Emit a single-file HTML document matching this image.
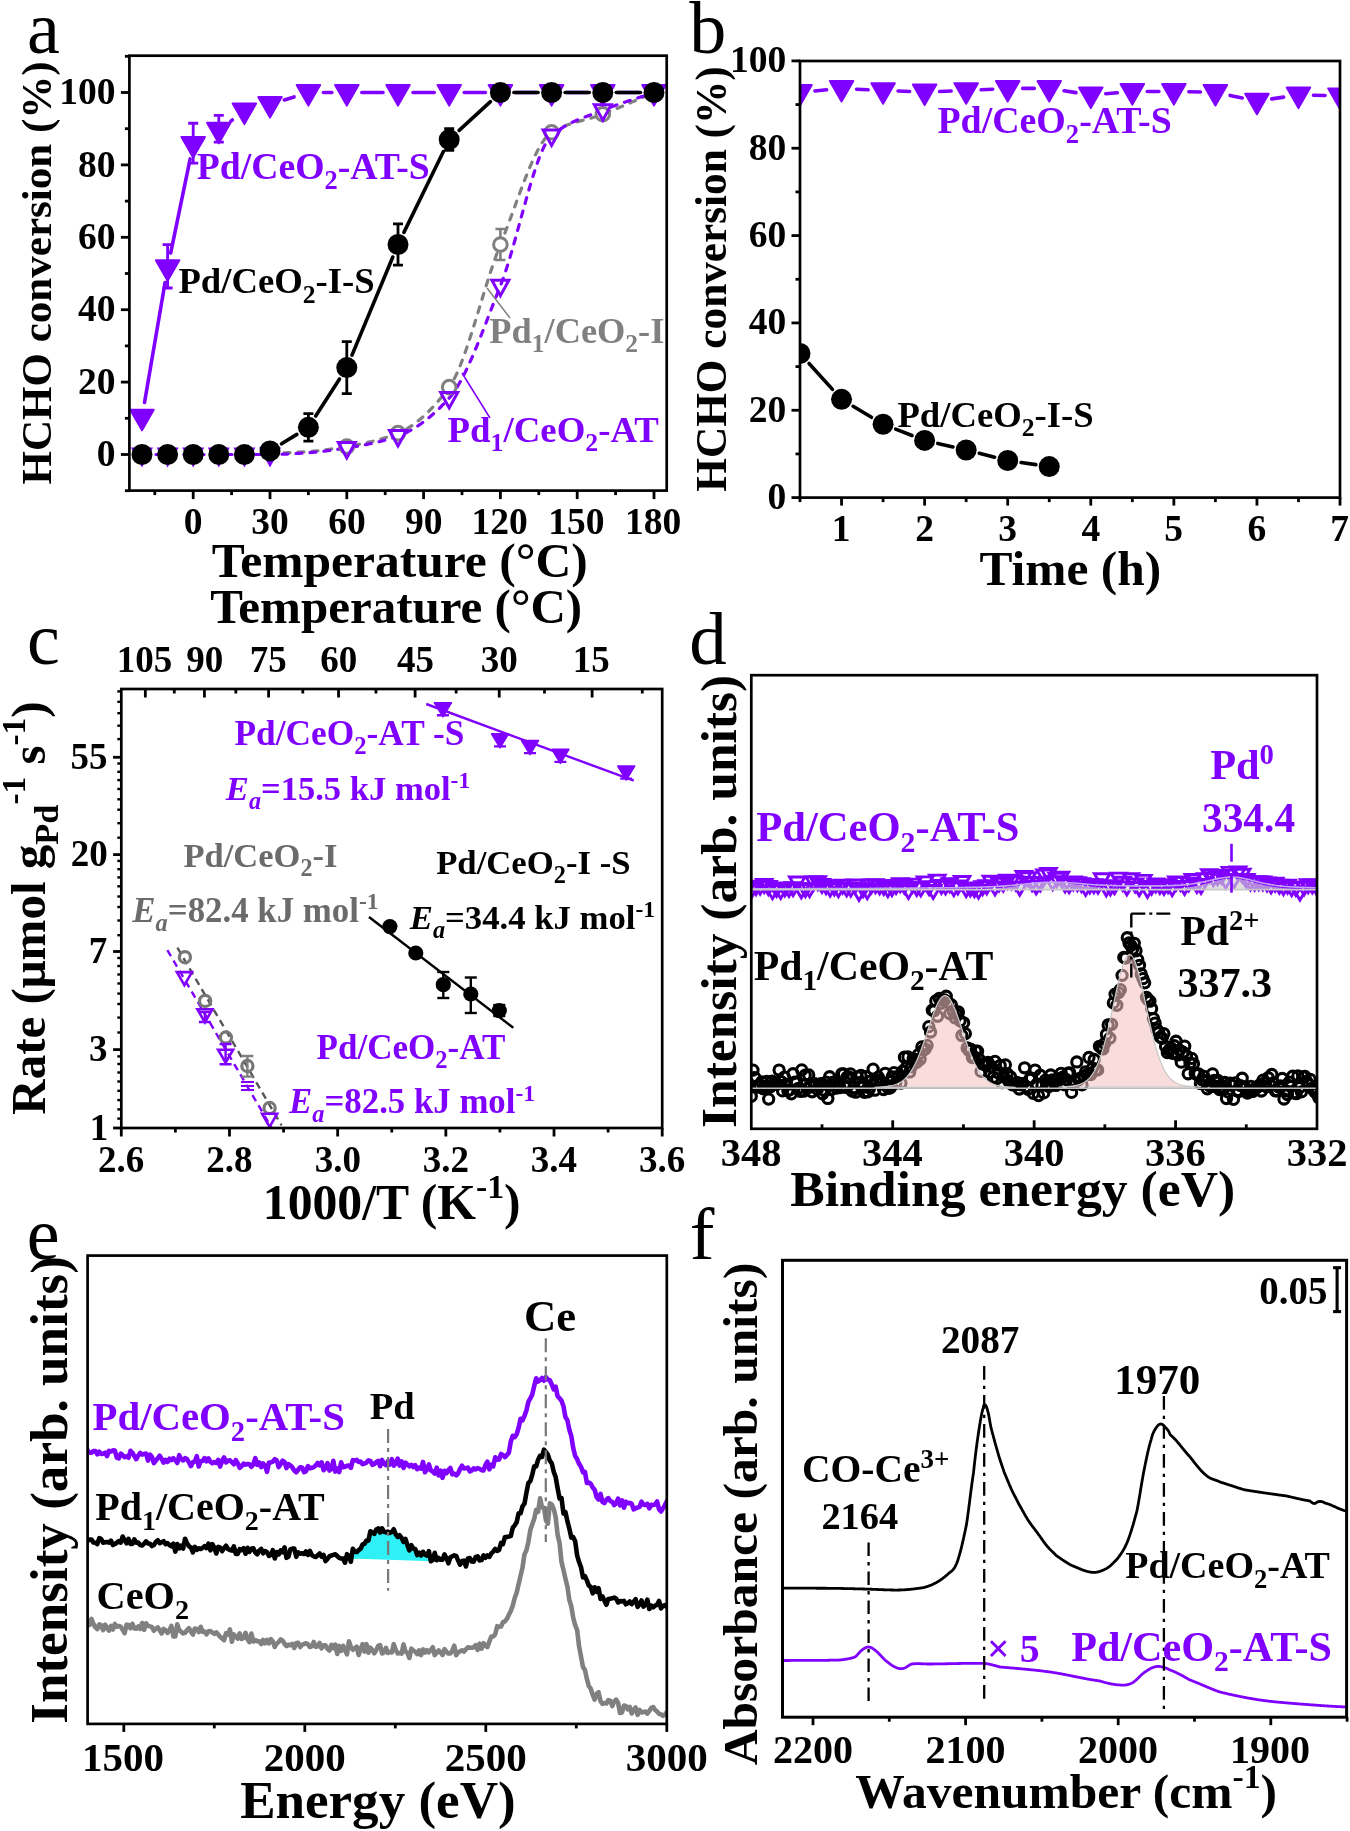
<!DOCTYPE html>
<html><head><meta charset="utf-8"><style>
html,body{margin:0;padding:0;background:#fff;overflow:hidden;}
svg{display:block;will-change:transform;}
text{font-family:"Liberation Serif",serif;}
</style></head><body>
<svg width="1350" height="1831" viewBox="0 0 1350 1831">
<rect width="1350" height="1831" fill="#fff"/>
<clipPath id="ca"><rect x="129.4" y="55.7" width="537.3000000000001" height="434.90000000000003"/></clipPath>
<g clip-path="url(#ca)">
<path d="M270,453.41 L271.01,453.37 L272.02,453.32 L273.03,453.28 L274.04,453.23 L275.05,453.19 L276.06,453.15 L277.07,453.1 L278.08,453.06 L279.09,453.02 L280.11,452.98 L281.12,452.94 L282.13,452.9 L283.14,452.86 L284.15,452.82 L285.16,452.78 L286.17,452.74 L287.18,452.7 L288.19,452.66 L289.2,452.62 L290.21,452.57 L291.22,452.53 L292.23,452.49 L293.24,452.44 L294.25,452.4 L295.26,452.35 L296.27,452.3 L297.28,452.25 L298.29,452.2 L299.31,452.15 L300.32,452.1 L301.33,452.04 L302.34,451.99 L303.35,451.93 L304.36,451.87 L305.37,451.8 L306.38,451.74 L307.39,451.67 L308.4,451.6 L309.41,451.53 L310.42,451.45 L311.43,451.37 L312.44,451.29 L313.45,451.2 L314.46,451.11 L315.47,451.01 L316.48,450.91 L317.49,450.8 L318.51,450.69 L319.52,450.58 L320.53,450.47 L321.54,450.35 L322.55,450.22 L323.56,450.1 L324.57,449.97 L325.58,449.84 L326.59,449.7 L327.6,449.57 L328.61,449.43 L329.62,449.28 L330.63,449.14 L331.64,448.99 L332.65,448.84 L333.66,448.69 L334.67,448.53 L335.68,448.37 L336.69,448.22 L337.71,448.05 L338.72,447.89 L339.73,447.73 L340.74,447.56 L341.75,447.39 L342.76,447.23 L343.77,447.05 L344.78,446.88 L345.79,446.71 L346.8,446.54 L347.8,446.36 L348.81,446.19 L349.81,446.01 L350.82,445.83 L351.82,445.65 L352.82,445.47 L353.83,445.28 L354.83,445.09 L355.84,444.91 L356.84,444.71 L357.84,444.52 L358.85,444.32 L359.85,444.12 L360.85,443.92 L361.86,443.71 L362.86,443.5 L363.87,443.29 L364.87,443.07 L365.87,442.85 L366.88,442.63 L367.88,442.4 L368.89,442.17 L369.89,441.93 L370.89,441.69 L371.9,441.45 L372.9,441.2 L373.91,440.95 L374.91,440.69 L375.91,440.43 L376.92,440.16 L377.92,439.88 L378.93,439.61 L379.93,439.32 L380.93,439.03 L381.94,438.74 L382.94,438.44 L383.95,438.13 L384.95,437.82 L385.95,437.5 L386.96,437.17 L387.96,436.84 L388.96,436.5 L389.97,436.16 L390.97,435.81 L391.98,435.45 L392.98,435.08 L393.98,434.71 L394.99,434.33 L395.99,433.94 L397,433.54 L398,433.14 L399,432.72 L400.01,432.29 L401.01,431.83 L402.02,431.35 L403.02,430.85 L404.02,430.33 L405.03,429.79 L406.03,429.23 L407.04,428.65 L408.04,428.05 L409.04,427.43 L410.05,426.79 L411.05,426.13 L412.05,425.46 L413.06,424.76 L414.06,424.04 L415.07,423.3 L416.07,422.54 L417.07,421.77 L418.08,420.97 L419.08,420.16 L420.09,419.32 L421.09,418.47 L422.09,417.6 L423.1,416.71 L424.1,415.8 L425.11,414.87 L426.11,413.92 L427.11,412.96 L428.12,411.97 L429.12,410.97 L430.13,409.95 L431.13,408.91 L432.13,407.85 L433.14,406.78 L434.14,405.68 L435.15,404.57 L436.15,403.44 L437.15,402.3 L438.16,401.13 L439.16,399.95 L440.16,398.75 L441.17,397.53 L442.17,396.3 L443.18,395.04 L444.18,393.77 L445.18,392.49 L446.19,391.18 L447.19,389.86 L448.2,388.52 L449.2,387.17 L450.2,385.74 L451.21,384.2 L452.21,382.53 L453.22,380.75 L454.22,378.87 L455.22,376.88 L456.23,374.78 L457.23,372.59 L458.24,370.31 L459.24,367.94 L460.24,365.48 L461.25,362.95 L462.25,360.33 L463.25,357.65 L464.26,354.89 L465.26,352.07 L466.27,349.19 L467.27,346.26 L468.27,343.27 L469.28,340.24 L470.28,337.16 L471.29,334.04 L472.29,330.88 L473.29,327.69 L474.3,324.48 L475.3,321.24 L476.31,317.98 L477.31,314.71 L478.31,311.43 L479.32,308.13 L480.32,304.84 L481.33,301.55 L482.33,298.26 L483.33,294.98 L484.34,291.71 L485.34,288.46 L486.35,285.23 L487.35,282.03 L488.35,278.85 L489.36,275.71 L490.36,272.61 L491.36,269.55 L492.37,266.53 L493.37,263.57 L494.38,260.65 L495.38,257.8 L496.38,255.01 L497.39,252.28 L498.39,249.63 L499.4,247.04 L500.4,244.54 L501.4,242.06 L502.41,239.53 L503.41,236.98 L504.42,234.39 L505.42,231.77 L506.42,229.12 L507.43,226.45 L508.43,223.76 L509.44,221.06 L510.44,218.33 L511.44,215.6 L512.45,212.86 L513.45,210.12 L514.45,207.37 L515.46,204.62 L516.46,201.88 L517.47,199.15 L518.47,196.42 L519.47,193.71 L520.48,191.02 L521.48,188.34 L522.49,185.69 L523.49,183.06 L524.49,180.46 L525.5,177.9 L526.5,175.36 L527.51,172.87 L528.51,170.42 L529.51,168.01 L530.52,165.65 L531.52,163.33 L532.53,161.07 L533.53,158.87 L534.53,156.73 L535.54,154.65 L536.54,152.63 L537.55,150.68 L538.55,148.81 L539.55,147.01 L540.56,145.28 L541.56,143.64 L542.56,142.08 L543.57,140.61 L544.57,139.23 L545.58,137.94 L546.58,136.74 L547.58,135.65 L548.59,134.65 L549.59,133.77 L550.6,132.99 L551.6,132.32 L552.6,131.72 L553.61,131.14 L554.61,130.58 L555.62,130.04 L556.62,129.52 L557.62,129.01 L558.63,128.53 L559.63,128.06 L560.64,127.6 L561.64,127.17 L562.64,126.74 L563.65,126.33 L564.65,125.94 L565.65,125.55 L566.66,125.18 L567.66,124.82 L568.67,124.47 L569.67,124.13 L570.67,123.8 L571.68,123.48 L572.68,123.17 L573.69,122.86 L574.69,122.56 L575.69,122.27 L576.7,121.98 L577.7,121.7 L578.71,121.42 L579.71,121.15 L580.71,120.87 L581.72,120.6 L582.72,120.33 L583.73,120.07 L584.73,119.8 L585.73,119.53 L586.74,119.26 L587.74,118.99 L588.75,118.71 L589.75,118.43 L590.75,118.15 L591.76,117.87 L592.76,117.57 L593.76,117.28 L594.77,116.97 L595.77,116.66 L596.78,116.34 L597.78,116.01 L598.78,115.68 L599.79,115.33 L600.79,114.97 L601.8,114.6 L602.8,114.22 L603.8,113.83 L604.81,113.44 L605.81,113.05 L606.82,112.65 L607.82,112.25 L608.82,111.85 L609.83,111.44 L610.83,111.03 L611.84,110.62 L612.84,110.21 L613.84,109.8 L614.85,109.38 L615.85,108.96 L616.85,108.54 L617.86,108.12 L618.86,107.7 L619.87,107.27 L620.87,106.85 L621.87,106.42 L622.88,105.99 L623.88,105.56 L624.89,105.13 L625.89,104.69 L626.89,104.26 L627.9,103.82 L628.9,103.39 L629.91,102.95 L630.91,102.52 L631.91,102.08 L632.92,101.64 L633.92,101.2 L634.93,100.76 L635.93,100.33 L636.93,99.89 L637.94,99.45 L638.94,99.01 L639.95,98.57 L640.95,98.13 L641.95,97.69 L642.96,97.26 L643.96,96.82 L644.96,96.38 L645.97,95.95 L646.97,95.51 L647.98,95.08 L648.98,94.65 L649.98,94.21 L650.99,93.78 L651.99,93.35 L653,92.93 L654,92.5" fill="none" stroke="#808080" stroke-width="3.2" stroke-dasharray="6 8" stroke-linecap="round"/>
<path d="M142,454.5 L143.02,454.5 L144.05,454.5 L145.07,454.5 L146.1,454.5 L147.12,454.5 L148.14,454.5 L149.17,454.5 L150.19,454.5 L151.22,454.5 L152.24,454.5 L153.26,454.5 L154.29,454.5 L155.31,454.5 L156.34,454.5 L157.36,454.5 L158.38,454.5 L159.41,454.5 L160.43,454.5 L161.46,454.5 L162.48,454.5 L163.5,454.5 L164.53,454.5 L165.55,454.5 L166.58,454.5 L167.6,454.5 L168.62,454.5 L169.65,454.5 L170.67,454.5 L171.7,454.5 L172.72,454.5 L173.74,454.5 L174.77,454.5 L175.79,454.5 L176.82,454.5 L177.84,454.5 L178.86,454.5 L179.89,454.5 L180.91,454.5 L181.94,454.5 L182.96,454.5 L183.98,454.5 L185.01,454.5 L186.03,454.5 L187.06,454.5 L188.08,454.5 L189.1,454.5 L190.13,454.5 L191.15,454.5 L192.18,454.5 L193.2,454.5 L194.22,454.5 L195.25,454.5 L196.27,454.5 L197.3,454.5 L198.32,454.5 L199.34,454.5 L200.37,454.5 L201.39,454.5 L202.42,454.5 L203.44,454.5 L204.46,454.5 L205.49,454.5 L206.51,454.5 L207.54,454.5 L208.56,454.5 L209.58,454.5 L210.61,454.5 L211.63,454.5 L212.66,454.5 L213.68,454.5 L214.7,454.5 L215.73,454.5 L216.75,454.5 L217.78,454.5 L218.8,454.5 L219.82,454.5 L220.85,454.5 L221.87,454.5 L222.9,454.5 L223.92,454.5 L224.94,454.5 L225.97,454.5 L226.99,454.5 L228.02,454.5 L229.04,454.5 L230.06,454.5 L231.09,454.5 L232.11,454.5 L233.14,454.5 L234.16,454.5 L235.18,454.5 L236.21,454.5 L237.23,454.5 L238.26,454.5 L239.28,454.5 L240.3,454.5 L241.33,454.5 L242.35,454.5 L243.38,454.5 L244.4,454.5 L245.42,454.5 L246.45,454.5 L247.47,454.5 L248.5,454.5 L249.52,454.5 L250.54,454.5 L251.57,454.5 L252.59,454.5 L253.62,454.5 L254.64,454.5 L255.66,454.5 L256.69,454.5 L257.71,454.5 L258.74,454.5 L259.76,454.5 L260.78,454.5 L261.81,454.5 L262.83,454.5 L263.86,454.5 L264.88,454.5 L265.9,454.5 L266.93,454.5 L267.95,454.5 L268.98,454.5 L270,454.5 L271.01,454.5 L272.02,454.49 L273.03,454.48 L274.04,454.47 L275.05,454.45 L276.06,454.43 L277.07,454.41 L278.08,454.38 L279.09,454.36 L280.11,454.32 L281.12,454.29 L282.13,454.25 L283.14,454.21 L284.15,454.17 L285.16,454.12 L286.17,454.08 L287.18,454.03 L288.19,453.98 L289.2,453.92 L290.21,453.87 L291.22,453.81 L292.23,453.75 L293.24,453.69 L294.25,453.63 L295.26,453.57 L296.27,453.5 L297.28,453.44 L298.29,453.37 L299.31,453.31 L300.32,453.24 L301.33,453.17 L302.34,453.1 L303.35,453.04 L304.36,452.97 L305.37,452.9 L306.38,452.83 L307.39,452.76 L308.4,452.69 L309.41,452.62 L310.42,452.54 L311.43,452.47 L312.44,452.38 L313.45,452.3 L314.46,452.21 L315.47,452.12 L316.48,452.02 L317.49,451.92 L318.51,451.82 L319.52,451.72 L320.53,451.61 L321.54,451.5 L322.55,451.38 L323.56,451.26 L324.57,451.14 L325.58,451.02 L326.59,450.9 L327.6,450.77 L328.61,450.64 L329.62,450.51 L330.63,450.37 L331.64,450.24 L332.65,450.1 L333.66,449.96 L334.67,449.82 L335.68,449.67 L336.69,449.53 L337.71,449.38 L338.72,449.23 L339.73,449.08 L340.74,448.92 L341.75,448.77 L342.76,448.62 L343.77,448.46 L344.78,448.3 L345.79,448.14 L346.8,447.98 L347.8,447.82 L348.81,447.66 L349.81,447.5 L350.82,447.34 L351.82,447.17 L352.82,447.01 L353.83,446.84 L354.83,446.67 L355.84,446.5 L356.84,446.32 L357.84,446.14 L358.85,445.97 L359.85,445.78 L360.85,445.6 L361.86,445.41 L362.86,445.22 L363.87,445.03 L364.87,444.84 L365.87,444.64 L366.88,444.44 L367.88,444.23 L368.89,444.03 L369.89,443.81 L370.89,443.6 L371.9,443.38 L372.9,443.16 L373.91,442.93 L374.91,442.7 L375.91,442.47 L376.92,442.23 L377.92,441.98 L378.93,441.74 L379.93,441.48 L380.93,441.23 L381.94,440.97 L382.94,440.7 L383.95,440.43 L384.95,440.15 L385.95,439.87 L386.96,439.58 L387.96,439.29 L388.96,438.99 L389.97,438.69 L390.97,438.38 L391.98,438.06 L392.98,437.74 L393.98,437.41 L394.99,437.08 L395.99,436.74 L397,436.39 L398,436.04 L399,435.67 L400.01,435.29 L401.01,434.9 L402.02,434.48 L403.02,434.06 L404.02,433.61 L405.03,433.15 L406.03,432.68 L407.04,432.19 L408.04,431.68 L409.04,431.16 L410.05,430.62 L411.05,430.06 L412.05,429.5 L413.06,428.91 L414.06,428.31 L415.07,427.7 L416.07,427.07 L417.07,426.42 L418.08,425.76 L419.08,425.09 L420.09,424.39 L421.09,423.69 L422.09,422.97 L423.1,422.23 L424.1,421.48 L425.11,420.72 L426.11,419.94 L427.11,419.14 L428.12,418.33 L429.12,417.51 L430.13,416.67 L431.13,415.82 L432.13,414.95 L433.14,414.07 L434.14,413.17 L435.15,412.26 L436.15,411.33 L437.15,410.39 L438.16,409.44 L439.16,408.47 L440.16,407.49 L441.17,406.5 L442.17,405.49 L443.18,404.46 L444.18,403.42 L445.18,402.37 L446.19,401.31 L447.19,400.23 L448.2,399.13 L449.2,398.03 L450.2,396.88 L451.21,395.66 L452.21,394.37 L453.22,393.01 L454.22,391.59 L455.22,390.1 L456.23,388.55 L457.23,386.94 L458.24,385.28 L459.24,383.55 L460.24,381.77 L461.25,379.94 L462.25,378.05 L463.25,376.12 L464.26,374.14 L465.26,372.11 L466.27,370.04 L467.27,367.92 L468.27,365.77 L469.28,363.57 L470.28,361.34 L471.29,359.07 L472.29,356.77 L473.29,354.44 L474.3,352.07 L475.3,349.68 L476.31,347.26 L477.31,344.82 L478.31,342.35 L479.32,339.86 L480.32,337.35 L481.33,334.83 L482.33,332.28 L483.33,329.73 L484.34,327.16 L485.34,324.58 L486.35,321.99 L487.35,319.4 L488.35,316.8 L489.36,314.19 L490.36,311.58 L491.36,308.98 L492.37,306.37 L493.37,303.77 L494.38,301.18 L495.38,298.59 L496.38,296.01 L497.39,293.44 L498.39,290.88 L499.4,288.34 L500.4,285.81 L501.4,283.23 L502.41,280.55 L503.41,277.76 L504.42,274.87 L505.42,271.89 L506.42,268.82 L507.43,265.67 L508.43,262.45 L509.44,259.16 L510.44,255.81 L511.44,252.39 L512.45,248.93 L513.45,245.42 L514.45,241.87 L515.46,238.29 L516.46,234.67 L517.47,231.04 L518.47,227.39 L519.47,223.72 L520.48,220.06 L521.48,216.39 L522.49,212.73 L523.49,209.08 L524.49,205.45 L525.5,201.85 L526.5,198.27 L527.51,194.73 L528.51,191.23 L529.51,187.78 L530.52,184.38 L531.52,181.04 L532.53,177.77 L533.53,174.56 L534.53,171.43 L535.54,168.39 L536.54,165.43 L537.55,162.57 L538.55,159.8 L539.55,157.14 L540.56,154.6 L541.56,152.17 L542.56,149.86 L543.57,147.68 L544.57,145.63 L545.58,143.73 L546.58,141.97 L547.58,140.37 L548.59,138.92 L549.59,137.63 L550.6,136.52 L551.6,135.58 L552.6,134.74 L553.61,133.93 L554.61,133.13 L555.62,132.36 L556.62,131.62 L557.62,130.89 L558.63,130.19 L559.63,129.5 L560.64,128.83 L561.64,128.19 L562.64,127.56 L563.65,126.95 L564.65,126.35 L565.65,125.77 L566.66,125.21 L567.66,124.66 L568.67,124.13 L569.67,123.61 L570.67,123.1 L571.68,122.61 L572.68,122.13 L573.69,121.66 L574.69,121.2 L575.69,120.75 L576.7,120.31 L577.7,119.88 L578.71,119.46 L579.71,119.05 L580.71,118.64 L581.72,118.24 L582.72,117.84 L583.73,117.45 L584.73,117.07 L585.73,116.69 L586.74,116.31 L587.74,115.93 L588.75,115.56 L589.75,115.19 L590.75,114.82 L591.76,114.45 L592.76,114.08 L593.76,113.71 L594.77,113.34 L595.77,112.97 L596.78,112.59 L597.78,112.21 L598.78,111.83 L599.79,111.44 L600.79,111.04 L601.8,110.64 L602.8,110.24 L603.8,109.83 L604.81,109.43 L605.81,109.03 L606.82,108.64 L607.82,108.25 L608.82,107.86 L609.83,107.48 L610.83,107.11 L611.84,106.73 L612.84,106.36 L613.84,106 L614.85,105.63 L615.85,105.27 L616.85,104.92 L617.86,104.56 L618.86,104.21 L619.87,103.86 L620.87,103.51 L621.87,103.17 L622.88,102.83 L623.88,102.49 L624.89,102.15 L625.89,101.81 L626.89,101.48 L627.9,101.14 L628.9,100.81 L629.91,100.48 L630.91,100.15 L631.91,99.82 L632.92,99.49 L633.92,99.16 L634.93,98.84 L635.93,98.51 L636.93,98.18 L637.94,97.85 L638.94,97.53 L639.95,97.2 L640.95,96.87 L641.95,96.54 L642.96,96.21 L643.96,95.88 L644.96,95.55 L645.97,95.22 L646.97,94.88 L647.98,94.55 L648.98,94.21 L649.98,93.87 L650.99,93.53 L651.99,93.19 L653,92.85 L654,92.5" fill="none" stroke="#8000FF" stroke-width="3.2" stroke-dasharray="6 8" stroke-linecap="round"/>
<line x1="500.4" y1="229.04" x2="500.4" y2="260.04" stroke="#808080" stroke-width="2.6" />
<line x1="495.4" y1="229.04" x2="505.4" y2="229.04" stroke="#808080" stroke-width="2.6" />
<line x1="495.4" y1="260.04" x2="505.4" y2="260.04" stroke="#808080" stroke-width="2.6" />
<circle cx="346.8" cy="446.54" r="6.8" fill="white" stroke="#808080" stroke-width="3"/>
<circle cx="398" cy="433.14" r="6.8" fill="white" stroke="#808080" stroke-width="3"/>
<circle cx="449.2" cy="387.17" r="6.8" fill="white" stroke="#808080" stroke-width="3"/>
<circle cx="500.4" cy="244.54" r="6.8" fill="white" stroke="#808080" stroke-width="3"/>
<circle cx="551.6" cy="132.32" r="6.8" fill="white" stroke="#808080" stroke-width="3"/>
<circle cx="602.8" cy="114.22" r="6.8" fill="white" stroke="#808080" stroke-width="3"/>
<circle cx="654" cy="92.5" r="6.8" fill="white" stroke="#808080" stroke-width="3"/>
<polygon points="133.5,448.92 150.5,448.92 142,464.42" fill="none" stroke="#8000FF" stroke-width="3" stroke-linejoin="miter"/>
<polygon points="159.1,448.92 176.1,448.92 167.6,464.42" fill="none" stroke="#8000FF" stroke-width="3" stroke-linejoin="miter"/>
<polygon points="184.7,448.92 201.7,448.92 193.2,464.42" fill="none" stroke="#8000FF" stroke-width="3" stroke-linejoin="miter"/>
<polygon points="210.3,448.92 227.3,448.92 218.8,464.42" fill="none" stroke="#8000FF" stroke-width="3" stroke-linejoin="miter"/>
<polygon points="235.9,448.92 252.9,448.92 244.4,464.42" fill="none" stroke="#8000FF" stroke-width="3" stroke-linejoin="miter"/>
<polygon points="261.5,448.92 278.5,448.92 270,464.42" fill="none" stroke="#8000FF" stroke-width="3" stroke-linejoin="miter"/>
<polygon points="338.3,442.4 355.3,442.4 346.8,457.9" fill="none" stroke="#8000FF" stroke-width="3" stroke-linejoin="miter"/>
<polygon points="389.5,430.46 406.5,430.46 398,445.96" fill="none" stroke="#8000FF" stroke-width="3" stroke-linejoin="miter"/>
<polygon points="440.7,392.45 457.7,392.45 449.2,407.95" fill="none" stroke="#8000FF" stroke-width="3" stroke-linejoin="miter"/>
<polygon points="491.9,280.23 508.9,280.23 500.4,295.73" fill="none" stroke="#8000FF" stroke-width="3" stroke-linejoin="miter"/>
<polygon points="543.1,130 560.1,130 551.6,145.5" fill="none" stroke="#8000FF" stroke-width="3" stroke-linejoin="miter"/>
<polygon points="594.3,104.66 611.3,104.66 602.8,120.16" fill="none" stroke="#8000FF" stroke-width="3" stroke-linejoin="miter"/>
<polygon points="645.5,86.92 662.5,86.92 654,102.42" fill="none" stroke="#8000FF" stroke-width="3" stroke-linejoin="miter"/>
<line x1="144.53" y1="402.43" x2="165.07" y2="282.49" stroke="#8000FF" stroke-width="3.6" stroke-linecap="round"/>
<line x1="170.65" y1="253.02" x2="190.15" y2="158.95" stroke="#8000FF" stroke-width="3.6" stroke-linecap="round"/>
<line x1="230.8" y1="121.15" x2="232.4" y2="119.96" stroke="#8000FF" stroke-width="3.6" stroke-linecap="round"/>
<line x1="284.32" y1="99.99" x2="294.08" y2="96.96" stroke="#8000FF" stroke-width="3.6" stroke-linecap="round"/>
<line x1="323.4" y1="92.5" x2="331.8" y2="92.5" stroke="#8000FF" stroke-width="3.6" stroke-linecap="round"/>
<line x1="361.8" y1="92.5" x2="383" y2="92.5" stroke="#8000FF" stroke-width="3.6" stroke-linecap="round"/>
<line x1="413" y1="92.5" x2="434.2" y2="92.5" stroke="#8000FF" stroke-width="3.6" stroke-linecap="round"/>
<line x1="464.2" y1="92.5" x2="485.4" y2="92.5" stroke="#8000FF" stroke-width="3.6" stroke-linecap="round"/>
<line x1="515.4" y1="92.5" x2="536.6" y2="92.5" stroke="#8000FF" stroke-width="3.6" stroke-linecap="round"/>
<line x1="566.6" y1="92.5" x2="587.8" y2="92.5" stroke="#8000FF" stroke-width="3.6" stroke-linecap="round"/>
<line x1="617.8" y1="92.5" x2="639" y2="92.5" stroke="#8000FF" stroke-width="3.6" stroke-linecap="round"/>
<line x1="167.6" y1="244.54" x2="167.6" y2="287.98" stroke="#8000FF" stroke-width="2.8" />
<line x1="162.6" y1="244.54" x2="172.6" y2="244.54" stroke="#8000FF" stroke-width="2.8" />
<line x1="162.6" y1="287.98" x2="172.6" y2="287.98" stroke="#8000FF" stroke-width="2.8" />
<line x1="193.2" y1="123.27" x2="193.2" y2="163.09" stroke="#8000FF" stroke-width="2.8" />
<line x1="188.2" y1="123.27" x2="198.2" y2="123.27" stroke="#8000FF" stroke-width="2.8" />
<line x1="188.2" y1="163.09" x2="198.2" y2="163.09" stroke="#8000FF" stroke-width="2.8" />
<line x1="218.8" y1="115.31" x2="218.8" y2="142.09" stroke="#8000FF" stroke-width="2.8" />
<line x1="213.8" y1="115.31" x2="223.8" y2="115.31" stroke="#8000FF" stroke-width="2.8" />
<line x1="213.8" y1="142.09" x2="223.8" y2="142.09" stroke="#8000FF" stroke-width="2.8" />
<polygon points="130.25,409.83 153.75,409.83 142,430.33" fill="#8000FF" stroke="#8000FF" stroke-width="2" stroke-linejoin="round"/>
<polygon points="155.85,260.33 179.35,260.33 167.6,280.83" fill="#8000FF" stroke="#8000FF" stroke-width="2" stroke-linejoin="round"/>
<polygon points="181.45,136.89 204.95,136.89 193.2,157.39" fill="#8000FF" stroke="#8000FF" stroke-width="2" stroke-linejoin="round"/>
<polygon points="207.05,122.77 230.55,122.77 218.8,143.27" fill="#8000FF" stroke="#8000FF" stroke-width="2" stroke-linejoin="round"/>
<polygon points="232.65,103.58 256.15,103.58 244.4,124.08" fill="#8000FF" stroke="#8000FF" stroke-width="2" stroke-linejoin="round"/>
<polygon points="258.25,97.07 281.75,97.07 270,117.57" fill="#8000FF" stroke="#8000FF" stroke-width="2" stroke-linejoin="round"/>
<polygon points="296.65,85.12 320.15,85.12 308.4,105.62" fill="#8000FF" stroke="#8000FF" stroke-width="2" stroke-linejoin="round"/>
<polygon points="335.05,85.12 358.55,85.12 346.8,105.62" fill="#8000FF" stroke="#8000FF" stroke-width="2" stroke-linejoin="round"/>
<polygon points="386.25,85.12 409.75,85.12 398,105.62" fill="#8000FF" stroke="#8000FF" stroke-width="2" stroke-linejoin="round"/>
<polygon points="437.45,85.12 460.95,85.12 449.2,105.62" fill="#8000FF" stroke="#8000FF" stroke-width="2" stroke-linejoin="round"/>
<polygon points="488.65,85.12 512.15,85.12 500.4,105.62" fill="#8000FF" stroke="#8000FF" stroke-width="2" stroke-linejoin="round"/>
<polygon points="539.85,85.12 563.35,85.12 551.6,105.62" fill="#8000FF" stroke="#8000FF" stroke-width="2" stroke-linejoin="round"/>
<polygon points="591.05,85.12 614.55,85.12 602.8,105.62" fill="#8000FF" stroke="#8000FF" stroke-width="2" stroke-linejoin="round"/>
<polygon points="642.25,85.12 665.75,85.12 654,105.62" fill="#8000FF" stroke="#8000FF" stroke-width="2" stroke-linejoin="round"/>
<line x1="281.51" y1="443.83" x2="296.89" y2="434.4" stroke="#000" stroke-width="3.6" stroke-linecap="round"/>
<line x1="315.7" y1="415.99" x2="339.5" y2="378.98" stroke="#000" stroke-width="3.6" stroke-linecap="round"/>
<line x1="351.99" y1="355.16" x2="392.81" y2="257" stroke="#000" stroke-width="3.6" stroke-linecap="round"/>
<line x1="403.92" y1="232.41" x2="443.28" y2="151.69" stroke="#000" stroke-width="3.6" stroke-linecap="round"/>
<line x1="459.14" y1="130.42" x2="490.46" y2="101.64" stroke="#000" stroke-width="3.6" stroke-linecap="round"/>
<line x1="513.9" y1="92.5" x2="538.1" y2="92.5" stroke="#000" stroke-width="3.6" stroke-linecap="round"/>
<line x1="565.1" y1="92.5" x2="589.3" y2="92.5" stroke="#000" stroke-width="3.6" stroke-linecap="round"/>
<line x1="616.3" y1="92.5" x2="640.5" y2="92.5" stroke="#000" stroke-width="3.6" stroke-linecap="round"/>
<line x1="308.4" y1="413.59" x2="308.4" y2="441.11" stroke="#000" stroke-width="2.8" />
<line x1="303.4" y1="413.59" x2="313.4" y2="413.59" stroke="#000" stroke-width="2.8" />
<line x1="303.4" y1="441.11" x2="313.4" y2="441.11" stroke="#000" stroke-width="2.8" />
<line x1="346.8" y1="341.56" x2="346.8" y2="393.68" stroke="#000" stroke-width="2.8" />
<line x1="341.8" y1="341.56" x2="351.8" y2="341.56" stroke="#000" stroke-width="2.8" />
<line x1="341.8" y1="393.68" x2="351.8" y2="393.68" stroke="#000" stroke-width="2.8" />
<line x1="398" y1="223.91" x2="398" y2="265.17" stroke="#000" stroke-width="2.8" />
<line x1="393" y1="223.91" x2="403" y2="223.91" stroke="#000" stroke-width="2.8" />
<line x1="393" y1="265.17" x2="403" y2="265.17" stroke="#000" stroke-width="2.8" />
<line x1="449.2" y1="128.7" x2="449.2" y2="150.42" stroke="#000" stroke-width="2.8" />
<line x1="444.2" y1="128.7" x2="454.2" y2="128.7" stroke="#000" stroke-width="2.8" />
<line x1="444.2" y1="150.42" x2="454.2" y2="150.42" stroke="#000" stroke-width="2.8" />
<circle cx="142" cy="454.5" r="10.5" fill="#000" stroke="none" stroke-width="0"/>
<circle cx="167.6" cy="454.5" r="10.5" fill="#000" stroke="none" stroke-width="0"/>
<circle cx="193.2" cy="454.5" r="10.5" fill="#000" stroke="none" stroke-width="0"/>
<circle cx="218.8" cy="454.5" r="10.5" fill="#000" stroke="none" stroke-width="0"/>
<circle cx="244.4" cy="454.5" r="10.5" fill="#000" stroke="none" stroke-width="0"/>
<circle cx="270" cy="450.88" r="10.5" fill="#000" stroke="none" stroke-width="0"/>
<circle cx="308.4" cy="427.35" r="10.5" fill="#000" stroke="none" stroke-width="0"/>
<circle cx="346.8" cy="367.62" r="10.5" fill="#000" stroke="none" stroke-width="0"/>
<circle cx="398" cy="244.54" r="10.5" fill="#000" stroke="none" stroke-width="0"/>
<circle cx="449.2" cy="139.56" r="10.5" fill="#000" stroke="none" stroke-width="0"/>
<circle cx="500.4" cy="92.5" r="10.5" fill="#000" stroke="none" stroke-width="0"/>
<circle cx="551.6" cy="92.5" r="10.5" fill="#000" stroke="none" stroke-width="0"/>
<circle cx="602.8" cy="92.5" r="10.5" fill="#000" stroke="none" stroke-width="0"/>
<circle cx="654" cy="92.5" r="10.5" fill="#000" stroke="none" stroke-width="0"/>
</g>
<line x1="487" y1="288" x2="510" y2="318" stroke="#808080" stroke-width="1.5" />
<line x1="462" y1="373" x2="490" y2="418" stroke="#8000FF" stroke-width="1.5" />
<rect x="129.4" y="55.7" width="537.3" height="434.9" fill="none" stroke="#000" stroke-width="2.7"/>
<line x1="124.9" y1="490.7" x2="129.4" y2="490.7" stroke="#000" stroke-width="2.8" />
<line x1="120.9" y1="454.5" x2="129.4" y2="454.5" stroke="#000" stroke-width="2.8" />
<text x="96.85" y="466.1" font-size="37.5" fill="#000" font-weight="bold"><tspan>0</tspan></text>
<line x1="124.9" y1="418.3" x2="129.4" y2="418.3" stroke="#000" stroke-width="2.8" />
<line x1="120.9" y1="382.1" x2="129.4" y2="382.1" stroke="#000" stroke-width="2.8" />
<text x="78.1" y="393.7" font-size="37.5" fill="#000" font-weight="bold"><tspan>20</tspan></text>
<line x1="124.9" y1="345.9" x2="129.4" y2="345.9" stroke="#000" stroke-width="2.8" />
<line x1="120.9" y1="309.7" x2="129.4" y2="309.7" stroke="#000" stroke-width="2.8" />
<text x="78.1" y="321.3" font-size="37.5" fill="#000" font-weight="bold"><tspan>40</tspan></text>
<line x1="124.9" y1="273.5" x2="129.4" y2="273.5" stroke="#000" stroke-width="2.8" />
<line x1="120.9" y1="237.3" x2="129.4" y2="237.3" stroke="#000" stroke-width="2.8" />
<text x="78.1" y="248.9" font-size="37.5" fill="#000" font-weight="bold"><tspan>60</tspan></text>
<line x1="124.9" y1="201.1" x2="129.4" y2="201.1" stroke="#000" stroke-width="2.8" />
<line x1="120.9" y1="164.9" x2="129.4" y2="164.9" stroke="#000" stroke-width="2.8" />
<text x="78.1" y="176.5" font-size="37.5" fill="#000" font-weight="bold"><tspan>80</tspan></text>
<line x1="124.9" y1="128.7" x2="129.4" y2="128.7" stroke="#000" stroke-width="2.8" />
<line x1="120.9" y1="92.5" x2="129.4" y2="92.5" stroke="#000" stroke-width="2.8" />
<text x="59.35" y="104.1" font-size="37.5" fill="#000" font-weight="bold"><tspan>100</tspan></text>
<line x1="124.9" y1="56.3" x2="129.4" y2="56.3" stroke="#000" stroke-width="2.8" />
<line x1="154.8" y1="490.6" x2="154.8" y2="495.1" stroke="#000" stroke-width="2.8" />
<line x1="193.2" y1="490.6" x2="193.2" y2="499.1" stroke="#000" stroke-width="2.8" />
<text x="183.82" y="533.6" font-size="37.5" fill="#000" font-weight="bold"><tspan>0</tspan></text>
<line x1="231.6" y1="490.6" x2="231.6" y2="495.1" stroke="#000" stroke-width="2.8" />
<line x1="270" y1="490.6" x2="270" y2="499.1" stroke="#000" stroke-width="2.8" />
<text x="251.25" y="533.6" font-size="37.5" fill="#000" font-weight="bold"><tspan>30</tspan></text>
<line x1="308.4" y1="490.6" x2="308.4" y2="495.1" stroke="#000" stroke-width="2.8" />
<line x1="346.8" y1="490.6" x2="346.8" y2="499.1" stroke="#000" stroke-width="2.8" />
<text x="328.17" y="533.6" font-size="37.5" fill="#000" font-weight="bold"><tspan>60</tspan></text>
<line x1="385.2" y1="490.6" x2="385.2" y2="495.1" stroke="#000" stroke-width="2.8" />
<line x1="423.6" y1="490.6" x2="423.6" y2="499.1" stroke="#000" stroke-width="2.8" />
<text x="405.1" y="533.6" font-size="37.5" fill="#000" font-weight="bold"><tspan>90</tspan></text>
<line x1="462" y1="490.6" x2="462" y2="495.1" stroke="#000" stroke-width="2.8" />
<line x1="500.4" y1="490.6" x2="500.4" y2="499.1" stroke="#000" stroke-width="2.8" />
<text x="471.52" y="533.6" font-size="37.5" fill="#000" font-weight="bold"><tspan>120</tspan></text>
<line x1="538.8" y1="490.6" x2="538.8" y2="495.1" stroke="#000" stroke-width="2.8" />
<line x1="577.2" y1="490.6" x2="577.2" y2="499.1" stroke="#000" stroke-width="2.8" />
<text x="548.33" y="533.6" font-size="37.5" fill="#000" font-weight="bold"><tspan>150</tspan></text>
<line x1="615.6" y1="490.6" x2="615.6" y2="495.1" stroke="#000" stroke-width="2.8" />
<line x1="654" y1="490.6" x2="654" y2="499.1" stroke="#000" stroke-width="2.8" />
<text x="625.12" y="533.6" font-size="37.5" fill="#000" font-weight="bold"><tspan>180</tspan></text>
<text x="211.69" y="577.2" font-size="49.54" fill="#000" font-weight="bold"><tspan>Temperature (°C)</tspan></text>
<text x="51" y="484.6" font-size="43.05" font-weight="bold" transform="rotate(-90 51 484.6)"><tspan>HCHO conversion (%)</tspan></text>
<text x="196.84" y="178.9" font-size="37.69" fill="#8000FF" font-weight="bold"><tspan>Pd/CeO</tspan><tspan dy="9.8" font-size="26.38">2</tspan><tspan dy="-9.8">-AT-S</tspan></text>
<text x="178.44" y="293" font-size="36.69" fill="#000" font-weight="bold"><tspan>Pd/CeO</tspan><tspan dy="9.54" font-size="25.68">2</tspan><tspan dy="-9.54">-I-S</tspan></text>
<text x="489.37" y="343" font-size="36.37" fill="#808080" font-weight="bold"><tspan>Pd</tspan><tspan dy="9.46" font-size="25.46">1</tspan><tspan dy="-9.46">/CeO</tspan><tspan dy="9.46" font-size="25.46">2</tspan><tspan dy="-9.46">-I</tspan></text>
<text x="447.59" y="441.7" font-size="36.84" fill="#8000FF" font-weight="bold"><tspan>Pd</tspan><tspan dy="9.58" font-size="25.79">1</tspan><tspan dy="-9.58">/CeO</tspan><tspan dy="9.58" font-size="25.79">2</tspan><tspan dy="-9.58">-AT</tspan></text>
<text x="27" y="52.9" font-size="74" font-weight="normal">a</text>
<clipPath id="cb"><rect x="800" y="61" width="540" height="436.6"/></clipPath>
<g clip-path="url(#cb)">
<line x1="814.93" y1="90.93" x2="826.61" y2="89.83" stroke="#8000FF" stroke-width="3.6" stroke-linecap="round"/>
<line x1="856.52" y1="89.2" x2="868.1" y2="89.81" stroke="#8000FF" stroke-width="3.6" stroke-linecap="round"/>
<line x1="898.07" y1="91.07" x2="909.63" y2="91.43" stroke="#8000FF" stroke-width="3.6" stroke-linecap="round"/>
<line x1="939.61" y1="91.43" x2="951.17" y2="91.07" stroke="#8000FF" stroke-width="3.6" stroke-linecap="round"/>
<line x1="981.14" y1="89.81" x2="992.72" y2="89.2" stroke="#8000FF" stroke-width="3.6" stroke-linecap="round"/>
<line x1="1022.7" y1="88.41" x2="1034.24" y2="88.41" stroke="#8000FF" stroke-width="3.6" stroke-linecap="round"/>
<line x1="1064.06" y1="90.75" x2="1075.96" y2="92.63" stroke="#8000FF" stroke-width="3.6" stroke-linecap="round"/>
<line x1="1105.73" y1="93.71" x2="1117.37" y2="92.73" stroke="#8000FF" stroke-width="3.6" stroke-linecap="round"/>
<line x1="1147.32" y1="91.47" x2="1158.86" y2="91.47" stroke="#8000FF" stroke-width="3.6" stroke-linecap="round"/>
<line x1="1188.86" y1="91.78" x2="1200.4" y2="92.03" stroke="#8000FF" stroke-width="3.6" stroke-linecap="round"/>
<line x1="1230.08" y1="95.43" x2="1242.26" y2="97.99" stroke="#8000FF" stroke-width="3.6" stroke-linecap="round"/>
<line x1="1271.78" y1="98.89" x2="1283.64" y2="97.15" stroke="#8000FF" stroke-width="3.6" stroke-linecap="round"/>
<line x1="1313.48" y1="95.28" x2="1325.02" y2="95.52" stroke="#8000FF" stroke-width="3.6" stroke-linecap="round"/>
<polygon points="788.25,84.96 811.75,84.96 800,105.46" fill="#8000FF" stroke="#8000FF" stroke-width="2" stroke-linejoin="round"/>
<polygon points="829.79,81.03 853.29,81.03 841.54,101.53" fill="#8000FF" stroke="#8000FF" stroke-width="2" stroke-linejoin="round"/>
<polygon points="871.33,83.22 894.83,83.22 883.08,103.72" fill="#8000FF" stroke="#8000FF" stroke-width="2" stroke-linejoin="round"/>
<polygon points="912.87,84.53 936.37,84.53 924.62,105.03" fill="#8000FF" stroke="#8000FF" stroke-width="2" stroke-linejoin="round"/>
<polygon points="954.41,83.22 977.91,83.22 966.16,103.72" fill="#8000FF" stroke="#8000FF" stroke-width="2" stroke-linejoin="round"/>
<polygon points="995.95,81.03 1019.45,81.03 1007.7,101.53" fill="#8000FF" stroke="#8000FF" stroke-width="2" stroke-linejoin="round"/>
<polygon points="1037.49,81.03 1060.99,81.03 1049.24,101.53" fill="#8000FF" stroke="#8000FF" stroke-width="2" stroke-linejoin="round"/>
<polygon points="1079.03,87.58 1102.53,87.58 1090.78,108.08" fill="#8000FF" stroke="#8000FF" stroke-width="2" stroke-linejoin="round"/>
<polygon points="1120.57,84.09 1144.07,84.09 1132.32,104.59" fill="#8000FF" stroke="#8000FF" stroke-width="2" stroke-linejoin="round"/>
<polygon points="1162.11,84.09 1185.61,84.09 1173.86,104.59" fill="#8000FF" stroke="#8000FF" stroke-width="2" stroke-linejoin="round"/>
<polygon points="1203.65,84.96 1227.15,84.96 1215.4,105.46" fill="#8000FF" stroke="#8000FF" stroke-width="2" stroke-linejoin="round"/>
<polygon points="1245.19,93.7 1268.69,93.7 1256.94,114.2" fill="#8000FF" stroke="#8000FF" stroke-width="2" stroke-linejoin="round"/>
<polygon points="1286.73,87.58 1310.23,87.58 1298.48,108.08" fill="#8000FF" stroke="#8000FF" stroke-width="2" stroke-linejoin="round"/>
<polygon points="1328.27,88.46 1351.77,88.46 1340.02,108.96" fill="#8000FF" stroke="#8000FF" stroke-width="2" stroke-linejoin="round"/>
<line x1="809.06" y1="363.49" x2="832.48" y2="389.34" stroke="#000" stroke-width="3.6" stroke-linecap="round"/>
<line x1="853.12" y1="406.28" x2="871.5" y2="417.3" stroke="#000" stroke-width="3.6" stroke-linecap="round"/>
<line x1="895.66" y1="429.13" x2="912.04" y2="435.5" stroke="#000" stroke-width="3.6" stroke-linecap="round"/>
<line x1="937.77" y1="443.43" x2="953.01" y2="446.96" stroke="#000" stroke-width="3.6" stroke-linecap="round"/>
<line x1="979.25" y1="453.3" x2="994.61" y2="457.18" stroke="#000" stroke-width="3.6" stroke-linecap="round"/>
<line x1="1021.06" y1="462.45" x2="1035.88" y2="464.63" stroke="#000" stroke-width="3.6" stroke-linecap="round"/>
<circle cx="800" cy="353.49" r="10.5" fill="#000" stroke="none" stroke-width="0"/>
<circle cx="841.54" cy="399.34" r="10.5" fill="#000" stroke="none" stroke-width="0"/>
<circle cx="883.08" cy="424.23" r="10.5" fill="#000" stroke="none" stroke-width="0"/>
<circle cx="924.62" cy="440.39" r="10.5" fill="#000" stroke="none" stroke-width="0"/>
<circle cx="966.16" cy="450" r="10.5" fill="#000" stroke="none" stroke-width="0"/>
<circle cx="1007.7" cy="460.48" r="10.5" fill="#000" stroke="none" stroke-width="0"/>
<circle cx="1049.24" cy="466.59" r="10.5" fill="#000" stroke="none" stroke-width="0"/>
</g>
<rect x="800" y="61" width="540" height="436.6" fill="none" stroke="#000" stroke-width="2.7"/>
<line x1="791.5" y1="497.6" x2="800" y2="497.6" stroke="#000" stroke-width="2.8" />
<text x="767.55" y="509" font-size="37.5" fill="#000" font-weight="bold"><tspan>0</tspan></text>
<line x1="795.5" y1="453.93" x2="800" y2="453.93" stroke="#000" stroke-width="2.8" />
<line x1="791.5" y1="410.26" x2="800" y2="410.26" stroke="#000" stroke-width="2.8" />
<text x="748.8" y="421.66" font-size="37.5" fill="#000" font-weight="bold"><tspan>20</tspan></text>
<line x1="795.5" y1="366.59" x2="800" y2="366.59" stroke="#000" stroke-width="2.8" />
<line x1="791.5" y1="322.92" x2="800" y2="322.92" stroke="#000" stroke-width="2.8" />
<text x="748.8" y="334.32" font-size="37.5" fill="#000" font-weight="bold"><tspan>40</tspan></text>
<line x1="795.5" y1="279.25" x2="800" y2="279.25" stroke="#000" stroke-width="2.8" />
<line x1="791.5" y1="235.58" x2="800" y2="235.58" stroke="#000" stroke-width="2.8" />
<text x="748.8" y="246.98" font-size="37.5" fill="#000" font-weight="bold"><tspan>60</tspan></text>
<line x1="795.5" y1="191.91" x2="800" y2="191.91" stroke="#000" stroke-width="2.8" />
<line x1="791.5" y1="148.24" x2="800" y2="148.24" stroke="#000" stroke-width="2.8" />
<text x="748.8" y="159.64" font-size="37.5" fill="#000" font-weight="bold"><tspan>80</tspan></text>
<line x1="795.5" y1="104.57" x2="800" y2="104.57" stroke="#000" stroke-width="2.8" />
<line x1="791.5" y1="60.9" x2="800" y2="60.9" stroke="#000" stroke-width="2.8" />
<text x="730.05" y="72.3" font-size="37.5" fill="#000" font-weight="bold"><tspan>100</tspan></text>
<line x1="800" y1="497.6" x2="800" y2="502.1" stroke="#000" stroke-width="2.8" />
<line x1="841.54" y1="497.6" x2="841.54" y2="505.6" stroke="#000" stroke-width="2.8" />
<text x="831.66" y="540.7" font-size="37.5" fill="#000" font-weight="bold"><tspan>1</tspan></text>
<line x1="883.08" y1="497.6" x2="883.08" y2="502.1" stroke="#000" stroke-width="2.8" />
<line x1="924.62" y1="497.6" x2="924.62" y2="505.6" stroke="#000" stroke-width="2.8" />
<text x="915.25" y="540.7" font-size="37.5" fill="#000" font-weight="bold"><tspan>2</tspan></text>
<line x1="966.16" y1="497.6" x2="966.16" y2="502.1" stroke="#000" stroke-width="2.8" />
<line x1="1007.7" y1="497.6" x2="1007.7" y2="505.6" stroke="#000" stroke-width="2.8" />
<text x="998.2" y="540.7" font-size="37.5" fill="#000" font-weight="bold"><tspan>3</tspan></text>
<line x1="1049.24" y1="497.6" x2="1049.24" y2="502.1" stroke="#000" stroke-width="2.8" />
<line x1="1090.78" y1="497.6" x2="1090.78" y2="505.6" stroke="#000" stroke-width="2.8" />
<text x="1081.53" y="540.7" font-size="37.5" fill="#000" font-weight="bold"><tspan>4</tspan></text>
<line x1="1132.32" y1="497.6" x2="1132.32" y2="502.1" stroke="#000" stroke-width="2.8" />
<line x1="1173.86" y1="497.6" x2="1173.86" y2="505.6" stroke="#000" stroke-width="2.8" />
<text x="1164.36" y="540.7" font-size="37.5" fill="#000" font-weight="bold"><tspan>5</tspan></text>
<line x1="1215.4" y1="497.6" x2="1215.4" y2="502.1" stroke="#000" stroke-width="2.8" />
<line x1="1256.94" y1="497.6" x2="1256.94" y2="505.6" stroke="#000" stroke-width="2.8" />
<text x="1247.44" y="540.7" font-size="37.5" fill="#000" font-weight="bold"><tspan>6</tspan></text>
<line x1="1298.48" y1="497.6" x2="1298.48" y2="502.1" stroke="#000" stroke-width="2.8" />
<line x1="1340.02" y1="497.6" x2="1340.02" y2="505.6" stroke="#000" stroke-width="2.8" />
<text x="1330.14" y="540.7" font-size="37.5" fill="#000" font-weight="bold"><tspan>7</tspan></text>
<text x="979.56" y="584.7" font-size="49.41" fill="#000" font-weight="bold"><tspan>Time (h)</tspan></text>
<text x="726" y="491.65" font-size="43.25" font-weight="bold" transform="rotate(-90 726 491.65)"><tspan>HCHO conversion (%)</tspan></text>
<text x="937.42" y="133" font-size="37.92" fill="#8000FF" font-weight="bold"><tspan>Pd/CeO</tspan><tspan dy="9.86" font-size="26.54">2</tspan><tspan dy="-9.86">-AT-S</tspan></text>
<text x="897.44" y="426.8" font-size="36.69" fill="#000" font-weight="bold"><tspan>Pd/CeO</tspan><tspan dy="9.54" font-size="25.68">2</tspan><tspan dy="-9.54">-I-S</tspan></text>
<text x="689.2" y="53" font-size="74" font-weight="normal">b</text>
<clipPath id="cc"><rect x="121.3" y="689" width="540.9000000000001" height="439"/></clipPath>
<g clip-path="url(#cc)">
<line x1="426.2" y1="704" x2="633.8" y2="780.7" stroke="#8000FF" stroke-width="2.4" />
<line x1="442.9" y1="703.8" x2="442.9" y2="715.3" stroke="#8000FF" stroke-width="2.4" />
<line x1="436.9" y1="703.8" x2="448.9" y2="703.8" stroke="#8000FF" stroke-width="2.4" />
<line x1="436.9" y1="715.3" x2="448.9" y2="715.3" stroke="#8000FF" stroke-width="2.4" />
<polygon points="434.4,702.76 451.4,702.76 442.9,716.76" fill="#8000FF" stroke="#8000FF" stroke-width="1.5" stroke-linejoin="round"/>
<line x1="500" y1="734.9" x2="500" y2="746.4" stroke="#8000FF" stroke-width="2.4" />
<line x1="494" y1="734.9" x2="506" y2="734.9" stroke="#8000FF" stroke-width="2.4" />
<line x1="494" y1="746.4" x2="506" y2="746.4" stroke="#8000FF" stroke-width="2.4" />
<polygon points="491.5,733.86 508.5,733.86 500,747.86" fill="#8000FF" stroke="#8000FF" stroke-width="1.5" stroke-linejoin="round"/>
<line x1="530" y1="741.6" x2="530" y2="753.1" stroke="#8000FF" stroke-width="2.4" />
<line x1="524" y1="741.6" x2="536" y2="741.6" stroke="#8000FF" stroke-width="2.4" />
<line x1="524" y1="753.1" x2="536" y2="753.1" stroke="#8000FF" stroke-width="2.4" />
<polygon points="521.5,740.56 538.5,740.56 530,754.56" fill="#8000FF" stroke="#8000FF" stroke-width="1.5" stroke-linejoin="round"/>
<line x1="560.4" y1="750.4" x2="560.4" y2="761.9" stroke="#8000FF" stroke-width="2.4" />
<line x1="554.4" y1="750.4" x2="566.4" y2="750.4" stroke="#8000FF" stroke-width="2.4" />
<line x1="554.4" y1="761.9" x2="566.4" y2="761.9" stroke="#8000FF" stroke-width="2.4" />
<polygon points="551.9,749.36 568.9,749.36 560.4,763.36" fill="#8000FF" stroke="#8000FF" stroke-width="1.5" stroke-linejoin="round"/>
<line x1="626.2" y1="767.1" x2="626.2" y2="778.6" stroke="#8000FF" stroke-width="2.4" />
<line x1="620.2" y1="767.1" x2="632.2" y2="767.1" stroke="#8000FF" stroke-width="2.4" />
<line x1="620.2" y1="778.6" x2="632.2" y2="778.6" stroke="#8000FF" stroke-width="2.4" />
<polygon points="617.7,766.06 634.7,766.06 626.2,780.06" fill="#8000FF" stroke="#8000FF" stroke-width="1.5" stroke-linejoin="round"/>
<line x1="369" y1="917" x2="513.3" y2="1027.8" stroke="#000" stroke-width="2.4" />
<line x1="443.3" y1="972" x2="443.3" y2="998" stroke="#000" stroke-width="2.4" />
<line x1="437.3" y1="972" x2="449.3" y2="972" stroke="#000" stroke-width="2.4" />
<line x1="437.3" y1="998" x2="449.3" y2="998" stroke="#000" stroke-width="2.4" />
<line x1="470.8" y1="977.5" x2="470.8" y2="1013" stroke="#000" stroke-width="2.4" />
<line x1="464.8" y1="977.5" x2="476.8" y2="977.5" stroke="#000" stroke-width="2.4" />
<line x1="464.8" y1="1013" x2="476.8" y2="1013" stroke="#000" stroke-width="2.4" />
<line x1="499.3" y1="1005" x2="499.3" y2="1016" stroke="#000" stroke-width="2.4" />
<line x1="493.3" y1="1005" x2="505.3" y2="1005" stroke="#000" stroke-width="2.4" />
<line x1="493.3" y1="1016" x2="505.3" y2="1016" stroke="#000" stroke-width="2.4" />
<circle cx="389.9" cy="926.6" r="7.6" fill="#000" stroke="none" stroke-width="0"/>
<circle cx="415.8" cy="953" r="7.6" fill="#000" stroke="none" stroke-width="0"/>
<circle cx="443.3" cy="984.7" r="7.6" fill="#000" stroke="none" stroke-width="0"/>
<circle cx="470.8" cy="994" r="7.6" fill="#000" stroke="none" stroke-width="0"/>
<circle cx="499.3" cy="1010.6" r="7.6" fill="#000" stroke="none" stroke-width="0"/>
<line x1="177.4" y1="947.7" x2="281.5" y2="1125.3" stroke="#555" stroke-width="2.4" stroke-dasharray="7 5"/>
<line x1="167.4" y1="950.2" x2="271.5" y2="1127.6" stroke="#8000FF" stroke-width="2.4" stroke-dasharray="7 5"/>
<line x1="247.4" y1="1056" x2="247.4" y2="1076.6" stroke="#808080" stroke-width="2.4" />
<line x1="241.4" y1="1056" x2="253.4" y2="1056" stroke="#808080" stroke-width="2.4" />
<line x1="241.4" y1="1076.6" x2="253.4" y2="1076.6" stroke="#808080" stroke-width="2.4" />
<circle cx="184.9" cy="957.2" r="5.6" fill="none" stroke="#777" stroke-width="3.2"/>
<circle cx="205.1" cy="1000.9" r="5.6" fill="none" stroke="#777" stroke-width="3.2"/>
<circle cx="225.9" cy="1037.5" r="5.6" fill="none" stroke="#777" stroke-width="3.2"/>
<circle cx="247.4" cy="1066" r="5.6" fill="none" stroke="#777" stroke-width="3.2"/>
<circle cx="269.6" cy="1108" r="5.6" fill="none" stroke="#777" stroke-width="3.2"/>
<line x1="225.6" y1="1044" x2="225.6" y2="1064.3" stroke="#8000FF" stroke-width="2.4" />
<line x1="219.6" y1="1044" x2="231.6" y2="1044" stroke="#8000FF" stroke-width="2.4" />
<line x1="219.6" y1="1064.3" x2="231.6" y2="1064.3" stroke="#8000FF" stroke-width="2.4" />
<line x1="204.9" y1="1012" x2="204.9" y2="1022" stroke="#8000FF" stroke-width="2.4" />
<line x1="198.9" y1="1012" x2="210.9" y2="1012" stroke="#8000FF" stroke-width="2.4" />
<line x1="198.9" y1="1022" x2="210.9" y2="1022" stroke="#8000FF" stroke-width="2.4" />
<polygon points="176.9,972.1 191.9,972.1 184.4,985.1" fill="none" stroke="#8000FF" stroke-width="2.6" stroke-linejoin="miter"/>
<polygon points="197.4,1009.3 212.4,1009.3 204.9,1022.3" fill="none" stroke="#8000FF" stroke-width="2.6" stroke-linejoin="miter"/>
<polygon points="218.1,1049.7 233.1,1049.7 225.6,1062.7" fill="none" stroke="#8000FF" stroke-width="2.6" stroke-linejoin="miter"/>
<polygon points="262.1,1113.8 277.1,1113.8 269.6,1126.8" fill="none" stroke="#8000FF" stroke-width="2.6" stroke-linejoin="miter"/>
<line x1="241" y1="1082" x2="254" y2="1082" stroke="#8000FF" stroke-width="2.2" />
<line x1="241" y1="1086" x2="254" y2="1086" stroke="#8000FF" stroke-width="2.2" />
<line x1="241" y1="1090" x2="254" y2="1090" stroke="#8000FF" stroke-width="2.2" />
</g>
<rect x="121.3" y="689" width="540.9" height="439" fill="none" stroke="#000" stroke-width="2.7"/>
<line x1="113.1" y1="757.3" x2="121.3" y2="757.3" stroke="#000" stroke-width="2.8" />
<text x="70.55" y="769.1" font-size="37" fill="#000" font-weight="bold"><tspan>55</tspan></text>
<line x1="113.1" y1="854.6" x2="121.3" y2="854.6" stroke="#000" stroke-width="2.8" />
<text x="70.8" y="866.4" font-size="37" fill="#000" font-weight="bold"><tspan>20</tspan></text>
<line x1="113.1" y1="951.5" x2="121.3" y2="951.5" stroke="#000" stroke-width="2.8" />
<text x="88.8" y="963.3" font-size="37" fill="#000" font-weight="bold"><tspan>7</tspan></text>
<line x1="113.1" y1="1049.6" x2="121.3" y2="1049.6" stroke="#000" stroke-width="2.8" />
<text x="89.05" y="1061.4" font-size="37" fill="#000" font-weight="bold"><tspan>3</tspan></text>
<line x1="113.1" y1="1128" x2="121.3" y2="1128" stroke="#000" stroke-width="2.8" />
<text x="89.8" y="1139.8" font-size="37" fill="#000" font-weight="bold"><tspan>1</tspan></text>
<line x1="117.3" y1="691.4" x2="121.3" y2="691.4" stroke="#000" stroke-width="2.4" />
<line x1="117.3" y1="701.8" x2="121.3" y2="701.8" stroke="#000" stroke-width="2.4" />
<line x1="117.3" y1="713.2" x2="121.3" y2="713.2" stroke="#000" stroke-width="2.4" />
<line x1="117.3" y1="725.7" x2="121.3" y2="725.7" stroke="#000" stroke-width="2.4" />
<line x1="117.3" y1="739.1" x2="121.3" y2="739.1" stroke="#000" stroke-width="2.4" />
<line x1="117.3" y1="763.5" x2="121.3" y2="763.5" stroke="#000" stroke-width="2.4" />
<line x1="117.3" y1="771.8" x2="121.3" y2="771.8" stroke="#000" stroke-width="2.4" />
<line x1="117.3" y1="780.1" x2="121.3" y2="780.1" stroke="#000" stroke-width="2.4" />
<line x1="117.3" y1="789" x2="121.3" y2="789" stroke="#000" stroke-width="2.4" />
<line x1="117.3" y1="799.3" x2="121.3" y2="799.3" stroke="#000" stroke-width="2.4" />
<line x1="117.3" y1="809.7" x2="121.3" y2="809.7" stroke="#000" stroke-width="2.4" />
<line x1="117.3" y1="823.2" x2="121.3" y2="823.2" stroke="#000" stroke-width="2.4" />
<line x1="117.3" y1="837.7" x2="121.3" y2="837.7" stroke="#000" stroke-width="2.4" />
<line x1="117.3" y1="860.9" x2="121.3" y2="860.9" stroke="#000" stroke-width="2.4" />
<line x1="117.3" y1="869.2" x2="121.3" y2="869.2" stroke="#000" stroke-width="2.4" />
<line x1="117.3" y1="877.4" x2="121.3" y2="877.4" stroke="#000" stroke-width="2.4" />
<line x1="117.3" y1="886.3" x2="121.3" y2="886.3" stroke="#000" stroke-width="2.4" />
<line x1="117.3" y1="896.5" x2="121.3" y2="896.5" stroke="#000" stroke-width="2.4" />
<line x1="117.3" y1="907" x2="121.3" y2="907" stroke="#000" stroke-width="2.4" />
<line x1="117.3" y1="920.5" x2="121.3" y2="920.5" stroke="#000" stroke-width="2.4" />
<line x1="117.3" y1="935.2" x2="121.3" y2="935.2" stroke="#000" stroke-width="2.4" />
<line x1="117.3" y1="958" x2="121.3" y2="958" stroke="#000" stroke-width="2.4" />
<line x1="117.3" y1="966" x2="121.3" y2="966" stroke="#000" stroke-width="2.4" />
<line x1="117.3" y1="974.5" x2="121.3" y2="974.5" stroke="#000" stroke-width="2.4" />
<line x1="117.3" y1="983.5" x2="121.3" y2="983.5" stroke="#000" stroke-width="2.4" />
<line x1="117.3" y1="993.6" x2="121.3" y2="993.6" stroke="#000" stroke-width="2.4" />
<line x1="117.3" y1="1004" x2="121.3" y2="1004" stroke="#000" stroke-width="2.4" />
<line x1="117.3" y1="1017.6" x2="121.3" y2="1017.6" stroke="#000" stroke-width="2.4" />
<line x1="117.3" y1="1032.5" x2="121.3" y2="1032.5" stroke="#000" stroke-width="2.4" />
<line x1="117.3" y1="1056.4" x2="121.3" y2="1056.4" stroke="#000" stroke-width="2.4" />
<line x1="117.3" y1="1064" x2="121.3" y2="1064" stroke="#000" stroke-width="2.4" />
<line x1="117.3" y1="1072.5" x2="121.3" y2="1072.5" stroke="#000" stroke-width="2.4" />
<line x1="117.3" y1="1081.5" x2="121.3" y2="1081.5" stroke="#000" stroke-width="2.4" />
<line x1="117.3" y1="1090.8" x2="121.3" y2="1090.8" stroke="#000" stroke-width="2.4" />
<line x1="117.3" y1="1100.1" x2="121.3" y2="1100.1" stroke="#000" stroke-width="2.4" />
<line x1="117.3" y1="1109.4" x2="121.3" y2="1109.4" stroke="#000" stroke-width="2.4" />
<line x1="117.3" y1="1118.6" x2="121.3" y2="1118.6" stroke="#000" stroke-width="2.4" />
<line x1="121.3" y1="1128" x2="121.3" y2="1136.5" stroke="#000" stroke-width="2.8" />
<text x="97.92" y="1171.5" font-size="37" fill="#000" font-weight="bold"><tspan>2.6</tspan></text>
<line x1="175.39" y1="1128" x2="175.39" y2="1132.5" stroke="#000" stroke-width="2.8" />
<line x1="229.48" y1="1128" x2="229.48" y2="1136.5" stroke="#000" stroke-width="2.8" />
<text x="206.23" y="1171.5" font-size="37" fill="#000" font-weight="bold"><tspan>2.8</tspan></text>
<line x1="283.57" y1="1128" x2="283.57" y2="1132.5" stroke="#000" stroke-width="2.8" />
<line x1="337.66" y1="1128" x2="337.66" y2="1136.5" stroke="#000" stroke-width="2.8" />
<text x="314.66" y="1171.5" font-size="37" fill="#000" font-weight="bold"><tspan>3.0</tspan></text>
<line x1="391.75" y1="1128" x2="391.75" y2="1132.5" stroke="#000" stroke-width="2.8" />
<line x1="445.84" y1="1128" x2="445.84" y2="1136.5" stroke="#000" stroke-width="2.8" />
<text x="422.84" y="1171.5" font-size="37" fill="#000" font-weight="bold"><tspan>3.2</tspan></text>
<line x1="499.93" y1="1128" x2="499.93" y2="1132.5" stroke="#000" stroke-width="2.8" />
<line x1="554.02" y1="1128" x2="554.02" y2="1136.5" stroke="#000" stroke-width="2.8" />
<text x="530.65" y="1171.5" font-size="37" fill="#000" font-weight="bold"><tspan>3.4</tspan></text>
<line x1="608.11" y1="1128" x2="608.11" y2="1132.5" stroke="#000" stroke-width="2.8" />
<line x1="662.2" y1="1128" x2="662.2" y2="1136.5" stroke="#000" stroke-width="2.8" />
<text x="638.95" y="1171.5" font-size="37" fill="#000" font-weight="bold"><tspan>3.6</tspan></text>
<line x1="145.34" y1="689" x2="145.34" y2="697.5" stroke="#000" stroke-width="2.8" />
<text x="116.72" y="671.8" font-size="37" fill="#000" font-weight="bold"><tspan>105</tspan></text>
<line x1="174.29" y1="689" x2="174.29" y2="693.5" stroke="#000" stroke-width="2.8" />
<line x1="204.43" y1="689" x2="204.43" y2="697.5" stroke="#000" stroke-width="2.8" />
<text x="186.18" y="671.8" font-size="37" fill="#000" font-weight="bold"><tspan>90</tspan></text>
<line x1="235.84" y1="689" x2="235.84" y2="693.5" stroke="#000" stroke-width="2.8" />
<line x1="268.6" y1="689" x2="268.6" y2="697.5" stroke="#000" stroke-width="2.8" />
<text x="249.73" y="671.8" font-size="37" fill="#000" font-weight="bold"><tspan>75</tspan></text>
<line x1="302.81" y1="689" x2="302.81" y2="693.5" stroke="#000" stroke-width="2.8" />
<line x1="338.55" y1="689" x2="338.55" y2="697.5" stroke="#000" stroke-width="2.8" />
<text x="320.18" y="671.8" font-size="37" fill="#000" font-weight="bold"><tspan>60</tspan></text>
<line x1="375.95" y1="689" x2="375.95" y2="693.5" stroke="#000" stroke-width="2.8" />
<line x1="415.1" y1="689" x2="415.1" y2="697.5" stroke="#000" stroke-width="2.8" />
<text x="396.98" y="671.8" font-size="37" fill="#000" font-weight="bold"><tspan>45</tspan></text>
<line x1="456.15" y1="689" x2="456.15" y2="693.5" stroke="#000" stroke-width="2.8" />
<line x1="499.23" y1="689" x2="499.23" y2="697.5" stroke="#000" stroke-width="2.8" />
<text x="480.85" y="671.8" font-size="37" fill="#000" font-weight="bold"><tspan>30</tspan></text>
<line x1="544.49" y1="689" x2="544.49" y2="693.5" stroke="#000" stroke-width="2.8" />
<line x1="592.11" y1="689" x2="592.11" y2="697.5" stroke="#000" stroke-width="2.8" />
<text x="572.73" y="671.8" font-size="37" fill="#000" font-weight="bold"><tspan>15</tspan></text>
<line x1="642.27" y1="689" x2="642.27" y2="693.5" stroke="#000" stroke-width="2.8" />
<text x="210.15" y="622.9" font-size="49" fill="#000" font-weight="bold"><tspan>Temperature (°C)</tspan></text>
<text x="262.77" y="1219.2" font-size="49.72" fill="#000" font-weight="bold"><tspan>1000/T (K</tspan><tspan dy="-21.38" font-size="33.81">-1</tspan><tspan dy="21.38">)</tspan></text>
<text x="45" y="1114.73" font-size="49.02" font-weight="bold" transform="rotate(-90 45 1114.73)"><tspan>Rate (μmol g</tspan><tspan dy="12.74" font-size="34.31">Pd</tspan><tspan dy="-32.35" font-size="33.33">-1</tspan><tspan dy="19.61"> s</tspan><tspan dy="-19.61" font-size="33.33">-1</tspan><tspan dy="19.61">)</tspan></text>
<text x="234.56" y="745.2" font-size="35.31" fill="#8000FF" font-weight="bold"><tspan>Pd/CeO</tspan><tspan dy="9.18" font-size="24.71">2</tspan><tspan dy="-9.18">-AT -S</tspan></text>
<text x="225.82" y="799.6" font-size="34.57" fill="#8000FF" font-weight="bold"><tspan dy="-0" font-style="italic">E</tspan><tspan dy="8.99" font-size="24.2" font-style="italic">a</tspan><tspan dy="-8.99">=15.5 kJ mol</tspan><tspan dy="-12.1" font-size="23.51">-1</tspan></text>
<text x="183.5" y="867" font-size="34.5" fill="#6b6b6b" font-weight="bold"><tspan>Pd/CeO</tspan><tspan dy="8.97" font-size="24.15">2</tspan><tspan dy="-8.97">-I</tspan></text>
<text x="132.35" y="921.5" font-size="34.85" fill="#6b6b6b" font-weight="bold"><tspan dy="-0" font-style="italic">E</tspan><tspan dy="9.06" font-size="24.4" font-style="italic">a</tspan><tspan dy="-9.06">=82.4 kJ mol</tspan><tspan dy="-12.2" font-size="23.7">-1</tspan></text>
<text x="436.16" y="874.4" font-size="34.71" fill="#000" font-weight="bold"><tspan>Pd/CeO</tspan><tspan dy="9.02" font-size="24.3">2</tspan><tspan dy="-9.02">-I -S</tspan></text>
<text x="409.8" y="929" font-size="34.7" fill="#000" font-weight="bold"><tspan dy="-0" font-style="italic">E</tspan><tspan dy="9.02" font-size="24.29" font-style="italic">a</tspan><tspan dy="-9.02">=34.4 kJ mol</tspan><tspan dy="-12.14" font-size="23.59">-1</tspan></text>
<text x="316.55" y="1058.6" font-size="35.05" fill="#8000FF" font-weight="bold"><tspan>Pd/CeO</tspan><tspan dy="9.11" font-size="24.53">2</tspan><tspan dy="-9.11">-AT</tspan></text>
<text x="289.11" y="1113" font-size="34.81" fill="#8000FF" font-weight="bold"><tspan dy="-0" font-style="italic">E</tspan><tspan dy="9.05" font-size="24.37" font-style="italic">a</tspan><tspan dy="-9.05">=82.5 kJ mol</tspan><tspan dy="-12.18" font-size="23.67">-1</tspan></text>
<text x="27" y="663.5" font-size="74" font-weight="normal">c</text>
<clipPath id="cd"><rect x="751.3" y="675.2" width="565.7" height="453.5999999999999"/></clipPath>
<g clip-path="url(#cd)">
<polygon points="740.01,881.46 755.51,881.46 747.76,894.46" fill="none" stroke="#8000FF" stroke-width="2.9" stroke-linejoin="miter"/>
<polygon points="744.14,883.84 759.64,883.84 751.89,896.84" fill="none" stroke="#8000FF" stroke-width="2.9" stroke-linejoin="miter"/>
<polygon points="748.26,881.55 763.76,881.55 756.01,894.55" fill="none" stroke="#8000FF" stroke-width="2.9" stroke-linejoin="miter"/>
<polygon points="752.38,881.27 767.88,881.27 760.13,894.27" fill="none" stroke="#8000FF" stroke-width="2.9" stroke-linejoin="miter"/>
<polygon points="756.5,879.36 772,879.36 764.25,892.36" fill="none" stroke="#8000FF" stroke-width="2.9" stroke-linejoin="miter"/>
<polygon points="760.62,881.57 776.12,881.57 768.37,894.57" fill="none" stroke="#8000FF" stroke-width="2.9" stroke-linejoin="miter"/>
<polygon points="764.74,885.68 780.24,885.68 772.49,898.68" fill="none" stroke="#8000FF" stroke-width="2.9" stroke-linejoin="miter"/>
<polygon points="768.86,883.54 784.36,883.54 776.61,896.54" fill="none" stroke="#8000FF" stroke-width="2.9" stroke-linejoin="miter"/>
<polygon points="772.98,885.43 788.48,885.43 780.73,898.43" fill="none" stroke="#8000FF" stroke-width="2.9" stroke-linejoin="miter"/>
<polygon points="777.1,882.99 792.6,882.99 784.85,895.99" fill="none" stroke="#8000FF" stroke-width="2.9" stroke-linejoin="miter"/>
<polygon points="781.22,883.43 796.72,883.43 788.97,896.43" fill="none" stroke="#8000FF" stroke-width="2.9" stroke-linejoin="miter"/>
<polygon points="785.34,882.77 800.84,882.77 793.09,895.77" fill="none" stroke="#8000FF" stroke-width="2.9" stroke-linejoin="miter"/>
<polygon points="789.46,877.03 804.96,877.03 797.21,890.03" fill="none" stroke="#8000FF" stroke-width="2.9" stroke-linejoin="miter"/>
<polygon points="793.58,884.84 809.08,884.84 801.33,897.84" fill="none" stroke="#8000FF" stroke-width="2.9" stroke-linejoin="miter"/>
<polygon points="797.7,883.75 813.2,883.75 805.45,896.75" fill="none" stroke="#8000FF" stroke-width="2.9" stroke-linejoin="miter"/>
<polygon points="801.82,883.71 817.32,883.71 809.57,896.71" fill="none" stroke="#8000FF" stroke-width="2.9" stroke-linejoin="miter"/>
<polygon points="805.94,876.91 821.44,876.91 813.69,889.91" fill="none" stroke="#8000FF" stroke-width="2.9" stroke-linejoin="miter"/>
<polygon points="810.07,876.74 825.57,876.74 817.82,889.74" fill="none" stroke="#8000FF" stroke-width="2.9" stroke-linejoin="miter"/>
<polygon points="814.19,879.38 829.69,879.38 821.94,892.38" fill="none" stroke="#8000FF" stroke-width="2.9" stroke-linejoin="miter"/>
<polygon points="818.31,880.67 833.81,880.67 826.06,893.67" fill="none" stroke="#8000FF" stroke-width="2.9" stroke-linejoin="miter"/>
<polygon points="822.43,883.06 837.93,883.06 830.18,896.06" fill="none" stroke="#8000FF" stroke-width="2.9" stroke-linejoin="miter"/>
<polygon points="826.55,881.96 842.05,881.96 834.3,894.96" fill="none" stroke="#8000FF" stroke-width="2.9" stroke-linejoin="miter"/>
<polygon points="830.67,883.7 846.17,883.7 838.42,896.7" fill="none" stroke="#8000FF" stroke-width="2.9" stroke-linejoin="miter"/>
<polygon points="834.79,880.08 850.29,880.08 842.54,893.08" fill="none" stroke="#8000FF" stroke-width="2.9" stroke-linejoin="miter"/>
<polygon points="838.91,883.01 854.41,883.01 846.66,896.01" fill="none" stroke="#8000FF" stroke-width="2.9" stroke-linejoin="miter"/>
<polygon points="843.03,883.26 858.53,883.26 850.78,896.26" fill="none" stroke="#8000FF" stroke-width="2.9" stroke-linejoin="miter"/>
<polygon points="847.15,879.97 862.65,879.97 854.9,892.97" fill="none" stroke="#8000FF" stroke-width="2.9" stroke-linejoin="miter"/>
<polygon points="851.27,887.32 866.77,887.32 859.02,900.32" fill="none" stroke="#8000FF" stroke-width="2.9" stroke-linejoin="miter"/>
<polygon points="855.39,883.7 870.89,883.7 863.14,896.7" fill="none" stroke="#8000FF" stroke-width="2.9" stroke-linejoin="miter"/>
<polygon points="859.51,885.67 875.01,885.67 867.26,898.67" fill="none" stroke="#8000FF" stroke-width="2.9" stroke-linejoin="miter"/>
<polygon points="863.63,880.01 879.13,880.01 871.38,893.01" fill="none" stroke="#8000FF" stroke-width="2.9" stroke-linejoin="miter"/>
<polygon points="867.75,879.62 883.25,879.62 875.5,892.62" fill="none" stroke="#8000FF" stroke-width="2.9" stroke-linejoin="miter"/>
<polygon points="871.88,880.82 887.38,880.82 879.63,893.82" fill="none" stroke="#8000FF" stroke-width="2.9" stroke-linejoin="miter"/>
<polygon points="876,881.53 891.5,881.53 883.75,894.53" fill="none" stroke="#8000FF" stroke-width="2.9" stroke-linejoin="miter"/>
<polygon points="880.12,883.79 895.62,883.79 887.87,896.79" fill="none" stroke="#8000FF" stroke-width="2.9" stroke-linejoin="miter"/>
<polygon points="884.24,882.57 899.74,882.57 891.99,895.57" fill="none" stroke="#8000FF" stroke-width="2.9" stroke-linejoin="miter"/>
<polygon points="888.36,880.38 903.86,880.38 896.11,893.38" fill="none" stroke="#8000FF" stroke-width="2.9" stroke-linejoin="miter"/>
<polygon points="892.48,878.77 907.98,878.77 900.23,891.77" fill="none" stroke="#8000FF" stroke-width="2.9" stroke-linejoin="miter"/>
<polygon points="896.6,880.09 912.1,880.09 904.35,893.09" fill="none" stroke="#8000FF" stroke-width="2.9" stroke-linejoin="miter"/>
<polygon points="900.72,885.46 916.22,885.46 908.47,898.46" fill="none" stroke="#8000FF" stroke-width="2.9" stroke-linejoin="miter"/>
<polygon points="904.84,879.13 920.34,879.13 912.59,892.13" fill="none" stroke="#8000FF" stroke-width="2.9" stroke-linejoin="miter"/>
<polygon points="908.96,882.36 924.46,882.36 916.71,895.36" fill="none" stroke="#8000FF" stroke-width="2.9" stroke-linejoin="miter"/>
<polygon points="913.08,882.88 928.58,882.88 920.83,895.88" fill="none" stroke="#8000FF" stroke-width="2.9" stroke-linejoin="miter"/>
<polygon points="917.2,876.9 932.7,876.9 924.95,889.9" fill="none" stroke="#8000FF" stroke-width="2.9" stroke-linejoin="miter"/>
<polygon points="921.32,881.62 936.82,881.62 929.07,894.62" fill="none" stroke="#8000FF" stroke-width="2.9" stroke-linejoin="miter"/>
<polygon points="925.44,885.48 940.94,885.48 933.19,898.48" fill="none" stroke="#8000FF" stroke-width="2.9" stroke-linejoin="miter"/>
<polygon points="929.56,875.14 945.06,875.14 937.31,888.14" fill="none" stroke="#8000FF" stroke-width="2.9" stroke-linejoin="miter"/>
<polygon points="933.69,880.34 949.19,880.34 941.44,893.34" fill="none" stroke="#8000FF" stroke-width="2.9" stroke-linejoin="miter"/>
<polygon points="937.81,880.96 953.31,880.96 945.56,893.96" fill="none" stroke="#8000FF" stroke-width="2.9" stroke-linejoin="miter"/>
<polygon points="941.93,878.7 957.43,878.7 949.68,891.7" fill="none" stroke="#8000FF" stroke-width="2.9" stroke-linejoin="miter"/>
<polygon points="946.05,882.72 961.55,882.72 953.8,895.72" fill="none" stroke="#8000FF" stroke-width="2.9" stroke-linejoin="miter"/>
<polygon points="950.17,880.93 965.67,880.93 957.92,893.93" fill="none" stroke="#8000FF" stroke-width="2.9" stroke-linejoin="miter"/>
<polygon points="954.29,876.51 969.79,876.51 962.04,889.51" fill="none" stroke="#8000FF" stroke-width="2.9" stroke-linejoin="miter"/>
<polygon points="958.41,883.55 973.91,883.55 966.16,896.55" fill="none" stroke="#8000FF" stroke-width="2.9" stroke-linejoin="miter"/>
<polygon points="962.53,882.98 978.03,882.98 970.28,895.98" fill="none" stroke="#8000FF" stroke-width="2.9" stroke-linejoin="miter"/>
<polygon points="966.65,883.74 982.15,883.74 974.4,896.74" fill="none" stroke="#8000FF" stroke-width="2.9" stroke-linejoin="miter"/>
<polygon points="970.77,885.17 986.27,885.17 978.52,898.17" fill="none" stroke="#8000FF" stroke-width="2.9" stroke-linejoin="miter"/>
<polygon points="974.89,881.7 990.39,881.7 982.64,894.7" fill="none" stroke="#8000FF" stroke-width="2.9" stroke-linejoin="miter"/>
<polygon points="979.01,880.8 994.51,880.8 986.76,893.8" fill="none" stroke="#8000FF" stroke-width="2.9" stroke-linejoin="miter"/>
<polygon points="983.13,876.24 998.63,876.24 990.88,889.24" fill="none" stroke="#8000FF" stroke-width="2.9" stroke-linejoin="miter"/>
<polygon points="987.25,881.97 1002.75,881.97 995,894.97" fill="none" stroke="#8000FF" stroke-width="2.9" stroke-linejoin="miter"/>
<polygon points="991.37,877.93 1006.87,877.93 999.12,890.93" fill="none" stroke="#8000FF" stroke-width="2.9" stroke-linejoin="miter"/>
<polygon points="995.5,878.15 1011,878.15 1003.25,891.15" fill="none" stroke="#8000FF" stroke-width="2.9" stroke-linejoin="miter"/>
<polygon points="999.62,875.32 1015.12,875.32 1007.37,888.32" fill="none" stroke="#8000FF" stroke-width="2.9" stroke-linejoin="miter"/>
<polygon points="1003.74,875.89 1019.24,875.89 1011.49,888.89" fill="none" stroke="#8000FF" stroke-width="2.9" stroke-linejoin="miter"/>
<polygon points="1007.86,876.86 1023.36,876.86 1015.61,889.86" fill="none" stroke="#8000FF" stroke-width="2.9" stroke-linejoin="miter"/>
<polygon points="1011.98,882.09 1027.48,882.09 1019.73,895.09" fill="none" stroke="#8000FF" stroke-width="2.9" stroke-linejoin="miter"/>
<polygon points="1016.1,871.37 1031.6,871.37 1023.85,884.37" fill="none" stroke="#8000FF" stroke-width="2.9" stroke-linejoin="miter"/>
<polygon points="1020.22,872.72 1035.72,872.72 1027.97,885.72" fill="none" stroke="#8000FF" stroke-width="2.9" stroke-linejoin="miter"/>
<polygon points="1024.34,877.57 1039.84,877.57 1032.09,890.57" fill="none" stroke="#8000FF" stroke-width="2.9" stroke-linejoin="miter"/>
<polygon points="1028.46,880.91 1043.96,880.91 1036.21,893.91" fill="none" stroke="#8000FF" stroke-width="2.9" stroke-linejoin="miter"/>
<polygon points="1032.58,877.9 1048.08,877.9 1040.33,890.9" fill="none" stroke="#8000FF" stroke-width="2.9" stroke-linejoin="miter"/>
<polygon points="1036.7,869.95 1052.2,869.95 1044.45,882.95" fill="none" stroke="#8000FF" stroke-width="2.9" stroke-linejoin="miter"/>
<polygon points="1040.82,868.54 1056.32,868.54 1048.57,881.54" fill="none" stroke="#8000FF" stroke-width="2.9" stroke-linejoin="miter"/>
<polygon points="1044.94,876.71 1060.44,876.71 1052.69,889.71" fill="none" stroke="#8000FF" stroke-width="2.9" stroke-linejoin="miter"/>
<polygon points="1049.06,873.34 1064.56,873.34 1056.81,886.34" fill="none" stroke="#8000FF" stroke-width="2.9" stroke-linejoin="miter"/>
<polygon points="1053.18,872.28 1068.68,872.28 1060.93,885.28" fill="none" stroke="#8000FF" stroke-width="2.9" stroke-linejoin="miter"/>
<polygon points="1057.3,878.99 1072.8,878.99 1065.05,891.99" fill="none" stroke="#8000FF" stroke-width="2.9" stroke-linejoin="miter"/>
<polygon points="1061.43,879.65 1076.93,879.65 1069.18,892.65" fill="none" stroke="#8000FF" stroke-width="2.9" stroke-linejoin="miter"/>
<polygon points="1065.55,877.03 1081.05,877.03 1073.3,890.03" fill="none" stroke="#8000FF" stroke-width="2.9" stroke-linejoin="miter"/>
<polygon points="1069.67,877.65 1085.17,877.65 1077.42,890.65" fill="none" stroke="#8000FF" stroke-width="2.9" stroke-linejoin="miter"/>
<polygon points="1073.79,878.58 1089.29,878.58 1081.54,891.58" fill="none" stroke="#8000FF" stroke-width="2.9" stroke-linejoin="miter"/>
<polygon points="1077.91,882.51 1093.41,882.51 1085.66,895.51" fill="none" stroke="#8000FF" stroke-width="2.9" stroke-linejoin="miter"/>
<polygon points="1082.03,879.81 1097.53,879.81 1089.78,892.81" fill="none" stroke="#8000FF" stroke-width="2.9" stroke-linejoin="miter"/>
<polygon points="1086.15,879.79 1101.65,879.79 1093.9,892.79" fill="none" stroke="#8000FF" stroke-width="2.9" stroke-linejoin="miter"/>
<polygon points="1090.27,880.14 1105.77,880.14 1098.02,893.14" fill="none" stroke="#8000FF" stroke-width="2.9" stroke-linejoin="miter"/>
<polygon points="1094.39,873.8 1109.89,873.8 1102.14,886.8" fill="none" stroke="#8000FF" stroke-width="2.9" stroke-linejoin="miter"/>
<polygon points="1098.51,882.82 1114.01,882.82 1106.26,895.82" fill="none" stroke="#8000FF" stroke-width="2.9" stroke-linejoin="miter"/>
<polygon points="1102.63,881.96 1118.13,881.96 1110.38,894.96" fill="none" stroke="#8000FF" stroke-width="2.9" stroke-linejoin="miter"/>
<polygon points="1106.75,880.76 1122.25,880.76 1114.5,893.76" fill="none" stroke="#8000FF" stroke-width="2.9" stroke-linejoin="miter"/>
<polygon points="1110.87,873.09 1126.37,873.09 1118.62,886.09" fill="none" stroke="#8000FF" stroke-width="2.9" stroke-linejoin="miter"/>
<polygon points="1114.99,877.32 1130.49,877.32 1122.74,890.32" fill="none" stroke="#8000FF" stroke-width="2.9" stroke-linejoin="miter"/>
<polygon points="1119.11,881.95 1134.61,881.95 1126.86,894.95" fill="none" stroke="#8000FF" stroke-width="2.9" stroke-linejoin="miter"/>
<polygon points="1123.24,873.76 1138.74,873.76 1130.99,886.76" fill="none" stroke="#8000FF" stroke-width="2.9" stroke-linejoin="miter"/>
<polygon points="1127.36,878.83 1142.86,878.83 1135.11,891.83" fill="none" stroke="#8000FF" stroke-width="2.9" stroke-linejoin="miter"/>
<polygon points="1131.48,882.58 1146.98,882.58 1139.23,895.58" fill="none" stroke="#8000FF" stroke-width="2.9" stroke-linejoin="miter"/>
<polygon points="1135.6,875.36 1151.1,875.36 1143.35,888.36" fill="none" stroke="#8000FF" stroke-width="2.9" stroke-linejoin="miter"/>
<polygon points="1139.72,884.41 1155.22,884.41 1147.47,897.41" fill="none" stroke="#8000FF" stroke-width="2.9" stroke-linejoin="miter"/>
<polygon points="1143.84,881.12 1159.34,881.12 1151.59,894.12" fill="none" stroke="#8000FF" stroke-width="2.9" stroke-linejoin="miter"/>
<polygon points="1147.96,878.93 1163.46,878.93 1155.71,891.93" fill="none" stroke="#8000FF" stroke-width="2.9" stroke-linejoin="miter"/>
<polygon points="1152.08,880.36 1167.58,880.36 1159.83,893.36" fill="none" stroke="#8000FF" stroke-width="2.9" stroke-linejoin="miter"/>
<polygon points="1156.2,881.31 1171.7,881.31 1163.95,894.31" fill="none" stroke="#8000FF" stroke-width="2.9" stroke-linejoin="miter"/>
<polygon points="1160.32,879.58 1175.82,879.58 1168.07,892.58" fill="none" stroke="#8000FF" stroke-width="2.9" stroke-linejoin="miter"/>
<polygon points="1164.44,882.62 1179.94,882.62 1172.19,895.62" fill="none" stroke="#8000FF" stroke-width="2.9" stroke-linejoin="miter"/>
<polygon points="1168.56,876.83 1184.06,876.83 1176.31,889.83" fill="none" stroke="#8000FF" stroke-width="2.9" stroke-linejoin="miter"/>
<polygon points="1172.68,877.33 1188.18,877.33 1180.43,890.33" fill="none" stroke="#8000FF" stroke-width="2.9" stroke-linejoin="miter"/>
<polygon points="1176.8,881.5 1192.3,881.5 1184.55,894.5" fill="none" stroke="#8000FF" stroke-width="2.9" stroke-linejoin="miter"/>
<polygon points="1180.92,877.91 1196.42,877.91 1188.67,890.91" fill="none" stroke="#8000FF" stroke-width="2.9" stroke-linejoin="miter"/>
<polygon points="1185.05,874.54 1200.55,874.54 1192.8,887.54" fill="none" stroke="#8000FF" stroke-width="2.9" stroke-linejoin="miter"/>
<polygon points="1189.17,879.54 1204.67,879.54 1196.92,892.54" fill="none" stroke="#8000FF" stroke-width="2.9" stroke-linejoin="miter"/>
<polygon points="1193.29,880.37 1208.79,880.37 1201.04,893.37" fill="none" stroke="#8000FF" stroke-width="2.9" stroke-linejoin="miter"/>
<polygon points="1197.41,873.58 1212.91,873.58 1205.16,886.58" fill="none" stroke="#8000FF" stroke-width="2.9" stroke-linejoin="miter"/>
<polygon points="1201.53,869.76 1217.03,869.76 1209.28,882.76" fill="none" stroke="#8000FF" stroke-width="2.9" stroke-linejoin="miter"/>
<polygon points="1205.65,872.69 1221.15,872.69 1213.4,885.69" fill="none" stroke="#8000FF" stroke-width="2.9" stroke-linejoin="miter"/>
<polygon points="1209.77,871.76 1225.27,871.76 1217.52,884.76" fill="none" stroke="#8000FF" stroke-width="2.9" stroke-linejoin="miter"/>
<polygon points="1213.89,870.53 1229.39,870.53 1221.64,883.53" fill="none" stroke="#8000FF" stroke-width="2.9" stroke-linejoin="miter"/>
<polygon points="1218.01,875.25 1233.51,875.25 1225.76,888.25" fill="none" stroke="#8000FF" stroke-width="2.9" stroke-linejoin="miter"/>
<polygon points="1222.13,867.42 1237.63,867.42 1229.88,880.42" fill="none" stroke="#8000FF" stroke-width="2.9" stroke-linejoin="miter"/>
<polygon points="1226.25,874.55 1241.75,874.55 1234,887.55" fill="none" stroke="#8000FF" stroke-width="2.9" stroke-linejoin="miter"/>
<polygon points="1230.37,867.07 1245.87,867.07 1238.12,880.07" fill="none" stroke="#8000FF" stroke-width="2.9" stroke-linejoin="miter"/>
<polygon points="1234.49,869.2 1249.99,869.2 1242.24,882.2" fill="none" stroke="#8000FF" stroke-width="2.9" stroke-linejoin="miter"/>
<polygon points="1238.61,874.45 1254.11,874.45 1246.36,887.45" fill="none" stroke="#8000FF" stroke-width="2.9" stroke-linejoin="miter"/>
<polygon points="1242.73,876.97 1258.23,876.97 1250.48,889.97" fill="none" stroke="#8000FF" stroke-width="2.9" stroke-linejoin="miter"/>
<polygon points="1246.86,877.16 1262.36,877.16 1254.61,890.16" fill="none" stroke="#8000FF" stroke-width="2.9" stroke-linejoin="miter"/>
<polygon points="1250.98,876.59 1266.48,876.59 1258.73,889.59" fill="none" stroke="#8000FF" stroke-width="2.9" stroke-linejoin="miter"/>
<polygon points="1255.1,876.93 1270.6,876.93 1262.85,889.93" fill="none" stroke="#8000FF" stroke-width="2.9" stroke-linejoin="miter"/>
<polygon points="1259.22,877.85 1274.72,877.85 1266.97,890.85" fill="none" stroke="#8000FF" stroke-width="2.9" stroke-linejoin="miter"/>
<polygon points="1263.34,879.93 1278.84,879.93 1271.09,892.93" fill="none" stroke="#8000FF" stroke-width="2.9" stroke-linejoin="miter"/>
<polygon points="1267.46,878.26 1282.96,878.26 1275.21,891.26" fill="none" stroke="#8000FF" stroke-width="2.9" stroke-linejoin="miter"/>
<polygon points="1271.58,880.21 1287.08,880.21 1279.33,893.21" fill="none" stroke="#8000FF" stroke-width="2.9" stroke-linejoin="miter"/>
<polygon points="1275.7,881.57 1291.2,881.57 1283.45,894.57" fill="none" stroke="#8000FF" stroke-width="2.9" stroke-linejoin="miter"/>
<polygon points="1279.82,880.15 1295.32,880.15 1287.57,893.15" fill="none" stroke="#8000FF" stroke-width="2.9" stroke-linejoin="miter"/>
<polygon points="1283.94,882.79 1299.44,882.79 1291.69,895.79" fill="none" stroke="#8000FF" stroke-width="2.9" stroke-linejoin="miter"/>
<polygon points="1288.06,882.4 1303.56,882.4 1295.81,895.4" fill="none" stroke="#8000FF" stroke-width="2.9" stroke-linejoin="miter"/>
<polygon points="1292.18,887.05 1307.68,887.05 1299.93,900.05" fill="none" stroke="#8000FF" stroke-width="2.9" stroke-linejoin="miter"/>
<polygon points="1296.3,881.96 1311.8,881.96 1304.05,894.96" fill="none" stroke="#8000FF" stroke-width="2.9" stroke-linejoin="miter"/>
<polygon points="1300.42,879.74 1315.92,879.74 1308.17,892.74" fill="none" stroke="#8000FF" stroke-width="2.9" stroke-linejoin="miter"/>
<polygon points="1304.54,880 1320.04,880 1312.29,893" fill="none" stroke="#8000FF" stroke-width="2.9" stroke-linejoin="miter"/>
<polygon points="1308.66,881.19 1324.16,881.19 1316.41,894.19" fill="none" stroke="#8000FF" stroke-width="2.9" stroke-linejoin="miter"/>
<polygon points="1312.79,884.17 1328.29,884.17 1320.54,897.17" fill="none" stroke="#8000FF" stroke-width="2.9" stroke-linejoin="miter"/>
<path d="M966.97,889.32 L968.74,889.3 L970.51,889.28 L972.28,889.25 L974.04,889.22 L975.81,889.18 L977.58,889.14 L979.35,889.1 L981.12,889.05 L982.88,888.99 L984.65,888.92 L986.42,888.85 L988.19,888.77 L989.95,888.69 L991.72,888.59 L993.49,888.49 L995.26,888.37 L997.03,888.24 L998.79,888.1 L1000.56,887.96 L1002.33,887.8 L1004.1,887.62 L1005.87,887.44 L1007.63,887.24 L1009.4,887.04 L1011.17,886.82 L1012.94,886.59 L1014.7,886.35 L1016.47,886.1 L1018.24,885.85 L1020.01,885.59 L1021.78,885.32 L1023.54,885.05 L1025.31,884.78 L1027.08,884.51 L1028.85,884.24 L1030.61,883.98 L1032.38,883.72 L1034.15,883.47 L1035.92,883.24 L1037.69,883.02 L1039.45,882.82 L1041.22,882.64 L1042.99,882.48 L1044.76,882.35 L1046.52,882.24 L1048.29,882.16 L1050.06,882.12 L1051.83,882.1 L1053.6,882.12 L1055.36,882.16 L1057.13,882.24 L1058.9,882.35 L1060.67,882.48 L1062.44,882.64 L1064.2,882.82 L1065.97,883.02 L1067.74,883.24 L1069.51,883.47 L1071.27,883.72 L1073.04,883.98 L1074.81,884.24 L1076.58,884.51 L1078.35,884.78 L1080.11,885.05 L1081.88,885.32 L1083.65,885.59 L1085.42,885.85 L1087.18,886.1 L1088.95,886.35 L1090.72,886.59 L1092.49,886.82 L1094.26,887.04 L1096.02,887.24 L1097.79,887.44 L1099.56,887.62 L1101.33,887.8 L1103.09,887.96 L1104.86,888.1 L1106.63,888.24 L1108.4,888.37 L1110.17,888.49 L1111.93,888.59 L1113.7,888.69 L1115.47,888.77 L1117.24,888.85 L1119.01,888.93 L1120.77,888.99 L1122.54,889.05 L1124.31,889.1 L1126.08,889.14 L1127.84,889.18 L1129.61,889.22 L1131.38,889.25 L1133.15,889.28 L1134.92,889.3 L1136.68,889.32 Z" fill="#d0d0d0" fill-opacity="0.65" stroke="none"/>
<path d="M1147.29,889.36 L1149.06,889.35 L1150.83,889.33 L1152.59,889.32 L1154.36,889.3 L1156.13,889.27 L1157.9,889.25 L1159.66,889.22 L1161.43,889.18 L1163.2,889.14 L1164.97,889.09 L1166.74,889.04 L1168.5,888.97 L1170.27,888.9 L1172.04,888.82 L1173.81,888.72 L1175.58,888.61 L1177.34,888.48 L1179.11,888.34 L1180.88,888.18 L1182.65,888.01 L1184.41,887.81 L1186.18,887.58 L1187.95,887.34 L1189.72,887.07 L1191.49,886.78 L1193.25,886.47 L1195.02,886.13 L1196.79,885.76 L1198.56,885.38 L1200.32,884.97 L1202.09,884.54 L1203.86,884.1 L1205.63,883.64 L1207.4,883.18 L1209.16,882.71 L1210.93,882.23 L1212.7,881.76 L1214.47,881.31 L1216.23,880.86 L1218,880.44 L1219.77,880.05 L1221.54,879.69 L1223.31,879.37 L1225.07,879.1 L1226.84,878.89 L1228.61,878.73 L1230.38,878.63 L1232.15,878.6 L1233.91,878.63 L1235.68,878.73 L1237.45,878.89 L1239.22,879.1 L1240.98,879.37 L1242.75,879.69 L1244.52,880.05 L1246.29,880.44 L1248.06,880.86 L1249.82,881.31 L1251.59,881.76 L1253.36,882.23 L1255.13,882.71 L1256.89,883.18 L1258.66,883.64 L1260.43,884.1 L1262.2,884.54 L1263.97,884.97 L1265.73,885.38 L1267.5,885.76 L1269.27,886.13 L1271.04,886.47 L1272.8,886.78 L1274.57,887.07 L1276.34,887.34 L1278.11,887.58 L1279.88,887.81 L1281.64,888.01 L1283.41,888.18 L1285.18,888.34 L1286.95,888.48 L1288.72,888.61 L1290.48,888.72 L1292.25,888.82 L1294.02,888.9 L1295.79,888.97 L1297.55,889.04 L1299.32,889.09 L1301.09,889.14 L1302.86,889.18 L1304.63,889.22 L1306.39,889.25 L1308.16,889.27 L1309.93,889.3 L1311.7,889.32 L1313.46,889.33 L1315.23,889.35 L1317,889.36 Z" fill="#d0d0d0" fill-opacity="0.65" stroke="none"/>
<polyline points="744.23,888.76 747.76,888.75 751.3,888.75 754.84,888.75 758.37,888.74 761.91,888.74 765.44,888.74 768.98,888.73 772.51,888.73 776.05,888.73 779.59,888.72 783.12,888.72 786.66,888.71 790.19,888.71 793.73,888.7 797.26,888.69 800.8,888.69 804.33,888.68 807.87,888.67 811.41,888.66 814.94,888.65 818.48,888.65 822.01,888.64 825.55,888.63 829.08,888.62 832.62,888.6 836.16,888.59 839.69,888.58 843.23,888.57 846.76,888.55 850.3,888.54 853.83,888.52 857.37,888.51 860.9,888.49 864.44,888.47 867.98,888.45 871.51,888.43 875.05,888.41 878.58,888.39 882.12,888.37 885.65,888.34 889.19,888.32 892.72,888.3 896.26,888.27 899.8,888.24 903.33,888.21 906.87,888.18 910.4,888.15 913.94,888.12 917.47,888.09 921.01,888.06 924.55,888.02 928.08,887.98 931.62,887.95 935.15,887.91 938.69,887.87 942.22,887.83 945.76,887.78 949.3,887.74 952.83,887.69 956.37,887.64 959.9,887.59 963.44,887.53 966.97,887.47 970.51,887.4 974.04,887.32 977.58,887.23 981.12,887.13 984.65,887.01 988.19,886.88 991.72,886.72 995.26,886.55 998.79,886.34 1002.33,886.11 1005.86,885.85 1009.4,885.57 1012.94,885.26 1016.47,884.92 1020.01,884.57 1023.54,884.2 1027.08,883.83 1030.61,883.47 1034.15,883.13 1037.69,882.81 1041.22,882.54 1044.76,882.33 1048.29,882.18 1051.83,882.1 1055.36,882.11 1058.9,882.18 1062.44,882.32 1065.97,882.52 1069.51,882.76 1073.04,883.03 1076.58,883.32 1080.11,883.61 1083.65,883.91 1087.18,884.19 1090.72,884.46 1094.26,884.71 1097.79,884.93 1101.33,885.12 1104.86,885.29 1108.4,885.43 1111.93,885.55 1115.47,885.64 1119.01,885.72 1122.54,885.78 1126.08,885.83 1129.61,885.86 1133.15,885.89 1136.68,885.91 1140.22,885.92 1143.75,885.92 1147.29,885.92 1150.83,885.92 1154.36,885.9 1157.9,885.88 1161.43,885.84 1164.97,885.78 1168.5,885.69 1172.04,885.58 1175.58,885.42 1179.11,885.21 1182.65,884.95 1186.18,884.61 1189.72,884.2 1193.25,883.7 1196.79,883.13 1200.32,882.47 1203.86,881.74 1207.4,880.97 1210.93,880.16 1214.47,879.37 1218,878.62 1221.54,877.97 1225.07,877.47 1228.61,877.16 1232.15,877.08 1235.68,877.25 1239.22,877.64 1242.75,878.23 1246.29,878.97 1249.82,879.8 1253.36,880.69 1256.89,881.57 1260.43,882.43 1263.97,883.24 1267.5,883.98 1271.04,884.64 1274.57,885.21 1278.11,885.7 1281.64,886.11 1285.18,886.45 1288.71,886.73 1292.25,886.96 1295.79,887.14 1299.32,887.29 1302.86,887.41 1306.39,887.52 1309.93,887.6 1313.46,887.68 1317,887.74 1320.54,887.8 1324.07,887.86" fill="none" stroke="#c0a0f0" stroke-width="1.6" stroke-linejoin="round" />
<line x1="751.3" y1="889.6" x2="1317" y2="889.6" stroke="#c8c8c8" stroke-width="1.6" />
<circle cx="747.76" cy="1082.5" r="5.1" fill="none" stroke="#000" stroke-width="3.1"/>
<circle cx="749.51" cy="1087.05" r="5.1" fill="none" stroke="#000" stroke-width="3.1"/>
<circle cx="751.25" cy="1096.19" r="5.1" fill="none" stroke="#000" stroke-width="3.1"/>
<circle cx="752.99" cy="1070.13" r="5.1" fill="none" stroke="#000" stroke-width="3.1"/>
<circle cx="754.73" cy="1077.53" r="5.1" fill="none" stroke="#000" stroke-width="3.1"/>
<circle cx="756.47" cy="1086.15" r="5.1" fill="none" stroke="#000" stroke-width="3.1"/>
<circle cx="758.21" cy="1087.12" r="5.1" fill="none" stroke="#000" stroke-width="3.1"/>
<circle cx="759.95" cy="1086.11" r="5.1" fill="none" stroke="#000" stroke-width="3.1"/>
<circle cx="761.69" cy="1081.89" r="5.1" fill="none" stroke="#000" stroke-width="3.1"/>
<circle cx="763.43" cy="1088.73" r="5.1" fill="none" stroke="#000" stroke-width="3.1"/>
<circle cx="765.17" cy="1086.37" r="5.1" fill="none" stroke="#000" stroke-width="3.1"/>
<circle cx="766.91" cy="1081.3" r="5.1" fill="none" stroke="#000" stroke-width="3.1"/>
<circle cx="768.66" cy="1099.08" r="5.1" fill="none" stroke="#000" stroke-width="3.1"/>
<circle cx="770.4" cy="1086.82" r="5.1" fill="none" stroke="#000" stroke-width="3.1"/>
<circle cx="772.14" cy="1081.08" r="5.1" fill="none" stroke="#000" stroke-width="3.1"/>
<circle cx="773.88" cy="1083.94" r="5.1" fill="none" stroke="#000" stroke-width="3.1"/>
<circle cx="775.62" cy="1083.14" r="5.1" fill="none" stroke="#000" stroke-width="3.1"/>
<circle cx="777.36" cy="1084.16" r="5.1" fill="none" stroke="#000" stroke-width="3.1"/>
<circle cx="779.1" cy="1070.06" r="5.1" fill="none" stroke="#000" stroke-width="3.1"/>
<circle cx="780.84" cy="1081.47" r="5.1" fill="none" stroke="#000" stroke-width="3.1"/>
<circle cx="782.58" cy="1090.88" r="5.1" fill="none" stroke="#000" stroke-width="3.1"/>
<circle cx="784.32" cy="1077.16" r="5.1" fill="none" stroke="#000" stroke-width="3.1"/>
<circle cx="786.07" cy="1084.09" r="5.1" fill="none" stroke="#000" stroke-width="3.1"/>
<circle cx="787.81" cy="1090.5" r="5.1" fill="none" stroke="#000" stroke-width="3.1"/>
<circle cx="789.55" cy="1089.88" r="5.1" fill="none" stroke="#000" stroke-width="3.1"/>
<circle cx="791.29" cy="1093.87" r="5.1" fill="none" stroke="#000" stroke-width="3.1"/>
<circle cx="793.03" cy="1073.74" r="5.1" fill="none" stroke="#000" stroke-width="3.1"/>
<circle cx="794.77" cy="1082.22" r="5.1" fill="none" stroke="#000" stroke-width="3.1"/>
<circle cx="796.51" cy="1082.28" r="5.1" fill="none" stroke="#000" stroke-width="3.1"/>
<circle cx="798.25" cy="1088.34" r="5.1" fill="none" stroke="#000" stroke-width="3.1"/>
<circle cx="799.99" cy="1091.27" r="5.1" fill="none" stroke="#000" stroke-width="3.1"/>
<circle cx="801.73" cy="1069.89" r="5.1" fill="none" stroke="#000" stroke-width="3.1"/>
<circle cx="803.47" cy="1091.22" r="5.1" fill="none" stroke="#000" stroke-width="3.1"/>
<circle cx="805.22" cy="1075.22" r="5.1" fill="none" stroke="#000" stroke-width="3.1"/>
<circle cx="806.96" cy="1088.62" r="5.1" fill="none" stroke="#000" stroke-width="3.1"/>
<circle cx="808.7" cy="1074.89" r="5.1" fill="none" stroke="#000" stroke-width="3.1"/>
<circle cx="810.44" cy="1085.38" r="5.1" fill="none" stroke="#000" stroke-width="3.1"/>
<circle cx="812.18" cy="1091.77" r="5.1" fill="none" stroke="#000" stroke-width="3.1"/>
<circle cx="813.92" cy="1083.28" r="5.1" fill="none" stroke="#000" stroke-width="3.1"/>
<circle cx="815.66" cy="1085.4" r="5.1" fill="none" stroke="#000" stroke-width="3.1"/>
<circle cx="817.4" cy="1089.19" r="5.1" fill="none" stroke="#000" stroke-width="3.1"/>
<circle cx="819.14" cy="1085.02" r="5.1" fill="none" stroke="#000" stroke-width="3.1"/>
<circle cx="820.88" cy="1083.54" r="5.1" fill="none" stroke="#000" stroke-width="3.1"/>
<circle cx="822.63" cy="1093.73" r="5.1" fill="none" stroke="#000" stroke-width="3.1"/>
<circle cx="824.37" cy="1090.64" r="5.1" fill="none" stroke="#000" stroke-width="3.1"/>
<circle cx="826.11" cy="1082.14" r="5.1" fill="none" stroke="#000" stroke-width="3.1"/>
<circle cx="827.85" cy="1098.44" r="5.1" fill="none" stroke="#000" stroke-width="3.1"/>
<circle cx="829.59" cy="1076.68" r="5.1" fill="none" stroke="#000" stroke-width="3.1"/>
<circle cx="831.33" cy="1089.63" r="5.1" fill="none" stroke="#000" stroke-width="3.1"/>
<circle cx="833.07" cy="1082.14" r="5.1" fill="none" stroke="#000" stroke-width="3.1"/>
<circle cx="834.81" cy="1084.6" r="5.1" fill="none" stroke="#000" stroke-width="3.1"/>
<circle cx="836.55" cy="1088.16" r="5.1" fill="none" stroke="#000" stroke-width="3.1"/>
<circle cx="838.29" cy="1085.06" r="5.1" fill="none" stroke="#000" stroke-width="3.1"/>
<circle cx="840.03" cy="1087.63" r="5.1" fill="none" stroke="#000" stroke-width="3.1"/>
<circle cx="841.78" cy="1073.92" r="5.1" fill="none" stroke="#000" stroke-width="3.1"/>
<circle cx="843.52" cy="1073.97" r="5.1" fill="none" stroke="#000" stroke-width="3.1"/>
<circle cx="845.26" cy="1087.28" r="5.1" fill="none" stroke="#000" stroke-width="3.1"/>
<circle cx="847" cy="1077.27" r="5.1" fill="none" stroke="#000" stroke-width="3.1"/>
<circle cx="848.74" cy="1076.79" r="5.1" fill="none" stroke="#000" stroke-width="3.1"/>
<circle cx="850.48" cy="1073.92" r="5.1" fill="none" stroke="#000" stroke-width="3.1"/>
<circle cx="852.22" cy="1091.07" r="5.1" fill="none" stroke="#000" stroke-width="3.1"/>
<circle cx="853.96" cy="1087.71" r="5.1" fill="none" stroke="#000" stroke-width="3.1"/>
<circle cx="855.7" cy="1092.19" r="5.1" fill="none" stroke="#000" stroke-width="3.1"/>
<circle cx="857.44" cy="1076.9" r="5.1" fill="none" stroke="#000" stroke-width="3.1"/>
<circle cx="859.18" cy="1082.71" r="5.1" fill="none" stroke="#000" stroke-width="3.1"/>
<circle cx="860.93" cy="1075.4" r="5.1" fill="none" stroke="#000" stroke-width="3.1"/>
<circle cx="862.67" cy="1087.29" r="5.1" fill="none" stroke="#000" stroke-width="3.1"/>
<circle cx="864.41" cy="1092.35" r="5.1" fill="none" stroke="#000" stroke-width="3.1"/>
<circle cx="866.15" cy="1076.59" r="5.1" fill="none" stroke="#000" stroke-width="3.1"/>
<circle cx="867.89" cy="1091.88" r="5.1" fill="none" stroke="#000" stroke-width="3.1"/>
<circle cx="869.63" cy="1088.11" r="5.1" fill="none" stroke="#000" stroke-width="3.1"/>
<circle cx="871.37" cy="1080.6" r="5.1" fill="none" stroke="#000" stroke-width="3.1"/>
<circle cx="873.11" cy="1069.11" r="5.1" fill="none" stroke="#000" stroke-width="3.1"/>
<circle cx="874.85" cy="1090.2" r="5.1" fill="none" stroke="#000" stroke-width="3.1"/>
<circle cx="876.59" cy="1080.52" r="5.1" fill="none" stroke="#000" stroke-width="3.1"/>
<circle cx="878.34" cy="1077.1" r="5.1" fill="none" stroke="#000" stroke-width="3.1"/>
<circle cx="880.08" cy="1083.16" r="5.1" fill="none" stroke="#000" stroke-width="3.1"/>
<circle cx="881.82" cy="1082.95" r="5.1" fill="none" stroke="#000" stroke-width="3.1"/>
<circle cx="883.56" cy="1089.5" r="5.1" fill="none" stroke="#000" stroke-width="3.1"/>
<circle cx="885.3" cy="1073.3" r="5.1" fill="none" stroke="#000" stroke-width="3.1"/>
<circle cx="887.04" cy="1086.51" r="5.1" fill="none" stroke="#000" stroke-width="3.1"/>
<circle cx="888.78" cy="1088.3" r="5.1" fill="none" stroke="#000" stroke-width="3.1"/>
<circle cx="890.52" cy="1087.61" r="5.1" fill="none" stroke="#000" stroke-width="3.1"/>
<circle cx="892.26" cy="1076.8" r="5.1" fill="none" stroke="#000" stroke-width="3.1"/>
<circle cx="894" cy="1072.66" r="5.1" fill="none" stroke="#000" stroke-width="3.1"/>
<circle cx="895.74" cy="1083.09" r="5.1" fill="none" stroke="#000" stroke-width="3.1"/>
<circle cx="897.49" cy="1076.63" r="5.1" fill="none" stroke="#000" stroke-width="3.1"/>
<circle cx="899.23" cy="1075.82" r="5.1" fill="none" stroke="#000" stroke-width="3.1"/>
<circle cx="900.97" cy="1083.03" r="5.1" fill="none" stroke="#000" stroke-width="3.1"/>
<circle cx="902.71" cy="1071.27" r="5.1" fill="none" stroke="#000" stroke-width="3.1"/>
<circle cx="904.45" cy="1057.19" r="5.1" fill="none" stroke="#000" stroke-width="3.1"/>
<circle cx="906.19" cy="1067.78" r="5.1" fill="none" stroke="#000" stroke-width="3.1"/>
<circle cx="907.93" cy="1056.92" r="5.1" fill="none" stroke="#000" stroke-width="3.1"/>
<circle cx="909.67" cy="1071.93" r="5.1" fill="none" stroke="#000" stroke-width="3.1"/>
<circle cx="911.41" cy="1066.73" r="5.1" fill="none" stroke="#000" stroke-width="3.1"/>
<circle cx="913.15" cy="1058.61" r="5.1" fill="none" stroke="#000" stroke-width="3.1"/>
<circle cx="914.9" cy="1059.88" r="5.1" fill="none" stroke="#000" stroke-width="3.1"/>
<circle cx="916.64" cy="1062.41" r="5.1" fill="none" stroke="#000" stroke-width="3.1"/>
<circle cx="918.38" cy="1054.63" r="5.1" fill="none" stroke="#000" stroke-width="3.1"/>
<circle cx="920.12" cy="1059.19" r="5.1" fill="none" stroke="#000" stroke-width="3.1"/>
<circle cx="921.86" cy="1046.9" r="5.1" fill="none" stroke="#000" stroke-width="3.1"/>
<circle cx="923.6" cy="1050.04" r="5.1" fill="none" stroke="#000" stroke-width="3.1"/>
<circle cx="925.34" cy="1048.86" r="5.1" fill="none" stroke="#000" stroke-width="3.1"/>
<circle cx="927.08" cy="1045.39" r="5.1" fill="none" stroke="#000" stroke-width="3.1"/>
<circle cx="928.82" cy="1026.66" r="5.1" fill="none" stroke="#000" stroke-width="3.1"/>
<circle cx="930.56" cy="1031.98" r="5.1" fill="none" stroke="#000" stroke-width="3.1"/>
<circle cx="932.3" cy="1010.15" r="5.1" fill="none" stroke="#000" stroke-width="3.1"/>
<circle cx="934.05" cy="1010.75" r="5.1" fill="none" stroke="#000" stroke-width="3.1"/>
<circle cx="935.79" cy="1001.02" r="5.1" fill="none" stroke="#000" stroke-width="3.1"/>
<circle cx="937.53" cy="1016.25" r="5.1" fill="none" stroke="#000" stroke-width="3.1"/>
<circle cx="939.27" cy="998.36" r="5.1" fill="none" stroke="#000" stroke-width="3.1"/>
<circle cx="941.01" cy="1003.26" r="5.1" fill="none" stroke="#000" stroke-width="3.1"/>
<circle cx="942.75" cy="1000.11" r="5.1" fill="none" stroke="#000" stroke-width="3.1"/>
<circle cx="944.49" cy="999.99" r="5.1" fill="none" stroke="#000" stroke-width="3.1"/>
<circle cx="946.23" cy="996.22" r="5.1" fill="none" stroke="#000" stroke-width="3.1"/>
<circle cx="947.97" cy="1002.14" r="5.1" fill="none" stroke="#000" stroke-width="3.1"/>
<circle cx="949.71" cy="1013.58" r="5.1" fill="none" stroke="#000" stroke-width="3.1"/>
<circle cx="951.46" cy="1005.01" r="5.1" fill="none" stroke="#000" stroke-width="3.1"/>
<circle cx="953.2" cy="1011.19" r="5.1" fill="none" stroke="#000" stroke-width="3.1"/>
<circle cx="954.94" cy="1017.81" r="5.1" fill="none" stroke="#000" stroke-width="3.1"/>
<circle cx="956.68" cy="1014.31" r="5.1" fill="none" stroke="#000" stroke-width="3.1"/>
<circle cx="958.42" cy="1011.93" r="5.1" fill="none" stroke="#000" stroke-width="3.1"/>
<circle cx="960.16" cy="1020.8" r="5.1" fill="none" stroke="#000" stroke-width="3.1"/>
<circle cx="961.9" cy="1035.52" r="5.1" fill="none" stroke="#000" stroke-width="3.1"/>
<circle cx="963.64" cy="1022.79" r="5.1" fill="none" stroke="#000" stroke-width="3.1"/>
<circle cx="965.38" cy="1033.67" r="5.1" fill="none" stroke="#000" stroke-width="3.1"/>
<circle cx="967.12" cy="1047.88" r="5.1" fill="none" stroke="#000" stroke-width="3.1"/>
<circle cx="968.86" cy="1050.41" r="5.1" fill="none" stroke="#000" stroke-width="3.1"/>
<circle cx="970.61" cy="1049.12" r="5.1" fill="none" stroke="#000" stroke-width="3.1"/>
<circle cx="972.35" cy="1057.54" r="5.1" fill="none" stroke="#000" stroke-width="3.1"/>
<circle cx="974.09" cy="1056.65" r="5.1" fill="none" stroke="#000" stroke-width="3.1"/>
<circle cx="975.83" cy="1051.06" r="5.1" fill="none" stroke="#000" stroke-width="3.1"/>
<circle cx="977.57" cy="1051.25" r="5.1" fill="none" stroke="#000" stroke-width="3.1"/>
<circle cx="979.31" cy="1059.45" r="5.1" fill="none" stroke="#000" stroke-width="3.1"/>
<circle cx="981.05" cy="1071.41" r="5.1" fill="none" stroke="#000" stroke-width="3.1"/>
<circle cx="982.79" cy="1063.94" r="5.1" fill="none" stroke="#000" stroke-width="3.1"/>
<circle cx="984.53" cy="1063.51" r="5.1" fill="none" stroke="#000" stroke-width="3.1"/>
<circle cx="986.27" cy="1065.84" r="5.1" fill="none" stroke="#000" stroke-width="3.1"/>
<circle cx="988.01" cy="1062.37" r="5.1" fill="none" stroke="#000" stroke-width="3.1"/>
<circle cx="989.76" cy="1072.45" r="5.1" fill="none" stroke="#000" stroke-width="3.1"/>
<circle cx="991.5" cy="1066.77" r="5.1" fill="none" stroke="#000" stroke-width="3.1"/>
<circle cx="993.24" cy="1077.39" r="5.1" fill="none" stroke="#000" stroke-width="3.1"/>
<circle cx="994.98" cy="1061.39" r="5.1" fill="none" stroke="#000" stroke-width="3.1"/>
<circle cx="996.72" cy="1078.63" r="5.1" fill="none" stroke="#000" stroke-width="3.1"/>
<circle cx="998.46" cy="1073.12" r="5.1" fill="none" stroke="#000" stroke-width="3.1"/>
<circle cx="1000.2" cy="1065.45" r="5.1" fill="none" stroke="#000" stroke-width="3.1"/>
<circle cx="1001.94" cy="1082.72" r="5.1" fill="none" stroke="#000" stroke-width="3.1"/>
<circle cx="1003.68" cy="1076.82" r="5.1" fill="none" stroke="#000" stroke-width="3.1"/>
<circle cx="1005.42" cy="1064.86" r="5.1" fill="none" stroke="#000" stroke-width="3.1"/>
<circle cx="1007.17" cy="1073.71" r="5.1" fill="none" stroke="#000" stroke-width="3.1"/>
<circle cx="1008.91" cy="1081.34" r="5.1" fill="none" stroke="#000" stroke-width="3.1"/>
<circle cx="1010.65" cy="1076.86" r="5.1" fill="none" stroke="#000" stroke-width="3.1"/>
<circle cx="1012.39" cy="1084.88" r="5.1" fill="none" stroke="#000" stroke-width="3.1"/>
<circle cx="1014.13" cy="1084.87" r="5.1" fill="none" stroke="#000" stroke-width="3.1"/>
<circle cx="1015.87" cy="1084.53" r="5.1" fill="none" stroke="#000" stroke-width="3.1"/>
<circle cx="1017.61" cy="1082.54" r="5.1" fill="none" stroke="#000" stroke-width="3.1"/>
<circle cx="1019.35" cy="1089.01" r="5.1" fill="none" stroke="#000" stroke-width="3.1"/>
<circle cx="1021.09" cy="1084.88" r="5.1" fill="none" stroke="#000" stroke-width="3.1"/>
<circle cx="1022.83" cy="1083.67" r="5.1" fill="none" stroke="#000" stroke-width="3.1"/>
<circle cx="1024.57" cy="1067.78" r="5.1" fill="none" stroke="#000" stroke-width="3.1"/>
<circle cx="1026.32" cy="1086.63" r="5.1" fill="none" stroke="#000" stroke-width="3.1"/>
<circle cx="1028.06" cy="1089.29" r="5.1" fill="none" stroke="#000" stroke-width="3.1"/>
<circle cx="1029.8" cy="1079.22" r="5.1" fill="none" stroke="#000" stroke-width="3.1"/>
<circle cx="1031.54" cy="1078.16" r="5.1" fill="none" stroke="#000" stroke-width="3.1"/>
<circle cx="1033.28" cy="1093.36" r="5.1" fill="none" stroke="#000" stroke-width="3.1"/>
<circle cx="1035.02" cy="1070.07" r="5.1" fill="none" stroke="#000" stroke-width="3.1"/>
<circle cx="1036.76" cy="1084.1" r="5.1" fill="none" stroke="#000" stroke-width="3.1"/>
<circle cx="1038.5" cy="1095.62" r="5.1" fill="none" stroke="#000" stroke-width="3.1"/>
<circle cx="1040.24" cy="1075.26" r="5.1" fill="none" stroke="#000" stroke-width="3.1"/>
<circle cx="1041.98" cy="1085.41" r="5.1" fill="none" stroke="#000" stroke-width="3.1"/>
<circle cx="1043.73" cy="1092.9" r="5.1" fill="none" stroke="#000" stroke-width="3.1"/>
<circle cx="1045.47" cy="1080.19" r="5.1" fill="none" stroke="#000" stroke-width="3.1"/>
<circle cx="1047.21" cy="1084.41" r="5.1" fill="none" stroke="#000" stroke-width="3.1"/>
<circle cx="1048.95" cy="1086.47" r="5.1" fill="none" stroke="#000" stroke-width="3.1"/>
<circle cx="1050.69" cy="1074.97" r="5.1" fill="none" stroke="#000" stroke-width="3.1"/>
<circle cx="1052.43" cy="1080" r="5.1" fill="none" stroke="#000" stroke-width="3.1"/>
<circle cx="1054.17" cy="1082.27" r="5.1" fill="none" stroke="#000" stroke-width="3.1"/>
<circle cx="1055.91" cy="1085.47" r="5.1" fill="none" stroke="#000" stroke-width="3.1"/>
<circle cx="1057.65" cy="1079.89" r="5.1" fill="none" stroke="#000" stroke-width="3.1"/>
<circle cx="1059.39" cy="1078.69" r="5.1" fill="none" stroke="#000" stroke-width="3.1"/>
<circle cx="1061.13" cy="1073.31" r="5.1" fill="none" stroke="#000" stroke-width="3.1"/>
<circle cx="1062.88" cy="1077.22" r="5.1" fill="none" stroke="#000" stroke-width="3.1"/>
<circle cx="1064.62" cy="1084.84" r="5.1" fill="none" stroke="#000" stroke-width="3.1"/>
<circle cx="1066.36" cy="1079.58" r="5.1" fill="none" stroke="#000" stroke-width="3.1"/>
<circle cx="1068.1" cy="1073.25" r="5.1" fill="none" stroke="#000" stroke-width="3.1"/>
<circle cx="1069.84" cy="1072.98" r="5.1" fill="none" stroke="#000" stroke-width="3.1"/>
<circle cx="1071.58" cy="1092.38" r="5.1" fill="none" stroke="#000" stroke-width="3.1"/>
<circle cx="1073.32" cy="1084.64" r="5.1" fill="none" stroke="#000" stroke-width="3.1"/>
<circle cx="1075.06" cy="1080.99" r="5.1" fill="none" stroke="#000" stroke-width="3.1"/>
<circle cx="1076.8" cy="1061.94" r="5.1" fill="none" stroke="#000" stroke-width="3.1"/>
<circle cx="1078.54" cy="1079.73" r="5.1" fill="none" stroke="#000" stroke-width="3.1"/>
<circle cx="1080.29" cy="1078.14" r="5.1" fill="none" stroke="#000" stroke-width="3.1"/>
<circle cx="1082.03" cy="1084.92" r="5.1" fill="none" stroke="#000" stroke-width="3.1"/>
<circle cx="1083.77" cy="1076.09" r="5.1" fill="none" stroke="#000" stroke-width="3.1"/>
<circle cx="1085.51" cy="1071.9" r="5.1" fill="none" stroke="#000" stroke-width="3.1"/>
<circle cx="1087.25" cy="1074.4" r="5.1" fill="none" stroke="#000" stroke-width="3.1"/>
<circle cx="1088.99" cy="1057.44" r="5.1" fill="none" stroke="#000" stroke-width="3.1"/>
<circle cx="1090.73" cy="1074.55" r="5.1" fill="none" stroke="#000" stroke-width="3.1"/>
<circle cx="1092.47" cy="1068.18" r="5.1" fill="none" stroke="#000" stroke-width="3.1"/>
<circle cx="1094.21" cy="1059.51" r="5.1" fill="none" stroke="#000" stroke-width="3.1"/>
<circle cx="1095.95" cy="1069.75" r="5.1" fill="none" stroke="#000" stroke-width="3.1"/>
<circle cx="1097.69" cy="1069.89" r="5.1" fill="none" stroke="#000" stroke-width="3.1"/>
<circle cx="1099.44" cy="1046.32" r="5.1" fill="none" stroke="#000" stroke-width="3.1"/>
<circle cx="1101.18" cy="1047.18" r="5.1" fill="none" stroke="#000" stroke-width="3.1"/>
<circle cx="1102.92" cy="1048.94" r="5.1" fill="none" stroke="#000" stroke-width="3.1"/>
<circle cx="1104.66" cy="1043.48" r="5.1" fill="none" stroke="#000" stroke-width="3.1"/>
<circle cx="1106.4" cy="1034.5" r="5.1" fill="none" stroke="#000" stroke-width="3.1"/>
<circle cx="1108.14" cy="1025.01" r="5.1" fill="none" stroke="#000" stroke-width="3.1"/>
<circle cx="1109.88" cy="1038.1" r="5.1" fill="none" stroke="#000" stroke-width="3.1"/>
<circle cx="1111.62" cy="1024.36" r="5.1" fill="none" stroke="#000" stroke-width="3.1"/>
<circle cx="1113.36" cy="1002.92" r="5.1" fill="none" stroke="#000" stroke-width="3.1"/>
<circle cx="1115.1" cy="994.18" r="5.1" fill="none" stroke="#000" stroke-width="3.1"/>
<circle cx="1116.84" cy="1005.31" r="5.1" fill="none" stroke="#000" stroke-width="3.1"/>
<circle cx="1118.59" cy="992.58" r="5.1" fill="none" stroke="#000" stroke-width="3.1"/>
<circle cx="1120.33" cy="989.63" r="5.1" fill="none" stroke="#000" stroke-width="3.1"/>
<circle cx="1122.07" cy="975.35" r="5.1" fill="none" stroke="#000" stroke-width="3.1"/>
<circle cx="1123.81" cy="957.42" r="5.1" fill="none" stroke="#000" stroke-width="3.1"/>
<circle cx="1125.55" cy="958.13" r="5.1" fill="none" stroke="#000" stroke-width="3.1"/>
<circle cx="1127.29" cy="937.7" r="5.1" fill="none" stroke="#000" stroke-width="3.1"/>
<circle cx="1129.03" cy="942.97" r="5.1" fill="none" stroke="#000" stroke-width="3.1"/>
<circle cx="1130.77" cy="945.48" r="5.1" fill="none" stroke="#000" stroke-width="3.1"/>
<circle cx="1132.51" cy="949.23" r="5.1" fill="none" stroke="#000" stroke-width="3.1"/>
<circle cx="1134.25" cy="943.31" r="5.1" fill="none" stroke="#000" stroke-width="3.1"/>
<circle cx="1136" cy="950.79" r="5.1" fill="none" stroke="#000" stroke-width="3.1"/>
<circle cx="1137.74" cy="959.59" r="5.1" fill="none" stroke="#000" stroke-width="3.1"/>
<circle cx="1139.48" cy="965.3" r="5.1" fill="none" stroke="#000" stroke-width="3.1"/>
<circle cx="1141.22" cy="973.93" r="5.1" fill="none" stroke="#000" stroke-width="3.1"/>
<circle cx="1142.96" cy="978.64" r="5.1" fill="none" stroke="#000" stroke-width="3.1"/>
<circle cx="1144.7" cy="982.85" r="5.1" fill="none" stroke="#000" stroke-width="3.1"/>
<circle cx="1146.44" cy="997.34" r="5.1" fill="none" stroke="#000" stroke-width="3.1"/>
<circle cx="1148.18" cy="999.89" r="5.1" fill="none" stroke="#000" stroke-width="3.1"/>
<circle cx="1149.92" cy="1001.2" r="5.1" fill="none" stroke="#000" stroke-width="3.1"/>
<circle cx="1151.66" cy="1008.79" r="5.1" fill="none" stroke="#000" stroke-width="3.1"/>
<circle cx="1153.4" cy="1018.53" r="5.1" fill="none" stroke="#000" stroke-width="3.1"/>
<circle cx="1155.15" cy="1023.06" r="5.1" fill="none" stroke="#000" stroke-width="3.1"/>
<circle cx="1156.89" cy="1029.38" r="5.1" fill="none" stroke="#000" stroke-width="3.1"/>
<circle cx="1158.63" cy="1032.47" r="5.1" fill="none" stroke="#000" stroke-width="3.1"/>
<circle cx="1160.37" cy="1037.13" r="5.1" fill="none" stroke="#000" stroke-width="3.1"/>
<circle cx="1162.11" cy="1038.23" r="5.1" fill="none" stroke="#000" stroke-width="3.1"/>
<circle cx="1163.85" cy="1033.77" r="5.1" fill="none" stroke="#000" stroke-width="3.1"/>
<circle cx="1165.59" cy="1046.59" r="5.1" fill="none" stroke="#000" stroke-width="3.1"/>
<circle cx="1167.33" cy="1052.51" r="5.1" fill="none" stroke="#000" stroke-width="3.1"/>
<circle cx="1169.07" cy="1050.3" r="5.1" fill="none" stroke="#000" stroke-width="3.1"/>
<circle cx="1170.81" cy="1047.89" r="5.1" fill="none" stroke="#000" stroke-width="3.1"/>
<circle cx="1172.56" cy="1053.31" r="5.1" fill="none" stroke="#000" stroke-width="3.1"/>
<circle cx="1174.3" cy="1045.77" r="5.1" fill="none" stroke="#000" stroke-width="3.1"/>
<circle cx="1176.04" cy="1041.27" r="5.1" fill="none" stroke="#000" stroke-width="3.1"/>
<circle cx="1177.78" cy="1054.97" r="5.1" fill="none" stroke="#000" stroke-width="3.1"/>
<circle cx="1179.52" cy="1050.16" r="5.1" fill="none" stroke="#000" stroke-width="3.1"/>
<circle cx="1181.26" cy="1062.17" r="5.1" fill="none" stroke="#000" stroke-width="3.1"/>
<circle cx="1183" cy="1052.22" r="5.1" fill="none" stroke="#000" stroke-width="3.1"/>
<circle cx="1184.74" cy="1046.14" r="5.1" fill="none" stroke="#000" stroke-width="3.1"/>
<circle cx="1186.48" cy="1055.69" r="5.1" fill="none" stroke="#000" stroke-width="3.1"/>
<circle cx="1188.22" cy="1073.79" r="5.1" fill="none" stroke="#000" stroke-width="3.1"/>
<circle cx="1189.96" cy="1063.06" r="5.1" fill="none" stroke="#000" stroke-width="3.1"/>
<circle cx="1191.71" cy="1058.42" r="5.1" fill="none" stroke="#000" stroke-width="3.1"/>
<circle cx="1193.45" cy="1063.79" r="5.1" fill="none" stroke="#000" stroke-width="3.1"/>
<circle cx="1195.19" cy="1073.38" r="5.1" fill="none" stroke="#000" stroke-width="3.1"/>
<circle cx="1196.93" cy="1074.66" r="5.1" fill="none" stroke="#000" stroke-width="3.1"/>
<circle cx="1198.67" cy="1074" r="5.1" fill="none" stroke="#000" stroke-width="3.1"/>
<circle cx="1200.41" cy="1083.51" r="5.1" fill="none" stroke="#000" stroke-width="3.1"/>
<circle cx="1202.15" cy="1079.81" r="5.1" fill="none" stroke="#000" stroke-width="3.1"/>
<circle cx="1203.89" cy="1076.33" r="5.1" fill="none" stroke="#000" stroke-width="3.1"/>
<circle cx="1205.63" cy="1081.24" r="5.1" fill="none" stroke="#000" stroke-width="3.1"/>
<circle cx="1207.37" cy="1088.83" r="5.1" fill="none" stroke="#000" stroke-width="3.1"/>
<circle cx="1209.12" cy="1085.36" r="5.1" fill="none" stroke="#000" stroke-width="3.1"/>
<circle cx="1210.86" cy="1086.45" r="5.1" fill="none" stroke="#000" stroke-width="3.1"/>
<circle cx="1212.6" cy="1073.86" r="5.1" fill="none" stroke="#000" stroke-width="3.1"/>
<circle cx="1214.34" cy="1080.36" r="5.1" fill="none" stroke="#000" stroke-width="3.1"/>
<circle cx="1216.08" cy="1086.43" r="5.1" fill="none" stroke="#000" stroke-width="3.1"/>
<circle cx="1217.82" cy="1080.45" r="5.1" fill="none" stroke="#000" stroke-width="3.1"/>
<circle cx="1219.56" cy="1089.48" r="5.1" fill="none" stroke="#000" stroke-width="3.1"/>
<circle cx="1221.3" cy="1086.88" r="5.1" fill="none" stroke="#000" stroke-width="3.1"/>
<circle cx="1223.04" cy="1089.19" r="5.1" fill="none" stroke="#000" stroke-width="3.1"/>
<circle cx="1224.78" cy="1082.43" r="5.1" fill="none" stroke="#000" stroke-width="3.1"/>
<circle cx="1226.52" cy="1098.53" r="5.1" fill="none" stroke="#000" stroke-width="3.1"/>
<circle cx="1228.27" cy="1092.09" r="5.1" fill="none" stroke="#000" stroke-width="3.1"/>
<circle cx="1230.01" cy="1083.14" r="5.1" fill="none" stroke="#000" stroke-width="3.1"/>
<circle cx="1231.75" cy="1085.27" r="5.1" fill="none" stroke="#000" stroke-width="3.1"/>
<circle cx="1233.49" cy="1099.37" r="5.1" fill="none" stroke="#000" stroke-width="3.1"/>
<circle cx="1235.23" cy="1082.89" r="5.1" fill="none" stroke="#000" stroke-width="3.1"/>
<circle cx="1236.97" cy="1090.71" r="5.1" fill="none" stroke="#000" stroke-width="3.1"/>
<circle cx="1238.71" cy="1091.53" r="5.1" fill="none" stroke="#000" stroke-width="3.1"/>
<circle cx="1240.45" cy="1085.53" r="5.1" fill="none" stroke="#000" stroke-width="3.1"/>
<circle cx="1242.19" cy="1078.26" r="5.1" fill="none" stroke="#000" stroke-width="3.1"/>
<circle cx="1243.93" cy="1086.92" r="5.1" fill="none" stroke="#000" stroke-width="3.1"/>
<circle cx="1245.67" cy="1088.11" r="5.1" fill="none" stroke="#000" stroke-width="3.1"/>
<circle cx="1247.42" cy="1093.07" r="5.1" fill="none" stroke="#000" stroke-width="3.1"/>
<circle cx="1249.16" cy="1090.99" r="5.1" fill="none" stroke="#000" stroke-width="3.1"/>
<circle cx="1250.9" cy="1086.31" r="5.1" fill="none" stroke="#000" stroke-width="3.1"/>
<circle cx="1252.64" cy="1091.63" r="5.1" fill="none" stroke="#000" stroke-width="3.1"/>
<circle cx="1254.38" cy="1089.74" r="5.1" fill="none" stroke="#000" stroke-width="3.1"/>
<circle cx="1256.12" cy="1087.73" r="5.1" fill="none" stroke="#000" stroke-width="3.1"/>
<circle cx="1257.86" cy="1086.86" r="5.1" fill="none" stroke="#000" stroke-width="3.1"/>
<circle cx="1259.6" cy="1085.06" r="5.1" fill="none" stroke="#000" stroke-width="3.1"/>
<circle cx="1261.34" cy="1091" r="5.1" fill="none" stroke="#000" stroke-width="3.1"/>
<circle cx="1263.08" cy="1080.11" r="5.1" fill="none" stroke="#000" stroke-width="3.1"/>
<circle cx="1264.83" cy="1082.86" r="5.1" fill="none" stroke="#000" stroke-width="3.1"/>
<circle cx="1266.57" cy="1086.92" r="5.1" fill="none" stroke="#000" stroke-width="3.1"/>
<circle cx="1268.31" cy="1077.74" r="5.1" fill="none" stroke="#000" stroke-width="3.1"/>
<circle cx="1270.05" cy="1084.28" r="5.1" fill="none" stroke="#000" stroke-width="3.1"/>
<circle cx="1271.79" cy="1074.43" r="5.1" fill="none" stroke="#000" stroke-width="3.1"/>
<circle cx="1273.53" cy="1082.85" r="5.1" fill="none" stroke="#000" stroke-width="3.1"/>
<circle cx="1275.27" cy="1090.79" r="5.1" fill="none" stroke="#000" stroke-width="3.1"/>
<circle cx="1277.01" cy="1090.84" r="5.1" fill="none" stroke="#000" stroke-width="3.1"/>
<circle cx="1278.75" cy="1086.98" r="5.1" fill="none" stroke="#000" stroke-width="3.1"/>
<circle cx="1280.49" cy="1085.92" r="5.1" fill="none" stroke="#000" stroke-width="3.1"/>
<circle cx="1282.23" cy="1078.51" r="5.1" fill="none" stroke="#000" stroke-width="3.1"/>
<circle cx="1283.98" cy="1099" r="5.1" fill="none" stroke="#000" stroke-width="3.1"/>
<circle cx="1285.72" cy="1090.79" r="5.1" fill="none" stroke="#000" stroke-width="3.1"/>
<circle cx="1287.46" cy="1094.48" r="5.1" fill="none" stroke="#000" stroke-width="3.1"/>
<circle cx="1289.2" cy="1082.08" r="5.1" fill="none" stroke="#000" stroke-width="3.1"/>
<circle cx="1290.94" cy="1086.52" r="5.1" fill="none" stroke="#000" stroke-width="3.1"/>
<circle cx="1292.68" cy="1076.27" r="5.1" fill="none" stroke="#000" stroke-width="3.1"/>
<circle cx="1294.42" cy="1092.69" r="5.1" fill="none" stroke="#000" stroke-width="3.1"/>
<circle cx="1296.16" cy="1093.71" r="5.1" fill="none" stroke="#000" stroke-width="3.1"/>
<circle cx="1297.9" cy="1075.91" r="5.1" fill="none" stroke="#000" stroke-width="3.1"/>
<circle cx="1299.64" cy="1087.57" r="5.1" fill="none" stroke="#000" stroke-width="3.1"/>
<circle cx="1301.39" cy="1091.91" r="5.1" fill="none" stroke="#000" stroke-width="3.1"/>
<circle cx="1303.13" cy="1076.88" r="5.1" fill="none" stroke="#000" stroke-width="3.1"/>
<circle cx="1304.87" cy="1076.52" r="5.1" fill="none" stroke="#000" stroke-width="3.1"/>
<circle cx="1306.61" cy="1081.35" r="5.1" fill="none" stroke="#000" stroke-width="3.1"/>
<circle cx="1308.35" cy="1084.14" r="5.1" fill="none" stroke="#000" stroke-width="3.1"/>
<circle cx="1310.09" cy="1079.3" r="5.1" fill="none" stroke="#000" stroke-width="3.1"/>
<circle cx="1311.83" cy="1088.37" r="5.1" fill="none" stroke="#000" stroke-width="3.1"/>
<circle cx="1313.57" cy="1089.78" r="5.1" fill="none" stroke="#000" stroke-width="3.1"/>
<circle cx="1315.31" cy="1092.24" r="5.1" fill="none" stroke="#000" stroke-width="3.1"/>
<circle cx="1317.05" cy="1092.7" r="5.1" fill="none" stroke="#000" stroke-width="3.1"/>
<circle cx="1318.79" cy="1097.78" r="5.1" fill="none" stroke="#000" stroke-width="3.1"/>
<circle cx="1320.54" cy="1095.68" r="5.1" fill="none" stroke="#000" stroke-width="3.1"/>
<path d="M874.34,1087.31 L875.75,1087.26 L877.17,1087.19 L878.58,1087.12 L880,1087.04 L881.41,1086.95 L882.83,1086.84 L884.24,1086.72 L885.65,1086.58 L887.07,1086.41 L888.48,1086.21 L889.9,1085.97 L891.31,1085.69 L892.72,1085.37 L894.14,1084.98 L895.55,1084.52 L896.97,1083.98 L898.38,1083.35 L899.8,1082.62 L901.21,1081.76 L902.62,1080.77 L904.04,1079.63 L905.45,1078.33 L906.87,1076.84 L908.28,1075.17 L909.7,1073.28 L911.11,1071.18 L912.52,1068.84 L913.94,1066.28 L915.35,1063.47 L916.77,1060.42 L918.18,1057.15 L919.6,1053.65 L921.01,1049.94 L922.42,1046.05 L923.84,1042 L925.25,1037.83 L926.67,1033.57 L928.08,1029.27 L929.5,1024.98 L930.91,1020.75 L932.32,1016.65 L933.74,1012.73 L935.15,1009.07 L936.57,1005.72 L937.98,1002.75 L939.4,1000.23 L940.81,998.2 L942.22,996.71 L943.64,995.8 L945.05,995.5 L946.47,995.8 L947.88,996.71 L949.3,998.2 L950.71,1000.23 L952.12,1002.75 L953.54,1005.72 L954.95,1009.07 L956.37,1012.73 L957.78,1016.65 L959.19,1020.75 L960.61,1024.98 L962.02,1029.27 L963.44,1033.57 L964.85,1037.83 L966.27,1042 L967.68,1046.05 L969.09,1049.94 L970.51,1053.65 L971.92,1057.15 L973.34,1060.42 L974.75,1063.47 L976.17,1066.28 L977.58,1068.84 L978.99,1071.18 L980.41,1073.28 L981.82,1075.17 L983.24,1076.84 L984.65,1078.33 L986.07,1079.63 L987.48,1080.77 L988.89,1081.76 L990.31,1082.62 L991.72,1083.35 L993.14,1083.98 L994.55,1084.52 L995.97,1084.98 L997.38,1085.37 L998.79,1085.69 L1000.21,1085.97 L1001.62,1086.21 L1003.04,1086.41 L1004.45,1086.58 L1005.87,1086.72 L1007.28,1086.84 L1008.69,1086.95 L1010.11,1087.04 L1011.52,1087.12 L1012.94,1087.19 L1014.35,1087.26 L1015.76,1087.31 Z" fill="#f5c1c1" fill-opacity="0.57" stroke="#c8c8c8" stroke-width="1.2"/>
<path d="M1058.9,1087.02 L1060.31,1086.96 L1061.73,1086.89 L1063.14,1086.82 L1064.56,1086.73 L1065.97,1086.64 L1067.38,1086.53 L1068.8,1086.41 L1070.21,1086.27 L1071.63,1086.1 L1073.04,1085.91 L1074.46,1085.68 L1075.87,1085.41 L1077.28,1085.08 L1078.7,1084.7 L1080.11,1084.23 L1081.53,1083.68 L1082.94,1083.01 L1084.36,1082.22 L1085.77,1081.29 L1087.18,1080.18 L1088.6,1078.88 L1090.01,1077.36 L1091.43,1075.59 L1092.84,1073.55 L1094.26,1071.21 L1095.67,1068.54 L1097.08,1065.53 L1098.5,1062.14 L1099.91,1058.37 L1101.33,1054.21 L1102.74,1049.65 L1104.16,1044.71 L1105.57,1039.39 L1106.98,1033.72 L1108.4,1027.74 L1109.81,1021.5 L1111.23,1015.05 L1112.64,1008.47 L1114.06,1001.82 L1115.47,995.22 L1116.88,988.75 L1118.3,982.52 L1119.71,976.64 L1121.13,971.23 L1122.54,966.41 L1123.95,962.28 L1125.37,958.95 L1126.78,956.5 L1128.2,955 L1129.61,954.5 L1131.03,955 L1132.44,956.5 L1133.85,958.95 L1135.27,962.28 L1136.68,966.41 L1138.1,971.23 L1139.51,976.64 L1140.93,982.52 L1142.34,988.75 L1143.75,995.22 L1145.17,1001.82 L1146.58,1008.47 L1148,1015.05 L1149.41,1021.5 L1150.83,1027.74 L1152.24,1033.72 L1153.65,1039.39 L1155.07,1044.71 L1156.48,1049.65 L1157.9,1054.21 L1159.31,1058.37 L1160.73,1062.14 L1162.14,1065.53 L1163.55,1068.54 L1164.97,1071.21 L1166.38,1073.55 L1167.8,1075.59 L1169.21,1077.36 L1170.63,1078.88 L1172.04,1080.18 L1173.45,1081.29 L1174.87,1082.22 L1176.28,1083.01 L1177.7,1083.68 L1179.11,1084.23 L1180.52,1084.7 L1181.94,1085.08 L1183.35,1085.41 L1184.77,1085.68 L1186.18,1085.91 L1187.6,1086.1 L1189.01,1086.27 L1190.42,1086.41 L1191.84,1086.53 L1193.25,1086.64 L1194.67,1086.73 L1196.08,1086.82 L1197.5,1086.89 L1198.91,1086.96 L1200.32,1087.02 Z" fill="#f5c1c1" fill-opacity="0.57" stroke="#c8c8c8" stroke-width="1.2"/>
<line x1="751.3" y1="1088.3" x2="1317" y2="1088.3" stroke="#bdbdbd" stroke-width="1.6" />
</g>
<line x1="1231.5" y1="843.8" x2="1231.5" y2="897.5" stroke="#8000FF" stroke-width="2.6" stroke-dasharray="18 5 3 5"/>
<line x1="1131.3" y1="913.6" x2="1131.3" y2="979" stroke="#000" stroke-width="2.4" stroke-dasharray="14 4 3 4"/>
<line x1="1131.3" y1="913.6" x2="1172" y2="913.6" stroke="#000" stroke-width="2.4" stroke-dasharray="14 4 3 4"/>
<rect x="751.3" y="675.2" width="565.7" height="453.6" fill="none" stroke="#000" stroke-width="2.7"/>
<text x="720.8" y="1165.9" font-size="40.5" fill="#000" font-weight="bold"><tspan>348</tspan></text>
<line x1="822.01" y1="1128.8" x2="822.01" y2="1124.3" stroke="#000" stroke-width="2.8" />
<line x1="892.72" y1="1128.8" x2="892.72" y2="1120.3" stroke="#000" stroke-width="2.8" />
<text x="861.97" y="1165.9" font-size="40.5" fill="#000" font-weight="bold"><tspan>344</tspan></text>
<line x1="963.44" y1="1128.8" x2="963.44" y2="1124.3" stroke="#000" stroke-width="2.8" />
<line x1="1034.15" y1="1128.8" x2="1034.15" y2="1120.3" stroke="#000" stroke-width="2.8" />
<text x="1003.78" y="1165.9" font-size="40.5" fill="#000" font-weight="bold"><tspan>340</tspan></text>
<line x1="1104.86" y1="1128.8" x2="1104.86" y2="1124.3" stroke="#000" stroke-width="2.8" />
<line x1="1175.58" y1="1128.8" x2="1175.58" y2="1120.3" stroke="#000" stroke-width="2.8" />
<text x="1145.08" y="1165.9" font-size="40.5" fill="#000" font-weight="bold"><tspan>336</tspan></text>
<line x1="1246.29" y1="1128.8" x2="1246.29" y2="1124.3" stroke="#000" stroke-width="2.8" />
<text x="1286.75" y="1165.9" font-size="40.5" fill="#000" font-weight="bold"><tspan>332</tspan></text>
<text x="790.28" y="1205.9" font-size="51.68" fill="#000" font-weight="bold"><tspan>Binding energy (eV)</tspan></text>
<text x="735.9" y="1127.91" font-size="51.44" font-weight="bold" transform="rotate(-90 735.9 1127.91)"><tspan>Intensity (arb. units)</tspan></text>
<text x="756.32" y="840.7" font-size="42.57" fill="#8000FF" font-weight="bold"><tspan>Pd/CeO</tspan><tspan dy="11.07" font-size="29.8">2</tspan><tspan dy="-11.07">-AT-S</tspan></text>
<text x="1210.14" y="778.7" font-size="42.39" fill="#8000FF" font-weight="bold"><tspan>Pd</tspan><tspan dy="-14.84" font-size="28.83">0</tspan></text>
<text x="1201.99" y="832.3" font-size="41.39" fill="#8000FF" font-weight="bold"><tspan>334.4</tspan></text>
<text x="753.71" y="979.6" font-size="41.81" fill="#000" font-weight="bold"><tspan>Pd</tspan><tspan dy="10.87" font-size="29.26">1</tspan><tspan dy="-10.87">/CeO</tspan><tspan dy="10.87" font-size="29.26">2</tspan><tspan dy="-10.87">-AT</tspan></text>
<text x="1180.26" y="944.7" font-size="41.76" fill="#000" font-weight="bold"><tspan>Pd</tspan><tspan dy="-14.62" font-size="28.4">2+</tspan></text>
<text x="1177.39" y="997" font-size="42.09" fill="#000" font-weight="bold"><tspan>337.3</tspan></text>
<text x="689.3" y="663.5" font-size="75" font-weight="normal">d</text>
<clipPath id="ce"><rect x="87.6" y="1255.6" width="579.1999999999999" height="468.3000000000002"/></clipPath>
<g clip-path="url(#ce)">
<path d="M337.21,1555.97 L339.17,1557.85 L341.12,1558.46 L343.07,1558.49 L345.02,1562.7 L346.97,1554.21 L348.92,1555.79 L350.87,1561.75 L352.82,1548.81 L354.77,1551.63 L356.72,1552.14 L358.67,1550.17 L360.62,1548.67 L362.57,1544.41 L364.52,1543.75 L366.47,1540.55 L368.42,1540.6 L370.37,1531.21 L372.32,1532.59 L374.27,1533.74 L376.22,1529.51 L378.18,1528.43 L380.13,1532.49 L382.08,1528.29 L384.03,1531.84 L385.98,1532.34 L387.93,1531.54 L389.88,1532.85 L391.83,1531.98 L393.78,1529.25 L395.73,1534.39 L397.68,1536.96 L399.63,1535.26 L401.58,1537.88 L403.53,1541.95 L405.48,1538.96 L407.43,1545.15 L409.38,1550.45 L411.33,1545.1 L413.28,1548.6 L415.23,1548.97 L417.19,1555.07 L419.14,1552.68 L421.09,1555.46 L423.04,1551.87 L424.99,1554.75 L426.94,1555.58 L428.89,1551.21 L430.84,1561.19 L432,1561.3 L336,1558 Z" fill="#2EF0F5" stroke="none"/>
<polyline points="85.6,1626.96 87.55,1623.94 89.5,1624.97 91.45,1618.94 93.4,1623.97 95.35,1627.23 97.3,1629.21 99.25,1624.35 101.2,1625.13 103.15,1630.14 105.11,1624.68 107.06,1627.83 109.01,1630.65 110.96,1625.98 112.91,1629.51 114.86,1623.98 116.81,1626.73 118.76,1626 120.71,1626.65 122.66,1629.69 124.61,1633.18 126.56,1624.68 128.51,1625.04 130.46,1628.26 132.41,1623.86 134.36,1628.48 136.31,1628.81 138.26,1626.46 140.21,1628.92 142.16,1623.01 144.12,1629.83 146.07,1623.27 148.02,1625.86 149.97,1626.39 151.92,1626.97 153.87,1630.76 155.82,1628.65 157.77,1627.4 159.72,1630.27 161.67,1633.43 163.62,1629.01 165.57,1630.2 167.52,1632.89 169.47,1630.23 171.42,1625.89 173.37,1636.45 175.32,1636.35 177.27,1624.36 179.22,1630.17 181.17,1631.67 183.13,1633.44 185.08,1632.76 187.03,1630.21 188.98,1628.12 190.93,1631.66 192.88,1634.55 194.83,1628.59 196.78,1628.97 198.73,1632.09 200.68,1626.75 202.63,1631.83 204.58,1631.54 206.53,1634.34 208.48,1631.23 210.43,1630.94 212.38,1632.59 214.33,1633.83 216.28,1632.3 218.23,1634.51 220.18,1636.9 222.14,1638.41 224.09,1640.17 226.04,1633.22 227.99,1634.53 229.94,1629.34 231.89,1641.78 233.84,1634.43 235.79,1636.7 237.74,1638.58 239.69,1633.39 241.64,1638.94 243.59,1637.79 245.54,1632.84 247.49,1639.25 249.44,1642.13 251.39,1633.52 253.34,1641.54 255.29,1640.07 257.24,1641.1 259.19,1641.26 261.15,1644.02 263.1,1639.85 265.05,1643.28 267,1639.81 268.95,1643.36 270.9,1639.13 272.85,1641.42 274.8,1647 276.75,1643.5 278.7,1641.98 280.65,1639.35 282.6,1640.6 284.55,1643.67 286.5,1646.05 288.45,1644.77 290.4,1645.26 292.35,1643.81 294.3,1648.01 296.25,1643.1 298.2,1642.78 300.16,1647.09 302.11,1644.84 304.06,1643.99 306.01,1643.27 307.96,1644.34 309.91,1647.04 311.86,1646.4 313.81,1642.01 315.76,1646.89 317.71,1646.32 319.66,1643.04 321.61,1648.33 323.56,1645.42 325.51,1645.4 327.46,1648.82 329.41,1650.49 331.36,1644.8 333.31,1648.21 335.26,1644.54 337.21,1653.89 339.17,1645.92 341.12,1650.96 343.07,1645.75 345.02,1650.12 346.97,1654.34 348.92,1641.37 350.87,1646.91 352.82,1649.75 354.77,1648.16 356.72,1646.62 358.67,1654.93 360.62,1649.05 362.57,1644.17 364.52,1651.54 366.47,1644.19 368.42,1652.64 370.37,1647.75 372.32,1649.96 374.27,1653.31 376.22,1650.11 378.18,1645.85 380.13,1645.07 382.08,1653.53 384.03,1652.35 385.98,1647.94 387.93,1652.9 389.88,1651.94 391.83,1652.47 393.78,1644.14 395.73,1649.9 397.68,1653.48 399.63,1653.08 401.58,1653.59 403.53,1644.44 405.48,1651.68 407.43,1652.69 409.38,1658 411.33,1648.64 413.28,1650.51 415.23,1651.63 417.19,1654.15 419.14,1650.35 421.09,1655.02 423.04,1649.45 424.99,1652.56 426.94,1650.29 428.89,1652.32 430.84,1649.89 432.79,1647.29 434.74,1655.12 436.69,1652.85 438.64,1650.37 440.59,1652.6 442.54,1654.91 444.49,1649.22 446.44,1651.72 448.39,1653.57 450.34,1653.48 452.29,1650.9 454.24,1645.66 456.2,1655.24 458.15,1652.42 460.1,1651.32 462.05,1650.25 464,1651.57 465.95,1649.28 467.9,1647.22 469.85,1647.68 471.8,1647.7 473.75,1647.22 475.7,1645.15 477.65,1649.84 479.6,1643.63 481.55,1648.74 483.5,1643.23 485.45,1645.86 487.4,1647.03 489.35,1641.58 491.3,1636.63 493.25,1636.49 495.21,1634.26 497.16,1626.21 499.11,1626.86 501.06,1626.5 503.01,1622.13 504.96,1621.28 506.91,1618.88 508.86,1614.82 510.81,1611.01 512.76,1605.57 514.71,1597.95 516.66,1592.62 518.61,1584.29 520.56,1575.78 522.51,1567.46 524.46,1554.39 526.41,1550.18 528.36,1541.95 530.31,1530.02 532.26,1524.29 534.22,1518.78 536.17,1509.79 538.12,1511.87 540.07,1498.35 542.02,1507.24 543.97,1507.66 545.92,1520.04 547.87,1523.62 549.82,1503.37 551.77,1504.52 553.72,1508.85 555.67,1517.31 557.62,1534.85 559.57,1543.05 561.52,1562.18 563.47,1569.91 565.42,1578.44 567.37,1586.44 569.32,1599.83 571.27,1606.27 573.23,1617.72 575.18,1625.19 577.13,1630.09 579.08,1646.42 581.03,1656.62 582.98,1666.97 584.93,1669.88 586.88,1678.92 588.83,1686.16 590.78,1688.68 592.73,1694.83 594.68,1699.56 596.63,1693.81 598.58,1692.17 600.53,1701.12 602.48,1703.94 604.43,1703.02 606.38,1703.53 608.33,1700.18 610.28,1700.68 612.24,1706.08 614.19,1701.59 616.14,1699.68 618.09,1702.73 620.04,1712.95 621.99,1712.49 623.94,1705.53 625.89,1705.98 627.84,1709.33 629.79,1707.01 631.74,1713.49 633.69,1709.95 635.64,1707.49 637.59,1714.87 639.54,1709.78 641.49,1712.47 643.44,1712.12 645.39,1711.54 647.34,1713.67 649.29,1710.97 651.25,1707.86 653.2,1707.01 655.15,1709.93 657.1,1711.57 659.05,1713.87 661,1714.24 662.95,1715.84 664.9,1714.71 666.85,1712.19 668.8,1712.44" fill="none" stroke="#808080" stroke-width="4.6" stroke-linejoin="round" />
<polyline points="85.6,1538.7 87.55,1541.04 89.5,1539.46 91.45,1539.45 93.4,1542.36 95.35,1542.65 97.3,1544.09 99.25,1538.09 101.2,1539.14 103.15,1542.7 105.11,1542.22 107.06,1541.93 109.01,1542.69 110.96,1540.71 112.91,1544.99 114.86,1544.02 116.81,1542.78 118.76,1541.13 120.71,1542.61 122.66,1536.49 124.61,1540.36 126.56,1543.37 128.51,1538.94 130.46,1543.93 132.41,1543.83 134.36,1539.46 136.31,1542.79 138.26,1542.66 140.21,1544.96 142.16,1545.46 144.12,1543.64 146.07,1541.33 148.02,1543.45 149.97,1543.74 151.92,1546.12 153.87,1544.92 155.82,1542.04 157.77,1540.28 159.72,1543.19 161.67,1542.2 163.62,1541.2 165.57,1544.17 167.52,1543.16 169.47,1544.97 171.42,1546.27 173.37,1543.64 175.32,1551.6 177.27,1544.08 179.22,1548.3 181.17,1545.56 183.13,1548.54 185.08,1538.73 187.03,1543.32 188.98,1546.32 190.93,1547.45 192.88,1552.48 194.83,1546.86 196.78,1549.75 198.73,1548.37 200.68,1549.02 202.63,1547.88 204.58,1546.07 206.53,1548.13 208.48,1543.66 210.43,1550.35 212.38,1544.11 214.33,1547.92 216.28,1553.49 218.23,1546.84 220.18,1547.69 222.14,1551.15 224.09,1548.01 226.04,1545.74 227.99,1548.98 229.94,1550.07 231.89,1550.6 233.84,1546.45 235.79,1553.93 237.74,1553.84 239.69,1549.22 241.64,1550.1 243.59,1548.23 245.54,1553.73 247.49,1547.74 249.44,1551.9 251.39,1548.71 253.34,1548.24 255.29,1552.49 257.24,1554.43 259.19,1550.68 261.15,1548.9 263.1,1553.36 265.05,1551.01 267,1552.2 268.95,1555.86 270.9,1554.87 272.85,1550.22 274.8,1558.49 276.75,1552.01 278.7,1554.41 280.65,1550.38 282.6,1552.25 284.55,1547.43 286.5,1557.81 288.45,1556.7 290.4,1549.33 292.35,1548.6 294.3,1548.46 296.25,1556.82 298.2,1552.32 300.16,1553.72 302.11,1553.23 304.06,1554.03 306.01,1551.46 307.96,1554.92 309.91,1550.9 311.86,1555.08 313.81,1556.39 315.76,1557.05 317.71,1555.21 319.66,1553.44 321.61,1556.69 323.56,1554.98 325.51,1561.06 327.46,1558.87 329.41,1556.41 331.36,1555.47 333.31,1554.87 335.26,1554.24 337.21,1555.97 339.17,1557.85 341.12,1558.46 343.07,1558.49 345.02,1562.7 346.97,1554.21 348.92,1555.79 350.87,1561.75 352.82,1548.81 354.77,1551.63 356.72,1552.14 358.67,1550.17 360.62,1548.67 362.57,1544.41 364.52,1543.75 366.47,1540.55 368.42,1540.6 370.37,1531.21 372.32,1532.59 374.27,1533.74 376.22,1529.51 378.18,1528.43 380.13,1532.49 382.08,1528.29 384.03,1531.84 385.98,1532.34 387.93,1531.54 389.88,1532.85 391.83,1531.98 393.78,1529.25 395.73,1534.39 397.68,1536.96 399.63,1535.26 401.58,1537.88 403.53,1541.95 405.48,1538.96 407.43,1545.15 409.38,1550.45 411.33,1545.1 413.28,1548.6 415.23,1548.97 417.19,1555.07 419.14,1552.68 421.09,1555.46 423.04,1551.87 424.99,1554.75 426.94,1555.58 428.89,1551.21 430.84,1561.19 432.79,1560.1 434.74,1552.77 436.69,1560.27 438.64,1557.96 440.59,1559.82 442.54,1559.67 444.49,1554.36 446.44,1558.21 448.39,1563.28 450.34,1557.42 452.29,1556.25 454.24,1555.42 456.2,1555.95 458.15,1560.6 460.1,1564.65 462.05,1561.09 464,1560.65 465.95,1566.48 467.9,1558.54 469.85,1558.1 471.8,1561.57 473.75,1561.58 475.7,1556.95 477.65,1556.37 479.6,1560.43 481.55,1560.08 483.5,1555.29 485.45,1557.69 487.4,1555.45 489.35,1556.82 491.3,1553.4 493.25,1551.6 495.21,1548.83 497.16,1550.89 499.11,1549.88 501.06,1542.87 503.01,1544 504.96,1536.97 506.91,1536.96 508.86,1536.43 510.81,1536.03 512.76,1527.75 514.71,1525.37 516.66,1522.27 518.61,1513.31 520.56,1513.3 522.51,1506.33 524.46,1503.74 526.41,1492.88 528.36,1482.99 530.31,1481.18 532.26,1474.66 534.22,1466.32 536.17,1466.42 538.12,1459.72 540.07,1455.91 542.02,1456.89 543.97,1449.65 545.92,1451.96 547.87,1454.83 549.82,1460.68 551.77,1463.3 553.72,1471.8 555.67,1477.08 557.62,1488.26 559.57,1498.52 561.52,1498.09 563.47,1513.58 565.42,1512.1 567.37,1521.13 569.32,1528.53 571.27,1537.59 573.23,1537.18 575.18,1541.24 577.13,1555.43 579.08,1562.04 581.03,1567.25 582.98,1577.41 584.93,1576.16 586.88,1580.36 588.83,1585.65 590.78,1586.98 592.73,1593.37 594.68,1587.3 596.63,1591.9 598.58,1588.21 600.53,1598.96 602.48,1596.38 604.43,1600.69 606.38,1604.77 608.33,1598.96 610.28,1598.65 612.24,1598.32 614.19,1597.68 616.14,1598.58 618.09,1602.54 620.04,1601.05 621.99,1601.37 623.94,1600.89 625.89,1604.24 627.84,1603.22 629.79,1601.56 631.74,1604.08 633.69,1601.9 635.64,1599.19 637.59,1606.95 639.54,1604.3 641.49,1600.47 643.44,1606.68 645.39,1604.84 647.34,1599.58 649.29,1609.04 651.25,1605.58 653.2,1607.43 655.15,1605.63 657.1,1604.81 659.05,1600.94 661,1608.41 662.95,1605.83 664.9,1605.04 666.85,1607.01 668.8,1606.23" fill="none" stroke="#000" stroke-width="4.6" stroke-linejoin="round" />
<polyline points="85.6,1444.86 87.55,1450.53 89.5,1452.52 91.45,1452.76 93.4,1450.98 95.35,1450.94 97.3,1454.28 99.25,1451.74 101.2,1453.97 103.15,1453.66 105.11,1452.73 107.06,1456.06 109.01,1450.76 110.96,1451.55 112.91,1450.41 114.86,1450.61 116.81,1457.61 118.76,1458.38 120.71,1453.53 122.66,1455.3 124.61,1457.24 126.56,1456.37 128.51,1457.72 130.46,1450.76 132.41,1452.76 134.36,1456.13 136.31,1459.18 138.26,1455.53 140.21,1452.94 142.16,1454.61 144.12,1453.93 146.07,1453.56 148.02,1460.61 149.97,1454.65 151.92,1456.73 153.87,1463.14 155.82,1460.51 157.77,1458.25 159.72,1455.71 161.67,1458.87 163.62,1462.58 165.57,1459.88 167.52,1461.93 169.47,1458.74 171.42,1460.14 173.37,1458.25 175.32,1460.25 177.27,1462.96 179.22,1455.21 181.17,1459.34 183.13,1460.39 185.08,1458.19 187.03,1459.11 188.98,1462.43 190.93,1466.09 192.88,1462.26 194.83,1461.52 196.78,1456.22 198.73,1466.46 200.68,1461.24 202.63,1461.06 204.58,1458.06 206.53,1461.28 208.48,1458.41 210.43,1461.94 212.38,1463.23 214.33,1462.12 216.28,1462.98 218.23,1459.84 220.18,1466.6 222.14,1460.7 224.09,1457.46 226.04,1462.33 227.99,1460.8 229.94,1460.23 231.89,1462.26 233.84,1464.27 235.79,1460.13 237.74,1463.29 239.69,1467.96 241.64,1465.93 243.59,1463.64 245.54,1464.58 247.49,1463.98 249.44,1464.31 251.39,1466.7 253.34,1464.42 255.29,1458.14 257.24,1464.86 259.19,1462.45 261.15,1467.03 263.1,1463.48 265.05,1465.78 267,1471.77 268.95,1462.51 270.9,1462.38 272.85,1461.64 274.8,1459.16 276.75,1460.47 278.7,1467.05 280.65,1464.23 282.6,1460.73 284.55,1461.93 286.5,1468.09 288.45,1464.11 290.4,1465.36 292.35,1467.44 294.3,1470.51 296.25,1472.31 298.2,1469.76 300.16,1467.26 302.11,1467.43 304.06,1472.16 306.01,1471.11 307.96,1466.08 309.91,1468.31 311.86,1467.8 313.81,1467.1 315.76,1465.47 317.71,1463.03 319.66,1465.28 321.61,1462.3 323.56,1470.26 325.51,1468.2 327.46,1463.07 329.41,1470.53 331.36,1468.99 333.31,1460.78 335.26,1471.57 337.21,1468.48 339.17,1472.03 341.12,1462.35 343.07,1467.28 345.02,1466.76 346.97,1465.88 348.92,1465.53 350.87,1467.81 352.82,1460.14 354.77,1460.57 356.72,1459.83 358.67,1461.96 360.62,1461.53 362.57,1464.08 364.52,1463.53 366.47,1462.62 368.42,1460.36 370.37,1460.88 372.32,1464.8 374.27,1464.13 376.22,1462.11 378.18,1460.81 380.13,1466.21 382.08,1459.98 384.03,1463.63 385.98,1465.19 387.93,1461.22 389.88,1464.58 391.83,1459.21 393.78,1465.7 395.73,1463.66 397.68,1458.71 399.63,1465.53 401.58,1461.31 403.53,1467.97 405.48,1462.65 407.43,1464.54 409.38,1466.26 411.33,1464.91 413.28,1467.07 415.23,1465.16 417.19,1469.16 419.14,1467.67 421.09,1468.7 423.04,1461.85 424.99,1472.29 426.94,1469.4 428.89,1464.5 430.84,1470.28 432.79,1471.65 434.74,1473.65 436.69,1467.62 438.64,1475.41 440.59,1470.57 442.54,1477.78 444.49,1470.73 446.44,1473.15 448.39,1470.12 450.34,1467.92 452.29,1474.29 454.24,1473.67 456.2,1475.4 458.15,1473.31 460.1,1469.02 462.05,1465.71 464,1468.46 465.95,1468.19 467.9,1467.57 469.85,1471.38 471.8,1470.39 473.75,1468.39 475.7,1469.39 477.65,1468.16 479.6,1468.88 481.55,1470.12 483.5,1470.37 485.45,1464.94 487.4,1461.72 489.35,1469.32 491.3,1464.52 493.25,1466.33 495.21,1457.22 497.16,1459.8 499.11,1459.53 501.06,1453.88 503.01,1455.1 504.96,1457.14 506.91,1454.89 508.86,1452.65 510.81,1441.5 512.76,1435.78 514.71,1437.19 516.66,1434.24 518.61,1427.65 520.56,1418.86 522.51,1420.4 524.46,1415.9 526.41,1410.51 528.36,1401.95 530.31,1398.48 532.26,1394.44 534.22,1385.89 536.17,1378.22 538.12,1381.47 540.07,1380.08 542.02,1378.04 543.97,1380.74 545.92,1377.08 547.87,1379.56 549.82,1380.27 551.77,1384.47 553.72,1389.34 555.67,1386.59 557.62,1396.2 559.57,1398.26 561.52,1400.78 563.47,1406.21 565.42,1417.06 567.37,1420.15 569.32,1429.61 571.27,1435.84 573.23,1448.02 575.18,1456.07 577.13,1459.03 579.08,1463.79 581.03,1466.77 582.98,1472.31 584.93,1471.78 586.88,1482.93 588.83,1482.46 590.78,1483.68 592.73,1487.53 594.68,1489.85 596.63,1497.05 598.58,1499.44 600.53,1493.95 602.48,1501.91 604.43,1502.98 606.38,1499.77 608.33,1498.07 610.28,1501.05 612.24,1501.89 614.19,1505.03 616.14,1503.27 618.09,1498.66 620.04,1505.42 621.99,1500.46 623.94,1507.68 625.89,1501.68 627.84,1503.28 629.79,1502.92 631.74,1503.92 633.69,1509.36 635.64,1508.18 637.59,1507.57 639.54,1506.89 641.49,1501.64 643.44,1504.78 645.39,1504.86 647.34,1503.8 649.29,1508.28 651.25,1504.82 653.2,1505.07 655.15,1504.26 657.1,1501.47 659.05,1509.3 661,1511.56 662.95,1508.32 664.9,1505.08 666.85,1501.32 668.8,1508.5" fill="none" stroke="#8000FF" stroke-width="4.6" stroke-linejoin="round" />
</g>
<line x1="388.1" y1="1428.9" x2="388.1" y2="1590.7" stroke="#777" stroke-width="2.2" stroke-dasharray="14 5 4 5"/>
<line x1="545.8" y1="1338.2" x2="545.8" y2="1542" stroke="#777" stroke-width="2.2" stroke-dasharray="14 5 4 5"/>
<rect x="87.6" y="1255.6" width="579.2" height="468.3" fill="none" stroke="#000" stroke-width="2.7"/>
<line x1="123.8" y1="1723.9" x2="123.8" y2="1731.9" stroke="#000" stroke-width="2.8" />
<text x="81.92" y="1771.3" font-size="41" fill="#000" font-weight="bold"><tspan>1500</tspan></text>
<line x1="214.3" y1="1723.9" x2="214.3" y2="1728.4" stroke="#000" stroke-width="2.8" />
<line x1="304.8" y1="1723.9" x2="304.8" y2="1731.9" stroke="#000" stroke-width="2.8" />
<text x="263.67" y="1771.3" font-size="41" fill="#000" font-weight="bold"><tspan>2000</tspan></text>
<line x1="395.3" y1="1723.9" x2="395.3" y2="1728.4" stroke="#000" stroke-width="2.8" />
<line x1="485.8" y1="1723.9" x2="485.8" y2="1731.9" stroke="#000" stroke-width="2.8" />
<text x="444.67" y="1771.3" font-size="41" fill="#000" font-weight="bold"><tspan>2500</tspan></text>
<line x1="576.3" y1="1723.9" x2="576.3" y2="1728.4" stroke="#000" stroke-width="2.8" />
<line x1="666.8" y1="1723.9" x2="666.8" y2="1731.9" stroke="#000" stroke-width="2.8" />
<text x="625.8" y="1771.3" font-size="41" fill="#000" font-weight="bold"><tspan>3000</tspan></text>
<text x="240.15" y="1817.8" font-size="53.05" fill="#000" font-weight="bold"><tspan>Energy (eV)</tspan></text>
<text x="66.8" y="1723.78" font-size="53.12" font-weight="bold" transform="rotate(-90 66.8 1723.78)"><tspan>Intensity (arb. units)</tspan></text>
<text x="92.61" y="1430" font-size="40.81" fill="#8000FF" font-weight="bold"><tspan>Pd/CeO</tspan><tspan dy="10.61" font-size="28.57">2</tspan><tspan dy="-10.61">-AT-S</tspan></text>
<text x="95.25" y="1519.7" font-size="40" fill="#000" font-weight="bold"><tspan>Pd</tspan><tspan dy="10.4" font-size="28">1</tspan><tspan dy="-10.4">/CeO</tspan><tspan dy="10.4" font-size="28">2</tspan><tspan dy="-10.4">-AT</tspan></text>
<text x="96.57" y="1608.9" font-size="40.32" fill="#000" font-weight="bold"><tspan>CeO</tspan><tspan dy="10.48" font-size="28.22">2</tspan></text>
<text x="369.64" y="1418.8" font-size="38.59" fill="#000" font-weight="bold"><tspan>Pd</tspan></text>
<text x="523.91" y="1330.6" font-size="44.71" fill="#000" font-weight="bold"><tspan>Ce</tspan></text>
<text x="26.8" y="1259" font-size="74" font-weight="normal">e</text>
<clipPath id="cf"><rect x="782.5" y="1260.3" width="564.0999999999999" height="456.9000000000001"/></clipPath>
<g clip-path="url(#cf)">
<polyline points="780.5,1588.2 781,1588.2 781.5,1588.2 782,1588.2 782.5,1588.2 783,1588.2 783.5,1588.2 784,1588.2 784.5,1588.2 785,1588.2 785.5,1588.2 786,1588.2 786.5,1588.2 787,1588.2 787.5,1588.2 788,1588.2 788.5,1588.2 789,1588.2 789.5,1588.2 790,1588.2 790.5,1588.2 791,1588.2 791.5,1588.2 792,1588.2 792.5,1588.2 793,1588.2 793.5,1588.2 794,1588.2 794.5,1588.2 795,1588.2 795.5,1588.2 796,1588.2 796.5,1588.2 797,1588.2 797.5,1588.2 798,1588.2 798.5,1588.2 799,1588.2 799.5,1588.2 800,1588.2 800.5,1588.2 801,1588.2 801.5,1588.2 802,1588.2 802.5,1588.2 803,1588.21 803.5,1588.21 804,1588.21 804.5,1588.21 805,1588.21 805.5,1588.21 806,1588.21 806.5,1588.21 807,1588.21 807.5,1588.21 808,1588.21 808.5,1588.21 809,1588.21 809.5,1588.21 810,1588.21 810.5,1588.21 811,1588.21 811.5,1588.21 812,1588.22 812.5,1588.22 813,1588.22 813.5,1588.22 814,1588.22 814.5,1588.22 815,1588.22 815.5,1588.22 816,1588.23 816.5,1588.23 817,1588.23 817.5,1588.23 818,1588.23 818.5,1588.23 819,1588.24 819.5,1588.24 820,1588.24 820.5,1588.24 821,1588.24 821.5,1588.25 822,1588.25 822.5,1588.25 823,1588.25 823.5,1588.26 824,1588.26 824.5,1588.26 825,1588.27 825.5,1588.27 826,1588.27 826.5,1588.27 827,1588.28 827.5,1588.28 828,1588.28 828.5,1588.29 829,1588.29 829.5,1588.3 830,1588.3 830.5,1588.31 831,1588.31 831.5,1588.32 832,1588.33 832.5,1588.33 833,1588.34 833.5,1588.35 834,1588.35 834.5,1588.36 835,1588.37 835.5,1588.38 836,1588.38 836.5,1588.39 837,1588.4 837.5,1588.41 838,1588.42 838.5,1588.43 839,1588.43 839.5,1588.44 840,1588.45 840.5,1588.46 841,1588.47 841.5,1588.48 842,1588.49 842.5,1588.5 843,1588.51 843.5,1588.52 844,1588.53 844.5,1588.54 845,1588.55 845.5,1588.56 846,1588.57 846.5,1588.58 847,1588.59 847.5,1588.6 848,1588.62 848.5,1588.63 849,1588.64 849.5,1588.65 850,1588.66 850.5,1588.67 851,1588.68 851.5,1588.69 852,1588.71 852.5,1588.72 853,1588.73 853.5,1588.74 854,1588.75 854.5,1588.77 855,1588.78 855.5,1588.79 856,1588.8 856.5,1588.81 857,1588.83 857.5,1588.84 858,1588.85 858.5,1588.86 859,1588.88 859.5,1588.89 860,1588.9 860.5,1588.91 861,1588.93 861.5,1588.94 862,1588.95 862.5,1588.96 863,1588.98 863.5,1588.99 864,1589 864.5,1589.01 865,1589.03 865.5,1589.04 866,1589.05 866.5,1589.07 867,1589.08 867.5,1589.1 868,1589.12 868.5,1589.13 869,1589.15 869.5,1589.17 870,1589.19 870.5,1589.21 871,1589.23 871.5,1589.25 872,1589.27 872.5,1589.29 873,1589.31 873.5,1589.33 874,1589.35 874.5,1589.37 875,1589.39 875.5,1589.42 876,1589.44 876.5,1589.46 877,1589.48 877.5,1589.5 878,1589.52 878.5,1589.55 879,1589.57 879.5,1589.59 880,1589.61 880.5,1589.63 881,1589.65 881.5,1589.67 882,1589.69 882.5,1589.71 883,1589.73 883.5,1589.75 884,1589.77 884.5,1589.79 885,1589.81 885.5,1589.83 886,1589.84 886.5,1589.86 887,1589.88 887.5,1589.89 888,1589.91 888.5,1589.92 889,1589.94 889.5,1589.95 890,1589.96 890.5,1589.97 891,1589.98 891.5,1589.99 892,1590 892.5,1590.01 893,1590.02 893.5,1590.02 894,1590.03 894.5,1590.03 895,1590.03 895.5,1590.04 896,1590.04 896.5,1590.04 897,1590.03 897.5,1590.03 898,1590.03 898.5,1590.02 899,1590.02 899.5,1590.01 900,1590 900.5,1589.98 901,1589.97 901.5,1589.95 902,1589.92 902.5,1589.9 903,1589.88 903.5,1589.85 904,1589.82 904.5,1589.79 905,1589.76 905.5,1589.72 906,1589.69 906.5,1589.65 907,1589.61 907.5,1589.57 908,1589.52 908.5,1589.48 909,1589.44 909.5,1589.39 910,1589.34 910.5,1589.29 911,1589.24 911.5,1589.19 912,1589.13 912.5,1589.08 913,1589.02 913.5,1588.97 914,1588.91 914.5,1588.85 915,1588.79 915.5,1588.73 916,1588.66 916.5,1588.6 917,1588.54 917.5,1588.47 918,1588.4 918.5,1588.34 919,1588.27 919.5,1588.2 920,1588.13 920.5,1588.06 921,1587.99 921.5,1587.92 922,1587.85 922.5,1587.78 923,1587.7 923.5,1587.63 924,1587.51 924.5,1587.36 925,1587.21 925.5,1587.06 926,1586.91 926.5,1586.75 927,1586.59 927.5,1586.43 928,1586.26 928.5,1586.09 929,1585.91 929.5,1585.73 930,1585.54 930.5,1585.35 931,1585.16 931.5,1584.95 932,1584.74 932.5,1584.52 933,1584.3 933.5,1584.07 934,1583.83 934.5,1583.58 935,1583.32 935.5,1583.05 936,1582.78 936.5,1582.49 937,1582.2 937.5,1581.9 938,1581.59 938.5,1581.28 939,1580.96 939.5,1580.63 940,1580.29 940.5,1579.95 941,1579.6 941.5,1579.25 942,1578.89 942.5,1578.52 943,1578.15 943.5,1577.77 944,1577.38 944.5,1576.99 945,1576.59 945.5,1576.19 946,1575.78 946.5,1575.36 947,1574.94 947.5,1574.49 948,1574 948.5,1573.54 949,1573.12 949.5,1572.71 950,1572.32 950.5,1571.93 951,1571.54 951.5,1571.12 952,1570.68 952.5,1570.2 953,1569.67 953.5,1569.08 954,1568.43 954.5,1567.7 955,1566.88 955.5,1565.96 956,1564.94 956.5,1563.8 957,1562.54 957.5,1561.16 958,1559.69 958.5,1558.12 959,1556.46 959.5,1554.73 960,1552.91 960.5,1551.02 961,1549.07 961.5,1547.05 962,1544.97 962.5,1542.84 963,1540.67 963.5,1538.45 964,1536.19 964.5,1533.9 965,1531.59 965.5,1529.25 966,1526.89 966.5,1524.36 967,1521.05 967.5,1517.55 968,1513.91 968.5,1510.15 969,1506.3 969.5,1502.4 970,1498.46 970.5,1494.53 971,1490.63 971.5,1486.8 972,1483.06 972.5,1479.44 973,1475.98 973.5,1472.7 974,1468 974.5,1463.48 975,1459.13 975.5,1454.95 976,1450.92 976.5,1447.04 977,1443.29 977.5,1439.67 978,1436.17 978.5,1432.8 979,1429.51 979.5,1426.28 980,1423.16 980.5,1420.19 981,1417.39 981.5,1414.81 982,1412.47 982.5,1410.43 983,1408.7 983.5,1406.21 984,1404.96 984.5,1404.61 985,1404.79 985.5,1405.16 986,1405.84 986.5,1406.9 987,1408.31 987.5,1410.02 988,1412 988.5,1414.13 989,1416.64 989.5,1419.39 990,1422.25 990.5,1425.06 991,1427.7 991.5,1429.63 992,1431.51 992.5,1433.34 993,1435.16 993.5,1437 994,1438.87 994.5,1440.8 995,1442.65 995.5,1444.31 996,1446.02 996.5,1447.77 997,1449.55 997.5,1451.32 998,1453.09 998.5,1454.83 999,1456.53 999.5,1458.18 1000,1459.78 1000.5,1461.33 1001,1462.82 1001.5,1464.29 1002,1465.74 1002.5,1467.19 1003,1468.66 1003.5,1470.17 1004,1471.73 1004.5,1473.14 1005,1474.25 1005.5,1475.39 1006,1476.56 1006.5,1477.75 1007,1478.94 1007.5,1480.15 1008,1481.36 1008.5,1482.57 1009,1483.78 1009.5,1484.97 1010,1486.14 1010.5,1487.29 1011,1488.42 1011.5,1489.52 1012,1490.58 1012.5,1491.61 1013,1492.62 1013.5,1493.61 1014,1494.58 1014.5,1495.54 1015,1496.5 1015.5,1497.46 1016,1498.43 1016.5,1499.4 1017,1500.39 1017.5,1501.4 1018,1502.44 1018.5,1503.5 1019,1504.32 1019.5,1505.16 1020,1506.01 1020.5,1506.88 1021,1507.77 1021.5,1508.66 1022,1509.56 1022.5,1510.46 1023,1511.37 1023.5,1512.28 1024,1513.18 1024.5,1514.08 1025,1514.97 1025.5,1515.85 1026,1516.72 1026.5,1517.57 1027,1518.4 1027.5,1519.21 1028,1520 1028.5,1520.77 1029,1521.52 1029.5,1522.25 1030,1522.97 1030.5,1523.67 1031,1524.36 1031.5,1525.05 1032,1525.72 1032.5,1526.39 1033,1527.05 1033.5,1527.71 1034,1528.36 1034.5,1529.01 1035,1529.67 1035.5,1530.32 1036,1530.98 1036.5,1531.65 1037,1532.32 1037.5,1533 1038,1533.69 1038.5,1534.38 1039,1535.09 1039.5,1535.79 1040,1536.51 1040.5,1537.22 1041,1537.93 1041.5,1538.64 1042,1539.35 1042.5,1540.06 1043,1540.76 1043.5,1541.45 1044,1542.14 1044.5,1542.81 1045,1543.48 1045.5,1544.13 1046,1544.77 1046.5,1545.39 1047,1546 1047.5,1546.6 1048,1547.17 1048.5,1547.74 1049,1548.29 1049.5,1548.83 1050,1549.35 1050.5,1549.87 1051,1550.38 1051.5,1550.88 1052,1551.38 1052.5,1551.87 1053,1552.36 1053.5,1552.85 1054,1553.33 1054.5,1553.82 1055,1554.31 1055.5,1554.8 1056,1555.3 1056.5,1555.77 1057,1556.1 1057.5,1556.43 1058,1556.77 1058.5,1557.11 1059,1557.44 1059.5,1557.78 1060,1558.12 1060.5,1558.45 1061,1558.79 1061.5,1559.13 1062,1559.46 1062.5,1559.8 1063,1560.13 1063.5,1560.47 1064,1560.8 1064.5,1561.13 1065,1561.46 1065.5,1561.78 1066,1562.11 1066.5,1562.43 1067,1562.75 1067.5,1563.06 1068,1563.37 1068.5,1563.68 1069,1563.99 1069.5,1564.29 1070,1564.59 1070.5,1564.88 1071,1565.12 1071.5,1565.32 1072,1565.52 1072.5,1565.72 1073,1565.93 1073.5,1566.14 1074,1566.35 1074.5,1566.57 1075,1566.78 1075.5,1566.99 1076,1567.21 1076.5,1567.43 1077,1567.64 1077.5,1567.86 1078,1568.07 1078.5,1568.28 1079,1568.49 1079.5,1568.7 1080,1568.91 1080.5,1569.12 1081,1569.32 1081.5,1569.52 1082,1569.71 1082.5,1569.9 1083,1570.09 1083.5,1570.27 1084,1570.44 1084.5,1570.62 1085,1570.78 1085.5,1570.94 1086,1571.09 1086.5,1571.24 1087,1571.38 1087.5,1571.51 1088,1571.63 1088.5,1571.75 1089,1571.86 1089.5,1571.95 1090,1572.04 1090.5,1572.12 1091,1572.19 1091.5,1572.25 1092,1572.3 1092.5,1572.36 1093,1572.39 1093.5,1572.42 1094,1572.42 1094.5,1572.41 1095,1572.38 1095.5,1572.34 1096,1572.28 1096.5,1572.21 1097,1572.12 1097.5,1572.02 1098,1571.91 1098.5,1571.79 1099,1571.65 1099.5,1571.51 1100,1571.35 1100.5,1571.18 1101,1571 1101.5,1570.82 1102,1570.62 1102.5,1570.42 1103,1570.21 1103.5,1569.99 1104,1569.76 1104.5,1569.53 1105,1569.29 1105.5,1569.05 1106,1568.8 1106.5,1568.52 1107,1568.2 1107.5,1567.86 1108,1567.51 1108.5,1567.15 1109,1566.78 1109.5,1566.39 1110,1565.98 1110.5,1565.57 1111,1565.14 1111.5,1564.7 1112,1564.25 1112.5,1563.78 1113,1563.31 1113.5,1562.82 1114,1562.33 1114.5,1561.82 1115,1561.3 1115.5,1560.77 1116,1560.24 1116.5,1559.69 1117,1559.14 1117.5,1558.57 1118,1558 1118.5,1557.29 1119,1556.58 1119.5,1555.87 1120,1555.16 1120.5,1554.44 1121,1553.71 1121.5,1552.96 1122,1552.2 1122.5,1551.42 1123,1550.6 1123.5,1549.76 1124,1548.89 1124.5,1547.97 1125,1547.02 1125.5,1546.02 1126,1544.97 1126.5,1543.87 1127,1542.72 1127.5,1541.5 1128,1540.23 1128.5,1538.9 1129,1537.53 1129.5,1536.11 1130,1534.64 1130.5,1533.14 1131,1531.59 1131.5,1530 1132,1528.38 1132.5,1526.72 1133,1525.03 1133.5,1523.31 1134,1521.57 1134.5,1519.79 1135,1517.99 1135.5,1516.17 1136,1514.33 1136.5,1512.47 1137,1510.6 1137.5,1508.01 1138,1505.3 1138.5,1502.48 1139,1499.58 1139.5,1496.62 1140,1493.61 1140.5,1490.58 1141,1487.55 1141.5,1484.54 1142,1481.57 1142.5,1478.66 1143,1475.83 1143.5,1473.11 1144,1470.5 1144.5,1468 1145,1465.51 1145.5,1463.05 1146,1460.61 1146.5,1458.22 1147,1455.88 1147.5,1453.6 1148,1451.39 1148.5,1449.26 1149,1447.21 1149.5,1445.27 1150,1443.43 1150.5,1441.7 1151,1440.1 1151.5,1438.25 1152,1436.4 1152.5,1434.82 1153,1433.47 1153.5,1432.31 1154,1431.3 1154.5,1430.4 1155,1429.58 1155.5,1428.79 1156,1428 1156.5,1427.22 1157,1426.53 1157.5,1425.93 1158,1425.41 1158.5,1424.97 1159,1424.62 1159.5,1424.34 1160,1424.15 1160.5,1424.03 1161,1423.99 1161.5,1424.06 1162,1424.24 1162.5,1424.52 1163,1424.88 1163.5,1425.32 1164,1425.83 1164.5,1426.39 1165,1427 1165.5,1427.51 1166,1428 1166.5,1428.5 1167,1429.04 1167.5,1429.63 1168,1430.31 1168.5,1431.09 1169,1431.99 1169.5,1433.04 1170,1434.26 1170.5,1435.03 1171,1435.44 1171.5,1435.86 1172,1436.3 1172.5,1436.75 1173,1437.23 1173.5,1437.71 1174,1438.22 1174.5,1438.73 1175,1439.26 1175.5,1439.8 1176,1440.36 1176.5,1440.92 1177,1441.49 1177.5,1442.07 1178,1442.66 1178.5,1443.25 1179,1443.85 1179.5,1444.46 1180,1445.07 1180.5,1445.68 1181,1446.29 1181.5,1446.91 1182,1447.53 1182.5,1448.15 1183,1448.76 1183.5,1449.38 1184,1449.99 1184.5,1450.6 1185,1451.21 1185.5,1451.81 1186,1452.4 1186.5,1452.99 1187,1453.57 1187.5,1454.14 1188,1454.7 1188.5,1455.25 1189,1455.79 1189.5,1456.36 1190,1456.98 1190.5,1457.6 1191,1458.22 1191.5,1458.84 1192,1459.47 1192.5,1460.11 1193,1460.74 1193.5,1461.38 1194,1462.01 1194.5,1462.65 1195,1463.28 1195.5,1463.91 1196,1464.53 1196.5,1465.16 1197,1465.78 1197.5,1466.39 1198,1466.99 1198.5,1467.59 1199,1468.18 1199.5,1468.76 1200,1469.34 1200.5,1469.9 1201,1470.45 1201.5,1470.99 1202,1471.51 1202.5,1472.02 1203,1472.52 1203.5,1473 1204,1473.47 1204.5,1473.92 1205,1474.35 1205.5,1474.76 1206,1475.18 1206.5,1475.61 1207,1476.01 1207.5,1476.39 1208,1476.74 1208.5,1477.07 1209,1477.37 1209.5,1477.66 1210,1477.93 1210.5,1478.18 1211,1478.41 1211.5,1478.63 1212,1478.84 1212.5,1479.05 1213,1479.24 1213.5,1479.42 1214,1479.6 1214.5,1479.78 1215,1479.96 1215.5,1480.13 1216,1480.31 1216.5,1480.49 1217,1480.68 1217.5,1480.87 1218,1481.07 1218.5,1481.29 1219,1481.51 1219.5,1481.75 1220,1482 1220.5,1482.15 1221,1482.3 1221.5,1482.46 1222,1482.61 1222.5,1482.77 1223,1482.93 1223.5,1483.09 1224,1483.25 1224.5,1483.41 1225,1483.57 1225.5,1483.73 1226,1483.89 1226.5,1484.05 1227,1484.22 1227.5,1484.38 1228,1484.55 1228.5,1484.71 1229,1484.87 1229.5,1485.04 1230,1485.21 1230.5,1485.37 1231,1485.54 1231.5,1485.7 1232,1485.87 1232.5,1486.03 1233,1486.2 1233.5,1486.36 1234,1486.53 1234.5,1486.69 1235,1486.85 1235.5,1487.02 1236,1487.18 1236.5,1487.34 1237,1487.5 1237.5,1487.66 1238,1487.82 1238.5,1487.98 1239,1488.14 1239.5,1488.3 1240,1488.45 1240.5,1488.61 1241,1488.76 1241.5,1488.92 1242,1489.07 1242.5,1489.22 1243,1489.36 1243.5,1489.51 1244,1489.66 1244.5,1489.8 1245,1489.88 1245.5,1489.96 1246,1490.05 1246.5,1490.13 1247,1490.21 1247.5,1490.29 1248,1490.37 1248.5,1490.45 1249,1490.53 1249.5,1490.61 1250,1490.69 1250.5,1490.77 1251,1490.85 1251.5,1490.93 1252,1491.01 1252.5,1491.09 1253,1491.17 1253.5,1491.25 1254,1491.32 1254.5,1491.4 1255,1491.48 1255.5,1491.56 1256,1491.63 1256.5,1491.71 1257,1491.79 1257.5,1491.86 1258,1491.94 1258.5,1492.01 1259,1492.09 1259.5,1492.17 1260,1492.24 1260.5,1492.32 1261,1492.39 1261.5,1492.46 1262,1492.54 1262.5,1492.61 1263,1492.69 1263.5,1492.76 1264,1492.83 1264.5,1492.91 1265,1492.98 1265.5,1493.05 1266,1493.13 1266.5,1493.2 1267,1493.27 1267.5,1493.34 1268,1493.41 1268.5,1493.49 1269,1493.56 1269.5,1493.63 1270,1493.7 1270.5,1493.77 1271,1493.84 1271.5,1493.91 1272,1493.98 1272.5,1494.05 1273,1494.12 1273.5,1494.19 1274,1494.26 1274.5,1494.33 1275,1494.4 1275.5,1494.47 1276,1494.54 1276.5,1494.61 1277,1494.68 1277.5,1494.75 1278,1494.82 1278.5,1494.88 1279,1494.95 1279.5,1495.02 1280,1495.09 1280.5,1495.16 1281,1495.22 1281.5,1495.29 1282,1495.36 1282.5,1495.43 1283,1495.49 1283.5,1495.56 1284,1495.63 1284.5,1495.69 1285,1495.76 1285.5,1495.83 1286,1495.89 1286.5,1495.96 1287,1496.05 1287.5,1496.17 1288,1496.29 1288.5,1496.41 1289,1496.53 1289.5,1496.65 1290,1496.77 1290.5,1496.89 1291,1497.01 1291.5,1497.13 1292,1497.25 1292.5,1497.37 1293,1497.49 1293.5,1497.61 1294,1497.72 1294.5,1497.84 1295,1497.96 1295.5,1498.07 1296,1498.19 1296.5,1498.3 1297,1498.42 1297.5,1498.53 1298,1498.64 1298.5,1498.75 1299,1498.86 1299.5,1498.97 1300,1499.08 1300.5,1499.19 1301,1499.3 1301.5,1499.4 1302,1499.51 1302.5,1499.61 1303,1499.71 1303.5,1499.81 1304,1499.91 1304.5,1500.01 1305,1500.11 1305.5,1500.21 1306,1500.3 1306.5,1500.39 1307,1500.48 1307.5,1500.57 1308,1500.66 1308.5,1500.75 1309,1500.83 1309.5,1500.92 1310,1501 1310.5,1501.44 1311,1501.87 1311.5,1502.26 1312,1502.62 1312.5,1502.93 1313,1503.19 1313.5,1503.37 1314,1503.48 1314.5,1503.49 1315,1503.39 1315.5,1503.19 1316,1502.93 1316.5,1502.62 1317,1502.31 1317.5,1502.02 1318,1501.77 1318.5,1501.58 1319,1501.5 1319.5,1501.48 1320,1501.47 1320.5,1501.48 1321,1501.51 1321.5,1501.56 1322,1501.65 1322.5,1501.77 1323,1501.94 1323.5,1502.16 1324,1502.43 1324.5,1502.77 1325,1503.05 1325.5,1503.17 1326,1503.3 1326.5,1503.44 1327,1503.59 1327.5,1503.75 1328,1503.92 1328.5,1504.09 1329,1504.27 1329.5,1504.46 1330,1504.66 1330.5,1504.86 1331,1505.06 1331.5,1505.27 1332,1505.48 1332.5,1505.7 1333,1505.92 1333.5,1506.14 1334,1506.37 1334.5,1506.59 1335,1506.82 1335.5,1507.05 1336,1507.27 1336.5,1507.5 1337,1507.72 1337.5,1507.95 1338,1508.17 1338.5,1508.39 1339,1508.6 1339.5,1508.81 1340,1509.02 1340.5,1509.22 1341,1509.42 1341.5,1509.61 1342,1509.8 1342.5,1509.98 1343,1510.15 1343.5,1510.31 1344,1510.47 1344.5,1510.62 1345,1510.75 1345.5,1510.88 1346,1511 1346.5,1511.51 1347,1511.87 1347.5,1512.1 1348,1512.25" fill="none" stroke="#000" stroke-width="2.8" stroke-linejoin="round" />
<polyline points="780.5,1660.5 781,1660.5 781.5,1660.49 782,1660.49 782.5,1660.49 783,1660.49 783.5,1660.49 784,1660.49 784.5,1660.49 785,1660.48 785.5,1660.48 786,1660.48 786.5,1660.48 787,1660.48 787.5,1660.48 788,1660.48 788.5,1660.48 789,1660.48 789.5,1660.48 790,1660.47 790.5,1660.47 791,1660.47 791.5,1660.47 792,1660.47 792.5,1660.47 793,1660.47 793.5,1660.47 794,1660.47 794.5,1660.47 795,1660.47 795.5,1660.47 796,1660.47 796.5,1660.47 797,1660.47 797.5,1660.47 798,1660.47 798.5,1660.46 799,1660.46 799.5,1660.46 800,1660.46 800.5,1660.46 801,1660.46 801.5,1660.46 802,1660.46 802.5,1660.46 803,1660.46 803.5,1660.46 804,1660.46 804.5,1660.45 805,1660.45 805.5,1660.45 806,1660.45 806.5,1660.45 807,1660.45 807.5,1660.45 808,1660.45 808.5,1660.44 809,1660.44 809.5,1660.44 810,1660.44 810.5,1660.44 811,1660.43 811.5,1660.43 812,1660.43 812.5,1660.43 813,1660.42 813.5,1660.42 814,1660.42 814.5,1660.41 815,1660.41 815.5,1660.41 816,1660.4 816.5,1660.4 817,1660.4 817.5,1660.39 818,1660.39 818.5,1660.38 819,1660.38 819.5,1660.38 820,1660.37 820.5,1660.37 821,1660.36 821.5,1660.35 822,1660.35 822.5,1660.34 823,1660.34 823.5,1660.33 824,1660.33 824.5,1660.32 825,1660.31 825.5,1660.31 826,1660.3 826.5,1660.29 827,1660.28 827.5,1660.28 828,1660.27 828.5,1660.26 829,1660.25 829.5,1660.24 830,1660.23 830.5,1660.22 831,1660.22 831.5,1660.21 832,1660.2 832.5,1660.19 833,1660.18 833.5,1660.16 834,1660.15 834.5,1660.14 835,1660.13 835.5,1660.12 836,1660.11 836.5,1660.09 837,1660.08 837.5,1660.07 838,1660.06 838.5,1660.04 839,1660.03 839.5,1660.01 840,1660 840.5,1659.94 841,1659.88 841.5,1659.82 842,1659.76 842.5,1659.69 843,1659.62 843.5,1659.55 844,1659.48 844.5,1659.41 845,1659.33 845.5,1659.25 846,1659.17 846.5,1659.09 847,1659 847.5,1658.91 848,1658.81 848.5,1658.71 849,1658.61 849.5,1658.5 850,1658.39 850.5,1658.27 851,1658.15 851.5,1658.03 852,1657.9 852.5,1657.76 853,1657.62 853.5,1657.47 854,1657.32 854.5,1657.16 855,1657 855.5,1656.61 856,1656.17 856.5,1655.69 857,1655.17 857.5,1654.63 858,1654.07 858.5,1653.5 859,1652.93 859.5,1652.37 860,1651.83 860.5,1651.31 861,1650.83 861.5,1650.39 862,1650 862.5,1649.62 863,1649.26 863.5,1648.91 864,1648.57 864.5,1648.26 865,1647.97 865.5,1647.71 866,1647.49 866.5,1647.3 867,1647.15 867.5,1647.05 868,1646.99 868.5,1646.99 869,1647.04 869.5,1647.13 870,1647.25 870.5,1647.41 871,1647.6 871.5,1647.83 872,1648.08 872.5,1648.37 873,1648.68 873.5,1649.01 874,1649.37 874.5,1649.75 875,1650.15 875.5,1650.57 876,1651 876.5,1651.38 877,1651.79 877.5,1652.23 878,1652.7 878.5,1653.19 879,1653.7 879.5,1654.23 880,1654.77 880.5,1655.31 881,1655.86 881.5,1656.41 882,1656.96 882.5,1657.51 883,1658.04 883.5,1658.56 884,1659.06 884.5,1659.54 885,1660 885.5,1660.4 886,1660.81 886.5,1661.21 887,1661.62 887.5,1662.02 888,1662.42 888.5,1662.82 889,1663.21 889.5,1663.59 890,1663.97 890.5,1664.34 891,1664.69 891.5,1665.04 892,1665.37 892.5,1665.68 893,1665.98 893.5,1666.27 894,1666.53 894.5,1666.78 895,1667 895.5,1667.26 896,1667.49 896.5,1667.71 897,1667.9 897.5,1668.08 898,1668.23 898.5,1668.36 899,1668.47 899.5,1668.56 900,1668.62 900.5,1668.66 901,1668.68 901.5,1668.67 902,1668.64 902.5,1668.58 903,1668.5 903.5,1668.39 904,1668.24 904.5,1668.05 905,1667.82 905.5,1667.56 906,1667.28 906.5,1666.98 907,1666.66 907.5,1666.34 908,1666.02 908.5,1665.7 909,1665.39 909.5,1665.09 910,1664.81 910.5,1664.56 911,1664.34 911.5,1664.15 912,1664 912.5,1663.94 913,1663.89 913.5,1663.84 914,1663.81 914.5,1663.77 915,1663.75 915.5,1663.72 916,1663.71 916.5,1663.7 917,1663.69 917.5,1663.68 918,1663.69 918.5,1663.69 919,1663.7 919.5,1663.71 920,1663.72 920.5,1663.73 921,1663.75 921.5,1663.77 922,1663.79 922.5,1663.81 923,1663.83 923.5,1663.85 924,1663.87 924.5,1663.89 925,1663.91 925.5,1663.93 926,1663.95 926.5,1663.96 927,1663.98 927.5,1663.99 928,1664 928.5,1664 929,1664.01 929.5,1664 930,1664 930.5,1664 931,1663.99 931.5,1663.99 932,1663.99 932.5,1663.98 933,1663.98 933.5,1663.97 934,1663.97 934.5,1663.96 935,1663.96 935.5,1663.95 936,1663.95 936.5,1663.94 937,1663.93 937.5,1663.93 938,1663.92 938.5,1663.91 939,1663.9 939.5,1663.89 940,1663.89 940.5,1663.88 941,1663.87 941.5,1663.86 942,1663.85 942.5,1663.84 943,1663.83 943.5,1663.82 944,1663.81 944.5,1663.8 945,1663.79 945.5,1663.78 946,1663.77 946.5,1663.76 947,1663.75 947.5,1663.74 948,1663.73 948.5,1663.72 949,1663.71 949.5,1663.7 950,1663.69 950.5,1663.68 951,1663.67 951.5,1663.65 952,1663.64 952.5,1663.63 953,1663.62 953.5,1663.61 954,1663.6 954.5,1663.59 955,1663.58 955.5,1663.57 956,1663.56 956.5,1663.55 957,1663.54 957.5,1663.53 958,1663.52 958.5,1663.51 959,1663.5 959.5,1663.49 960,1663.48 960.5,1663.48 961,1663.47 961.5,1663.46 962,1663.45 962.5,1663.44 963,1663.44 963.5,1663.43 964,1663.42 964.5,1663.41 965,1663.41 965.5,1663.4 966,1663.4 966.5,1663.39 967,1663.39 967.5,1663.38 968,1663.38 968.5,1663.37 969,1663.37 969.5,1663.36 970,1663.36 970.5,1663.36 971,1663.36 971.5,1663.35 972,1663.35 972.5,1663.35 973,1663.35 973.5,1663.35 974,1663.35 974.5,1663.35 975,1663.35 975.5,1663.36 976,1663.36 976.5,1663.36 977,1663.36 977.5,1663.37 978,1663.37 978.5,1663.38 979,1663.38 979.5,1663.39 980,1663.4 980.5,1663.4 981,1663.41 981.5,1663.42 982,1663.43 982.5,1663.44 983,1663.45 983.5,1663.46 984,1663.47 984.5,1663.49 985,1663.5 985.5,1663.55 986,1663.61 986.5,1663.68 987,1663.75 987.5,1663.83 988,1663.92 988.5,1664.01 989,1664.11 989.5,1664.21 990,1664.31 990.5,1664.43 991,1664.54 991.5,1664.66 992,1664.78 992.5,1664.91 993,1665.03 993.5,1665.17 994,1665.3 994.5,1665.44 995,1665.57 995.5,1665.71 996,1665.85 996.5,1666 997,1666.14 997.5,1666.28 998,1666.43 998.5,1666.57 999,1666.71 999.5,1666.86 1000,1667 1000.5,1667.04 1001,1667.08 1001.5,1667.13 1002,1667.17 1002.5,1667.21 1003,1667.25 1003.5,1667.3 1004,1667.34 1004.5,1667.38 1005,1667.42 1005.5,1667.46 1006,1667.5 1006.5,1667.55 1007,1667.59 1007.5,1667.63 1008,1667.67 1008.5,1667.71 1009,1667.76 1009.5,1667.8 1010,1667.84 1010.5,1667.88 1011,1667.92 1011.5,1667.97 1012,1668.01 1012.5,1668.05 1013,1668.09 1013.5,1668.14 1014,1668.18 1014.5,1668.22 1015,1668.26 1015.5,1668.31 1016,1668.35 1016.5,1668.39 1017,1668.44 1017.5,1668.48 1018,1668.52 1018.5,1668.57 1019,1668.61 1019.5,1668.66 1020,1668.7 1020.5,1668.74 1021,1668.79 1021.5,1668.83 1022,1668.88 1022.5,1668.93 1023,1668.97 1023.5,1669.02 1024,1669.06 1024.5,1669.11 1025,1669.16 1025.5,1669.2 1026,1669.25 1026.5,1669.3 1027,1669.35 1027.5,1669.39 1028,1669.44 1028.5,1669.49 1029,1669.54 1029.5,1669.59 1030,1669.64 1030.5,1669.69 1031,1669.74 1031.5,1669.79 1032,1669.84 1032.5,1669.89 1033,1669.95 1033.5,1670 1034,1670.05 1034.5,1670.11 1035,1670.16 1035.5,1670.21 1036,1670.27 1036.5,1670.32 1037,1670.38 1037.5,1670.43 1038,1670.49 1038.5,1670.55 1039,1670.6 1039.5,1670.66 1040,1670.72 1040.5,1670.78 1041,1670.84 1041.5,1670.9 1042,1670.96 1042.5,1671.02 1043,1671.08 1043.5,1671.14 1044,1671.2 1044.5,1671.27 1045,1671.33 1045.5,1671.4 1046,1671.46 1046.5,1671.53 1047,1671.59 1047.5,1671.66 1048,1671.73 1048.5,1671.79 1049,1671.86 1049.5,1671.93 1050,1672 1050.5,1672.07 1051,1672.14 1051.5,1672.22 1052,1672.29 1052.5,1672.37 1053,1672.44 1053.5,1672.52 1054,1672.6 1054.5,1672.68 1055,1672.76 1055.5,1672.84 1056,1672.93 1056.5,1673.01 1057,1673.1 1057.5,1673.18 1058,1673.27 1058.5,1673.36 1059,1673.44 1059.5,1673.53 1060,1673.62 1060.5,1673.71 1061,1673.81 1061.5,1673.9 1062,1673.99 1062.5,1674.09 1063,1674.18 1063.5,1674.28 1064,1674.37 1064.5,1674.47 1065,1674.56 1065.5,1674.66 1066,1674.76 1066.5,1674.86 1067,1674.95 1067.5,1675.05 1068,1675.15 1068.5,1675.25 1069,1675.35 1069.5,1675.45 1070,1675.55 1070.5,1675.65 1071,1675.75 1071.5,1675.85 1072,1675.96 1072.5,1676.06 1073,1676.16 1073.5,1676.26 1074,1676.36 1074.5,1676.46 1075,1676.56 1075.5,1676.66 1076,1676.76 1076.5,1676.87 1077,1676.97 1077.5,1677.07 1078,1677.17 1078.5,1677.27 1079,1677.37 1079.5,1677.47 1080,1677.57 1080.5,1677.67 1081,1677.77 1081.5,1677.86 1082,1677.96 1082.5,1678.06 1083,1678.16 1083.5,1678.25 1084,1678.35 1084.5,1678.45 1085,1678.54 1085.5,1678.64 1086,1678.73 1086.5,1678.82 1087,1678.92 1087.5,1679.01 1088,1679.1 1088.5,1679.19 1089,1679.28 1089.5,1679.37 1090,1679.46 1090.5,1679.54 1091,1679.63 1091.5,1679.71 1092,1679.8 1092.5,1679.88 1093,1679.97 1093.5,1680.05 1094,1680.13 1094.5,1680.21 1095,1680.28 1095.5,1680.36 1096,1680.44 1096.5,1680.51 1097,1680.59 1097.5,1680.66 1098,1680.73 1098.5,1680.8 1099,1680.87 1099.5,1680.93 1100,1681 1100.5,1681.16 1101,1681.32 1101.5,1681.48 1102,1681.63 1102.5,1681.78 1103,1681.93 1103.5,1682.07 1104,1682.22 1104.5,1682.36 1105,1682.49 1105.5,1682.63 1106,1682.76 1106.5,1682.88 1107,1683.01 1107.5,1683.13 1108,1683.25 1108.5,1683.36 1109,1683.47 1109.5,1683.58 1110,1683.69 1110.5,1683.79 1111,1683.89 1111.5,1683.98 1112,1684.07 1112.5,1684.16 1113,1684.24 1113.5,1684.32 1114,1684.4 1114.5,1684.47 1115,1684.54 1115.5,1684.6 1116,1684.66 1116.5,1684.72 1117,1684.77 1117.5,1684.82 1118,1684.87 1118.5,1684.91 1119,1684.94 1119.5,1684.97 1120,1685 1120.5,1685.04 1121,1685.07 1121.5,1685.1 1122,1685.12 1122.5,1685.13 1123,1685.13 1123.5,1685.13 1124,1685.11 1124.5,1685.08 1125,1685.05 1125.5,1685 1126,1684.94 1126.5,1684.86 1127,1684.78 1127.5,1684.67 1128,1684.56 1128.5,1684.42 1129,1684.27 1129.5,1684.11 1130,1683.92 1130.5,1683.72 1131,1683.5 1131.5,1683.26 1132,1683 1132.5,1682.73 1133,1682.43 1133.5,1682.1 1134,1681.75 1134.5,1681.37 1135,1680.96 1135.5,1680.54 1136,1680.1 1136.5,1679.64 1137,1679.17 1137.5,1678.7 1138,1678.21 1138.5,1677.72 1139,1677.23 1139.5,1676.73 1140,1676.24 1140.5,1675.75 1141,1675.27 1141.5,1674.8 1142,1674.35 1142.5,1673.9 1143,1673.48 1143.5,1673.07 1144,1672.69 1144.5,1672.33 1145,1672 1145.5,1671.66 1146,1671.32 1146.5,1670.99 1147,1670.66 1147.5,1670.34 1148,1670.03 1148.5,1669.72 1149,1669.43 1149.5,1669.14 1150,1668.86 1150.5,1668.6 1151,1668.34 1151.5,1668.1 1152,1667.88 1152.5,1667.66 1153,1667.46 1153.5,1667.28 1154,1667.11 1154.5,1666.96 1155,1666.83 1155.5,1666.72 1156,1666.63 1156.5,1666.55 1157,1666.5 1157.5,1666.47 1158,1666.46 1158.5,1666.46 1159,1666.48 1159.5,1666.51 1160,1666.56 1160.5,1666.62 1161,1666.7 1161.5,1666.79 1162,1666.89 1162.5,1667.01 1163,1667.14 1163.5,1667.28 1164,1667.43 1164.5,1667.6 1165,1667.77 1165.5,1667.95 1166,1668.15 1166.5,1668.35 1167,1668.56 1167.5,1668.78 1168,1669.01 1168.5,1669.25 1169,1669.49 1169.5,1669.74 1170,1670 1170.5,1670.17 1171,1670.35 1171.5,1670.54 1172,1670.73 1172.5,1670.93 1173,1671.13 1173.5,1671.34 1174,1671.55 1174.5,1671.77 1175,1672 1175.5,1672.23 1176,1672.46 1176.5,1672.7 1177,1672.94 1177.5,1673.19 1178,1673.44 1178.5,1673.69 1179,1673.95 1179.5,1674.21 1180,1674.47 1180.5,1674.73 1181,1675 1181.5,1675.27 1182,1675.54 1182.5,1675.82 1183,1676.09 1183.5,1676.37 1184,1676.65 1184.5,1676.93 1185,1677.21 1185.5,1677.49 1186,1677.77 1186.5,1678.05 1187,1678.33 1187.5,1678.61 1188,1678.89 1188.5,1679.17 1189,1679.45 1189.5,1679.72 1190,1680 1190.5,1680.18 1191,1680.37 1191.5,1680.56 1192,1680.75 1192.5,1680.94 1193,1681.14 1193.5,1681.33 1194,1681.53 1194.5,1681.73 1195,1681.93 1195.5,1682.13 1196,1682.34 1196.5,1682.54 1197,1682.75 1197.5,1682.95 1198,1683.16 1198.5,1683.37 1199,1683.58 1199.5,1683.79 1200,1684 1200.5,1684.21 1201,1684.42 1201.5,1684.64 1202,1684.85 1202.5,1685.06 1203,1685.27 1203.5,1685.49 1204,1685.7 1204.5,1685.91 1205,1686.12 1205.5,1686.34 1206,1686.55 1206.5,1686.76 1207,1686.97 1207.5,1687.18 1208,1687.39 1208.5,1687.6 1209,1687.81 1209.5,1688.02 1210,1688.22 1210.5,1688.43 1211,1688.63 1211.5,1688.83 1212,1689.03 1212.5,1689.23 1213,1689.43 1213.5,1689.63 1214,1689.82 1214.5,1690.02 1215,1690.21 1215.5,1690.4 1216,1690.58 1216.5,1690.77 1217,1690.95 1217.5,1691.13 1218,1691.31 1218.5,1691.49 1219,1691.66 1219.5,1691.83 1220,1692 1220.5,1692.12 1221,1692.25 1221.5,1692.37 1222,1692.5 1222.5,1692.62 1223,1692.74 1223.5,1692.86 1224,1692.98 1224.5,1693.1 1225,1693.22 1225.5,1693.34 1226,1693.46 1226.5,1693.57 1227,1693.69 1227.5,1693.8 1228,1693.92 1228.5,1694.03 1229,1694.15 1229.5,1694.26 1230,1694.38 1230.5,1694.49 1231,1694.6 1231.5,1694.71 1232,1694.82 1232.5,1694.93 1233,1695.04 1233.5,1695.15 1234,1695.25 1234.5,1695.36 1235,1695.47 1235.5,1695.57 1236,1695.68 1236.5,1695.78 1237,1695.89 1237.5,1695.99 1238,1696.1 1238.5,1696.2 1239,1696.3 1239.5,1696.4 1240,1696.5 1240.5,1696.6 1241,1696.7 1241.5,1696.8 1242,1696.89 1242.5,1696.99 1243,1697.09 1243.5,1697.18 1244,1697.28 1244.5,1697.37 1245,1697.47 1245.5,1697.56 1246,1697.65 1246.5,1697.75 1247,1697.84 1247.5,1697.93 1248,1698.02 1248.5,1698.11 1249,1698.2 1249.5,1698.29 1250,1698.38 1250.5,1698.46 1251,1698.55 1251.5,1698.63 1252,1698.72 1252.5,1698.8 1253,1698.89 1253.5,1698.97 1254,1699.06 1254.5,1699.14 1255,1699.22 1255.5,1699.3 1256,1699.38 1256.5,1699.46 1257,1699.54 1257.5,1699.62 1258,1699.7 1258.5,1699.77 1259,1699.85 1259.5,1699.92 1260,1700 1260.5,1700.07 1261,1700.15 1261.5,1700.22 1262,1700.29 1262.5,1700.36 1263,1700.43 1263.5,1700.5 1264,1700.57 1264.5,1700.63 1265,1700.7 1265.5,1700.76 1266,1700.83 1266.5,1700.89 1267,1700.95 1267.5,1701.01 1268,1701.07 1268.5,1701.13 1269,1701.19 1269.5,1701.25 1270,1701.3 1270.5,1701.36 1271,1701.42 1271.5,1701.47 1272,1701.53 1272.5,1701.58 1273,1701.63 1273.5,1701.68 1274,1701.74 1274.5,1701.79 1275,1701.84 1275.5,1701.89 1276,1701.94 1276.5,1701.98 1277,1702.03 1277.5,1702.08 1278,1702.13 1278.5,1702.17 1279,1702.22 1279.5,1702.27 1280,1702.31 1280.5,1702.36 1281,1702.4 1281.5,1702.45 1282,1702.49 1282.5,1702.53 1283,1702.58 1283.5,1702.62 1284,1702.66 1284.5,1702.71 1285,1702.75 1285.5,1702.79 1286,1702.83 1286.5,1702.87 1287,1702.92 1287.5,1702.96 1288,1703 1288.5,1703.04 1289,1703.08 1289.5,1703.12 1290,1703.16 1290.5,1703.21 1291,1703.25 1291.5,1703.29 1292,1703.33 1292.5,1703.37 1293,1703.41 1293.5,1703.45 1294,1703.49 1294.5,1703.53 1295,1703.58 1295.5,1703.62 1296,1703.66 1296.5,1703.7 1297,1703.74 1297.5,1703.78 1298,1703.83 1298.5,1703.87 1299,1703.91 1299.5,1703.96 1300,1704 1300.5,1704.04 1301,1704.07 1301.5,1704.11 1302,1704.15 1302.5,1704.18 1303,1704.22 1303.5,1704.26 1304,1704.29 1304.5,1704.33 1305,1704.37 1305.5,1704.41 1306,1704.44 1306.5,1704.48 1307,1704.52 1307.5,1704.56 1308,1704.59 1308.5,1704.63 1309,1704.67 1309.5,1704.7 1310,1704.74 1310.5,1704.78 1311,1704.82 1311.5,1704.85 1312,1704.89 1312.5,1704.93 1313,1704.96 1313.5,1705 1314,1705.04 1314.5,1705.08 1315,1705.11 1315.5,1705.15 1316,1705.19 1316.5,1705.22 1317,1705.26 1317.5,1705.29 1318,1705.33 1318.5,1705.37 1319,1705.4 1319.5,1705.44 1320,1705.47 1320.5,1705.51 1321,1705.54 1321.5,1705.58 1322,1705.61 1322.5,1705.65 1323,1705.68 1323.5,1705.72 1324,1705.75 1324.5,1705.78 1325,1705.82 1325.5,1705.85 1326,1705.88 1326.5,1705.92 1327,1705.95 1327.5,1705.98 1328,1706.01 1328.5,1706.05 1329,1706.08 1329.5,1706.11 1330,1706.14 1330.5,1706.17 1331,1706.2 1331.5,1706.23 1332,1706.26 1332.5,1706.29 1333,1706.32 1333.5,1706.35 1334,1706.37 1334.5,1706.4 1335,1706.43 1335.5,1706.46 1336,1706.48 1336.5,1706.51 1337,1706.54 1337.5,1706.56 1338,1706.59 1338.5,1706.61 1339,1706.64 1339.5,1706.66 1340,1706.69 1340.5,1706.71 1341,1706.73 1341.5,1706.75 1342,1706.78 1342.5,1706.8 1343,1706.82 1343.5,1706.84 1344,1706.86 1344.5,1706.88 1345,1706.9 1345.5,1706.92 1346,1706.93 1346.5,1706.95 1347,1706.97 1347.5,1706.98 1348,1707" fill="none" stroke="#8000FF" stroke-width="2.8" stroke-linejoin="round" />
</g>
<line x1="868.6" y1="1542.4" x2="868.6" y2="1702.2" stroke="#000" stroke-width="2.3" stroke-dasharray="13.7 6 3.3 6"/>
<line x1="984.2" y1="1366" x2="984.2" y2="1702" stroke="#000" stroke-width="2.3" stroke-dasharray="13.7 6 3.3 6"/>
<line x1="1163.9" y1="1396" x2="1163.9" y2="1713.6" stroke="#000" stroke-width="2.3" stroke-dasharray="13.7 6 3.3 6"/>
<rect x="782.5" y="1260.3" width="564.1" height="456.9" fill="none" stroke="#000" stroke-width="3"/>
<line x1="813" y1="1717.2" x2="813" y2="1725.2" stroke="#000" stroke-width="2.8" />
<text x="772.88" y="1763" font-size="40" fill="#000" font-weight="bold"><tspan>2200</tspan></text>
<line x1="889.3" y1="1717.2" x2="889.3" y2="1721.7" stroke="#000" stroke-width="2.8" />
<line x1="965.6" y1="1717.2" x2="965.6" y2="1725.2" stroke="#000" stroke-width="2.8" />
<text x="925.48" y="1763" font-size="40" fill="#000" font-weight="bold"><tspan>2100</tspan></text>
<line x1="1041.9" y1="1717.2" x2="1041.9" y2="1721.7" stroke="#000" stroke-width="2.8" />
<line x1="1118.2" y1="1717.2" x2="1118.2" y2="1725.2" stroke="#000" stroke-width="2.8" />
<text x="1078.08" y="1763" font-size="40" fill="#000" font-weight="bold"><tspan>2000</tspan></text>
<line x1="1194.5" y1="1717.2" x2="1194.5" y2="1721.7" stroke="#000" stroke-width="2.8" />
<line x1="1270.8" y1="1717.2" x2="1270.8" y2="1725.2" stroke="#000" stroke-width="2.8" />
<text x="1229.92" y="1763" font-size="40" fill="#000" font-weight="bold"><tspan>1900</tspan></text>
<line x1="1347.1" y1="1717.2" x2="1347.1" y2="1721.7" stroke="#000" stroke-width="2.8" />
<text x="855.26" y="1808.3" font-size="49.51" fill="#000" font-weight="bold"><tspan>Wavenumber (cm</tspan><tspan dy="-19.81" font-size="33.67">-1</tspan><tspan dy="19.81">)</tspan></text>
<text x="757.4" y="1765.31" font-size="49.59" font-weight="bold" transform="rotate(-90 757.4 1765.31)"><tspan>Absorbance (arb. units)</tspan></text>
<text x="1259.19" y="1304" font-size="38.99" fill="#000" font-weight="bold"><tspan>0.05</tspan></text>
<line x1="1337.1" y1="1267.7" x2="1337.1" y2="1311.6" stroke="#000" stroke-width="3.1" />
<line x1="1333.1" y1="1267.7" x2="1341.1" y2="1267.7" stroke="#000" stroke-width="3.1" />
<line x1="1333.1" y1="1311.6" x2="1341.1" y2="1311.6" stroke="#000" stroke-width="3.1" />
<text x="940.9" y="1353.2" font-size="39.25" fill="#000" font-weight="bold"><tspan>2087</tspan></text>
<text x="1114.3" y="1394.3" font-size="43" fill="#000" font-weight="bold"><tspan>1970</tspan></text>
<text x="802.02" y="1481.9" font-size="39.52" fill="#000" font-weight="bold"><tspan>CO-Ce</tspan><tspan dy="-13.83" font-size="26.87">3+</tspan></text>
<text x="821.4" y="1528.5" font-size="38.4" fill="#000" font-weight="bold"><tspan>2164</tspan></text>
<text x="1125.2" y="1578" font-size="38" fill="#000" font-weight="bold"><tspan>Pd/CeO</tspan><tspan dy="9.88" font-size="26.6">2</tspan><tspan dy="-9.88">-AT</tspan></text>
<text x="987.04" y="1661.5" font-size="39.79" fill="#8000FF" font-weight="bold"><tspan>× 5</tspan></text>
<text x="1071.17" y="1660.5" font-size="42.17" fill="#8000FF" font-weight="bold"><tspan>Pd/CeO</tspan><tspan dy="10.96" font-size="29.52">2</tspan><tspan dy="-10.96">-AT-S</tspan></text>
<text x="689.8" y="1259.2" font-size="74" font-weight="normal">f</text>
</svg></body></html>
